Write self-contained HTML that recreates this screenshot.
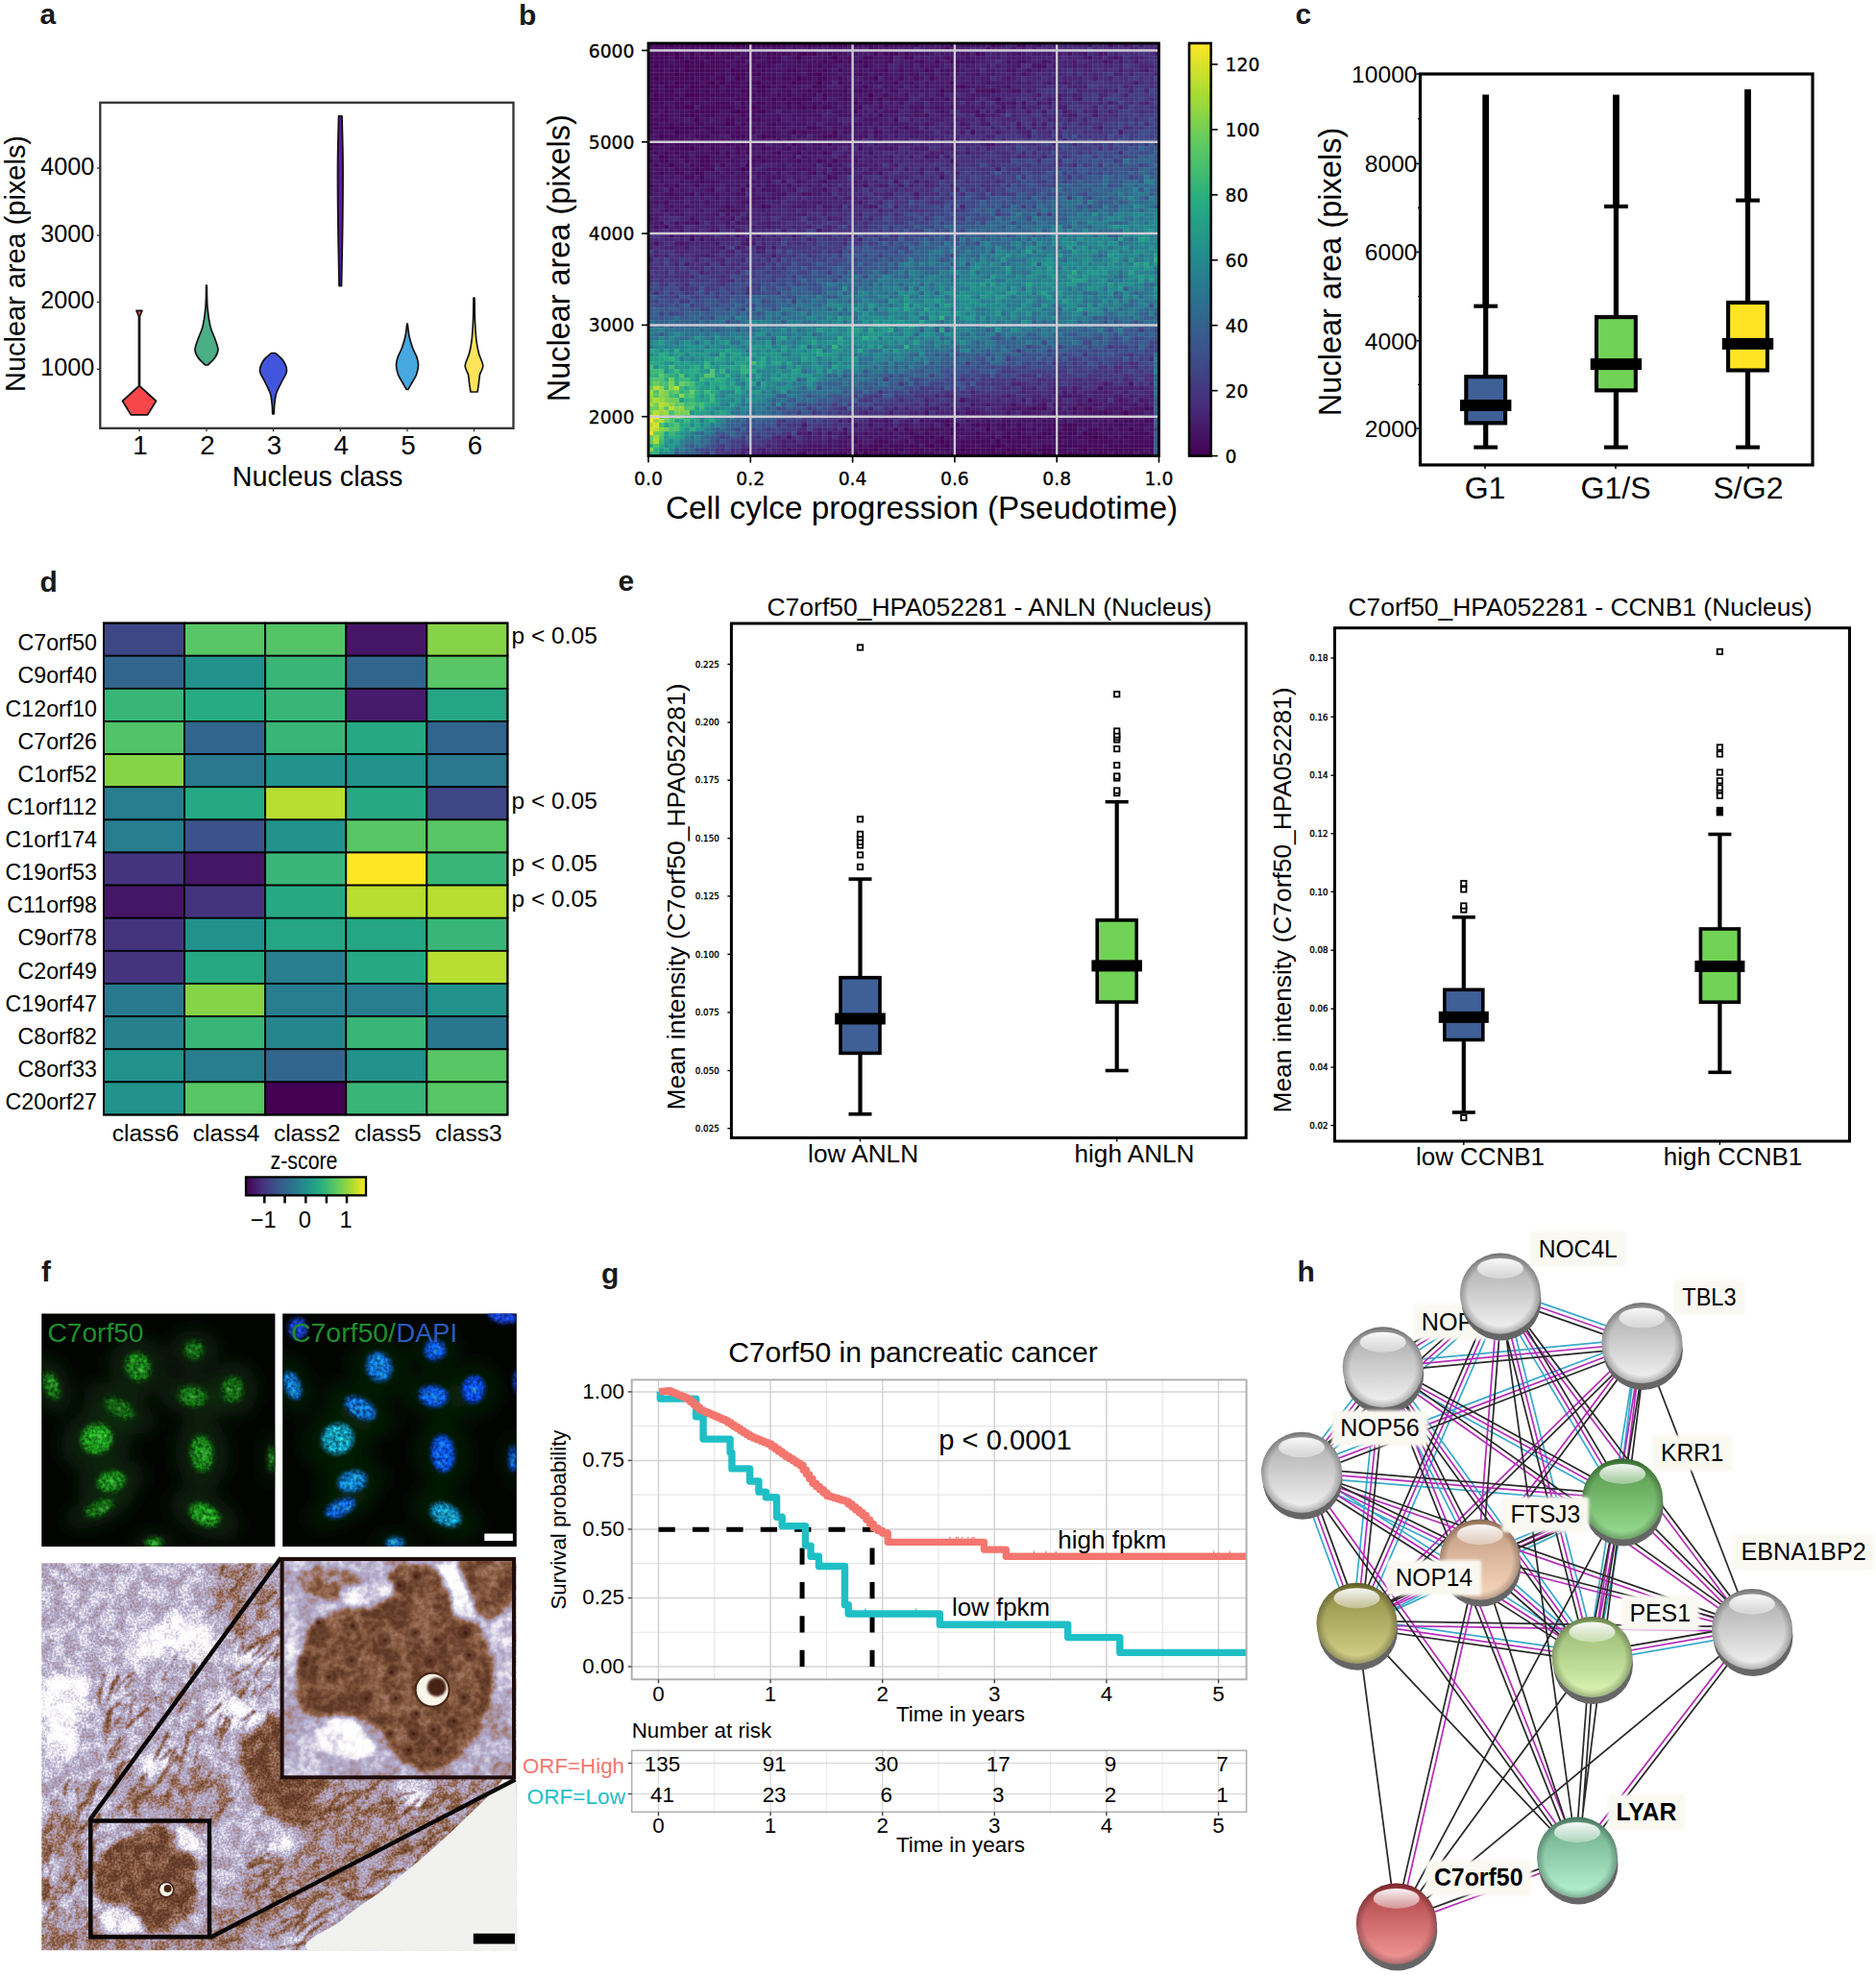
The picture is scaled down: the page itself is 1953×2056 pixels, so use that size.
<!DOCTYPE html>
<html><head><meta charset="utf-8"><title>Figure</title>
<style>html,body{margin:0;padding:0;background:#fff}svg{display:block}text{font-family:"Liberation Sans",sans-serif}text.d{font-family:"DejaVu Sans","Liberation Sans",sans-serif}</style>
</head><body>
<svg width="1953" height="2056" viewBox="0 0 1953 2056">
<rect width="1953" height="2056" fill="#fff"/>
<text  x="41.5" y="25" font-size="30" font-weight="bold" fill="#1a1a1a" >a</text>
<rect x="104.3" y="106.8" width="430.2" height="339" fill="#fff" stroke="#333" stroke-width="2.3" />
<path d="M100.8 175L104.3 175" stroke="#333" stroke-width="1.3" />
<text  x="98.4" y="181.7" font-size="25.2" text-anchor="end" >4000</text>
<path d="M100.8 245L104.3 245" stroke="#333" stroke-width="1.3" />
<text  x="98.4" y="251.7" font-size="25.2" text-anchor="end" >3000</text>
<path d="M100.8 314.5L104.3 314.5" stroke="#333" stroke-width="1.3" />
<text  x="98.4" y="321.2" font-size="25.2" text-anchor="end" >2000</text>
<path d="M100.8 384.3L104.3 384.3" stroke="#333" stroke-width="1.3" />
<text  x="98.4" y="391" font-size="25.2" text-anchor="end" >1000</text>
<path d="M145 445.8L145 449.3" stroke="#333" stroke-width="1.3" />
<text  x="146" y="473.4" font-size="27.8" text-anchor="middle" >1</text>
<path d="M215 445.8L215 449.3" stroke="#333" stroke-width="1.3" />
<text  x="216" y="473.4" font-size="27.8" text-anchor="middle" >2</text>
<path d="M284.5 445.8L284.5 449.3" stroke="#333" stroke-width="1.3" />
<text  x="285.5" y="473.4" font-size="27.8" text-anchor="middle" >3</text>
<path d="M354.3 445.8L354.3 449.3" stroke="#333" stroke-width="1.3" />
<text  x="355.3" y="473.4" font-size="27.8" text-anchor="middle" >4</text>
<path d="M424 445.8L424 449.3" stroke="#333" stroke-width="1.3" />
<text  x="425" y="473.4" font-size="27.8" text-anchor="middle" >5</text>
<path d="M493.5 445.8L493.5 449.3" stroke="#333" stroke-width="1.3" />
<text  x="494.5" y="473.4" font-size="27.8" text-anchor="middle" >6</text>
<text  x="330.6" y="506.2" font-size="28.8" text-anchor="middle" textLength="177.5" lengthAdjust="spacingAndGlyphs" >Nucleus class</text>
<text  font-size="29" text-anchor="middle" textLength="267" lengthAdjust="spacingAndGlyphs" transform="translate(26.2 274.5) rotate(-90)" >Nuclear area (pixels)</text>
<path d="M148 323.3L145.5 329.5L145.5 402L162.5 417.5L153.7 431.8L136.3 431.8L127.5 417.5L144.5 402L144.5 329.5L142 323.3Z" fill="#f8474a" stroke="#111" stroke-width="1.7" stroke-linejoin="round"/>
<path d="M215.3 297C215.42 300.83 215.38 312.83 216 320C216.62 327.17 217.75 334.67 219 340C220.25 345.33 222.17 348.03 223.5 352C224.83 355.97 226.92 360.47 227 363.8C227.08 367.13 225.75 369.3 224 372C222.25 374.7 217.75 378.67 216.5 380L213.5 380C212.25 378.67 207.75 374.7 206 372C204.25 369.3 202.92 367.13 203 363.8C203.08 360.47 205.17 355.97 206.5 352C207.83 348.03 209.75 345.33 211 340C212.25 334.67 213.38 327.17 214 320C214.62 312.83 214.58 300.83 214.7 297Z" fill="#4aae86" stroke="#111" stroke-width="1.7" stroke-linejoin="round"/>
<path d="M286.5 367.5C287.83 368.75 292.5 371.92 294.5 375C296.5 378.08 298.67 382.33 298.5 386C298.33 389.67 295.33 393 293.5 397C291.67 401 288.8 405.83 287.5 410C286.2 414.17 286.07 418.5 285.7 422C285.33 425.5 285.37 429.5 285.3 431L283.7 431C283.63 429.5 283.67 425.5 283.3 422C282.93 418.5 282.8 414.17 281.5 410C280.2 405.83 277.33 401 275.5 397C273.67 393 270.67 389.67 270.5 386C270.33 382.33 272.5 378.08 274.5 375C276.5 371.92 281.17 368.75 282.5 367.5Z" fill="#4455dd" stroke="#111" stroke-width="1.7" stroke-linejoin="round"/>
<path d="M356 121C356.17 129.17 356.88 151.83 357 170C357.12 188.17 356.95 208.75 356.7 230C356.45 251.25 355.7 286.25 355.5 297.5L353.1 297.5C352.9 286.25 352.15 251.25 351.9 230C351.65 208.75 351.48 188.17 351.6 170C351.72 151.83 352.43 129.17 352.6 121Z" fill="#5c19ad" stroke="#111" stroke-width="1.8" stroke-linejoin="round"/>
<path d="M424.3 337C424.58 339.17 425.13 345.83 426 350C426.87 354.17 428.17 358.33 429.5 362C430.83 365.67 433 369 434 372C435 375 435.58 377 435.5 380C435.42 383 434.67 386.83 433.5 390C432.33 393.17 429.95 396.42 428.5 399C427.05 401.58 425.42 404.42 424.8 405.5L423.2 405.5C422.58 404.42 420.95 401.58 419.5 399C418.05 396.42 415.67 393.17 414.5 390C413.33 386.83 412.58 383 412.5 380C412.42 377 413 375 414 372C415 369 417.17 365.67 418.5 362C419.83 358.33 421.13 354.17 422 350C422.87 345.83 423.42 339.17 423.7 337Z" fill="#48a8e0" stroke="#111" stroke-width="1.7" stroke-linejoin="round"/>
<path d="M494 310C494.08 314.17 494.17 327.5 494.5 335C494.83 342.5 495.33 349.5 496 355C496.67 360.5 497.37 363.7 498.5 368C499.63 372.3 502.63 377.13 502.8 380.8C502.97 384.47 500.25 386.8 499.5 390C498.75 393.2 498.72 397 498.3 400C497.88 403 497.22 406.67 497 408L490 408C489.78 406.67 489.12 403 488.7 400C488.28 397 488.25 393.2 487.5 390C486.75 386.8 484.03 384.47 484.2 380.8C484.37 377.13 487.37 372.3 488.5 368C489.63 363.7 490.33 360.5 491 355C491.67 349.5 492.17 342.5 492.5 335C492.83 327.5 492.92 314.17 493 310Z" fill="#ffe45a" stroke="#111" stroke-width="1.7" stroke-linejoin="round"/>
<text  x="540" y="25.5" font-size="30" font-weight="bold" fill="#1a1a1a" >b</text>
<g transform="translate(675 45) scale(5.3150 4.2960)" shape-rendering="crispEdges">
<rect width="100" height="100" fill="#451364"/>
<path fill="#440154" d="M4 0h1v1h-1zM12 0h1v1h-1zM16 0h2v1h-2zM8 1h1v1h-1zM12 1h1v1h-1zM19 1h1v1h-1zM43 1h1v1h-1zM58 1h1v1h-1zM3 2h1v1h-1zM5 2h1v1h-1zM8 2h1v1h-1zM12 2h1v1h-1zM30 2h1v1h-1zM32 2h1v1h-1zM5 3h1v1h-1zM8 3h1v1h-1zM29 3h1v1h-1zM36 3h1v1h-1zM7 4h1v1h-1zM1 5h1v1h-1zM7 5h1v1h-1zM10 5h1v1h-1zM21 5h1v1h-1zM7 6h1v1h-1zM16 6h1v1h-1zM5 7h1v1h-1zM21 7h1v1h-1zM33 7h1v1h-1zM1 8h1v1h-1zM14 8h1v1h-1zM17 8h1v1h-1zM29 8h1v1h-1zM44 8h1v1h-1zM5 9h1v1h-1zM12 9h1v1h-1zM14 9h1v1h-1zM21 9h1v1h-1zM28 9h1v1h-1zM33 9h1v1h-1zM3 10h1v1h-1zM5 10h1v1h-1zM8 10h1v1h-1zM13 10h1v1h-1zM22 10h1v1h-1zM1 12h1v1h-1zM7 12h3v1h-3zM43 12h1v1h-1zM1 13h1v1h-1zM7 15h2v1h-2zM20 15h1v1h-1zM32 15h1v1h-1zM17 16h1v1h-1zM22 16h1v1h-1zM8 17h1v1h-1zM9 18h1v1h-1zM15 19h1v1h-1zM4 20h1v1h-1zM5 21h1v1h-1zM28 21h1v1h-1zM2 22h1v1h-1zM22 22h1v1h-1zM1 24h1v1h-1zM8 25h1v1h-1zM2 27h1v1h-1zM4 29h1v1h-1zM19 29h1v1h-1zM18 30h1v1h-1zM93 89h1v1h-1zM76 90h1v1h-1zM93 90h1v1h-1zM66 93h1v1h-1zM94 93h1v1h-1zM85 94h1v1h-1zM70 95h1v1h-1zM87 95h1v1h-1zM57 96h1v1h-1zM68 96h1v1h-1zM55 97h1v1h-1zM58 97h1v1h-1zM68 97h1v1h-1zM44 98h1v1h-1zM61 98h1v1h-1zM67 98h1v1h-1zM70 98h2v1h-2zM77 98h2v1h-2zM85 98h1v1h-1zM40 99h1v1h-1zM42 99h1v1h-1zM52 99h1v1h-1zM60 99h1v1h-1zM67 99h1v1h-1zM69 99h1v1h-1zM71 99h1v1h-1zM73 99h2v1h-2zM77 99h2v1h-2zM88 99h2v1h-2z"/>
<path fill="#450a5c" d="M0 0h4v1h-4zM5 0h7v1h-7zM13 0h3v1h-3zM18 0h9v1h-9zM30 0h4v1h-4zM36 0h3v1h-3zM40 0h1v1h-1zM43 0h1v1h-1zM46 0h1v1h-1zM52 0h1v1h-1zM59 0h1v1h-1zM67 0h1v1h-1zM72 0h2v1h-2zM0 1h8v1h-8zM9 1h1v1h-1zM11 1h1v1h-1zM13 1h3v1h-3zM17 1h1v1h-1zM20 1h1v1h-1zM24 1h3v1h-3zM28 1h1v1h-1zM31 1h1v1h-1zM36 1h2v1h-2zM44 1h1v1h-1zM66 1h1v1h-1zM71 1h1v1h-1zM0 2h3v1h-3zM4 2h1v1h-1zM6 2h1v1h-1zM10 2h2v1h-2zM14 2h4v1h-4zM19 2h1v1h-1zM23 2h2v1h-2zM26 2h2v1h-2zM29 2h1v1h-1zM31 2h1v1h-1zM35 2h1v1h-1zM44 2h1v1h-1zM46 2h3v1h-3zM50 2h1v1h-1zM64 2h1v1h-1zM0 3h4v1h-4zM6 3h1v1h-1zM9 3h1v1h-1zM11 3h6v1h-6zM18 3h4v1h-4zM23 3h3v1h-3zM39 3h1v1h-1zM42 3h2v1h-2zM47 3h1v1h-1zM50 3h2v1h-2zM58 3h1v1h-1zM0 4h4v1h-4zM5 4h2v1h-2zM8 4h3v1h-3zM12 4h3v1h-3zM17 4h2v1h-2zM20 4h1v1h-1zM23 4h3v1h-3zM29 4h1v1h-1zM34 4h1v1h-1zM36 4h2v1h-2zM39 4h1v1h-1zM41 4h2v1h-2zM47 4h1v1h-1zM53 4h1v1h-1zM56 4h1v1h-1zM59 4h2v1h-2zM0 5h1v1h-1zM2 5h5v1h-5zM8 5h2v1h-2zM11 5h5v1h-5zM17 5h1v1h-1zM19 5h1v1h-1zM22 5h2v1h-2zM31 5h1v1h-1zM33 5h1v1h-1zM35 5h1v1h-1zM42 5h1v1h-1zM0 6h3v1h-3zM4 6h2v1h-2zM8 6h7v1h-7zM17 6h4v1h-4zM22 6h1v1h-1zM27 6h2v1h-2zM31 6h1v1h-1zM34 6h1v1h-1zM37 6h1v1h-1zM46 6h1v1h-1zM49 6h1v1h-1zM54 6h1v1h-1zM0 7h5v1h-5zM6 7h7v1h-7zM14 7h1v1h-1zM16 7h3v1h-3zM20 7h1v1h-1zM31 7h2v1h-2zM41 7h1v1h-1zM0 8h1v1h-1zM2 8h7v1h-7zM10 8h2v1h-2zM13 8h1v1h-1zM18 8h1v1h-1zM22 8h3v1h-3zM26 8h2v1h-2zM30 8h2v1h-2zM33 8h2v1h-2zM37 8h1v1h-1zM49 8h1v1h-1zM52 8h1v1h-1zM55 8h1v1h-1zM0 9h4v1h-4zM6 9h4v1h-4zM11 9h1v1h-1zM16 9h2v1h-2zM19 9h2v1h-2zM24 9h1v1h-1zM29 9h1v1h-1zM37 9h1v1h-1zM48 9h1v1h-1zM59 9h1v1h-1zM0 10h2v1h-2zM4 10h1v1h-1zM6 10h1v1h-1zM9 10h4v1h-4zM15 10h3v1h-3zM19 10h1v1h-1zM21 10h1v1h-1zM23 10h1v1h-1zM26 10h1v1h-1zM32 10h2v1h-2zM42 10h1v1h-1zM61 10h1v1h-1zM0 11h2v1h-2zM3 11h2v1h-2zM7 11h3v1h-3zM11 11h1v1h-1zM13 11h1v1h-1zM15 11h1v1h-1zM18 11h2v1h-2zM21 11h2v1h-2zM27 11h1v1h-1zM31 11h1v1h-1zM33 11h1v1h-1zM38 11h1v1h-1zM41 11h1v1h-1zM57 11h1v1h-1zM67 11h1v1h-1zM2 12h4v1h-4zM10 12h7v1h-7zM19 12h2v1h-2zM22 12h1v1h-1zM25 12h1v1h-1zM27 12h1v1h-1zM30 12h1v1h-1zM32 12h1v1h-1zM34 12h1v1h-1zM46 12h1v1h-1zM0 13h1v1h-1zM2 13h3v1h-3zM6 13h4v1h-4zM11 13h1v1h-1zM17 13h3v1h-3zM24 13h1v1h-1zM26 13h1v1h-1zM28 13h4v1h-4zM34 13h1v1h-1zM38 13h1v1h-1zM43 13h1v1h-1zM45 13h1v1h-1zM68 13h1v1h-1zM0 14h3v1h-3zM5 14h2v1h-2zM8 14h2v1h-2zM13 14h3v1h-3zM18 14h1v1h-1zM21 14h2v1h-2zM24 14h1v1h-1zM27 14h1v1h-1zM29 14h1v1h-1zM40 14h1v1h-1zM0 15h4v1h-4zM5 15h2v1h-2zM10 15h7v1h-7zM18 15h1v1h-1zM21 15h1v1h-1zM24 15h1v1h-1zM27 15h1v1h-1zM29 15h2v1h-2zM34 15h2v1h-2zM41 15h1v1h-1zM0 16h2v1h-2zM3 16h1v1h-1zM8 16h6v1h-6zM16 16h1v1h-1zM18 16h4v1h-4zM40 16h1v1h-1zM0 17h1v1h-1zM2 17h2v1h-2zM6 17h2v1h-2zM9 17h1v1h-1zM11 17h2v1h-2zM18 17h1v1h-1zM20 17h1v1h-1zM45 17h1v1h-1zM54 17h1v1h-1zM0 18h4v1h-4zM15 18h2v1h-2zM19 18h3v1h-3zM25 18h1v1h-1zM48 18h1v1h-1zM0 19h2v1h-2zM4 19h1v1h-1zM6 19h1v1h-1zM9 19h2v1h-2zM16 19h1v1h-1zM18 19h1v1h-1zM24 19h1v1h-1zM0 20h4v1h-4zM5 20h5v1h-5zM11 20h2v1h-2zM17 20h1v1h-1zM20 20h1v1h-1zM31 20h2v1h-2zM0 21h1v1h-1zM2 21h1v1h-1zM6 21h2v1h-2zM12 21h2v1h-2zM15 21h1v1h-1zM17 21h1v1h-1zM20 21h1v1h-1zM24 21h1v1h-1zM30 21h1v1h-1zM36 21h1v1h-1zM44 21h1v1h-1zM63 21h1v1h-1zM3 22h3v1h-3zM9 22h3v1h-3zM16 22h3v1h-3zM23 22h2v1h-2zM34 22h3v1h-3zM0 23h1v1h-1zM2 23h1v1h-1zM4 23h3v1h-3zM10 23h1v1h-1zM14 23h1v1h-1zM25 23h1v1h-1zM27 23h1v1h-1zM0 24h1v1h-1zM2 24h1v1h-1zM5 24h3v1h-3zM10 24h1v1h-1zM15 24h1v1h-1zM18 24h1v1h-1zM28 24h1v1h-1zM35 24h1v1h-1zM0 25h1v1h-1zM4 25h4v1h-4zM12 25h1v1h-1zM17 25h1v1h-1zM19 25h1v1h-1zM22 25h1v1h-1zM27 25h1v1h-1zM41 25h1v1h-1zM1 26h1v1h-1zM3 26h1v1h-1zM5 26h1v1h-1zM13 26h1v1h-1zM15 26h1v1h-1zM17 26h1v1h-1zM19 26h1v1h-1zM25 26h1v1h-1zM29 26h1v1h-1zM34 26h1v1h-1zM3 27h1v1h-1zM6 27h2v1h-2zM9 27h3v1h-3zM15 27h1v1h-1zM21 27h1v1h-1zM0 28h1v1h-1zM2 28h2v1h-2zM7 28h1v1h-1zM10 28h2v1h-2zM20 28h1v1h-1zM22 28h1v1h-1zM29 28h1v1h-1zM33 28h1v1h-1zM36 28h1v1h-1zM1 29h1v1h-1zM8 29h1v1h-1zM10 29h2v1h-2zM14 29h1v1h-1zM35 29h1v1h-1zM5 30h1v1h-1zM9 30h1v1h-1zM11 30h2v1h-2zM19 30h1v1h-1zM2 31h1v1h-1zM5 31h2v1h-2zM9 31h2v1h-2zM32 31h1v1h-1zM7 32h2v1h-2zM10 32h1v1h-1zM35 32h1v1h-1zM10 33h1v1h-1zM0 34h1v1h-1zM3 34h1v1h-1zM5 34h1v1h-1zM9 34h1v1h-1zM19 34h1v1h-1zM4 35h1v1h-1zM12 35h1v1h-1zM18 35h1v1h-1zM4 36h1v1h-1zM8 36h1v1h-1zM3 38h1v1h-1zM15 39h1v1h-1zM22 39h1v1h-1zM9 43h1v1h-1zM3 44h1v1h-1zM8 47h1v1h-1zM86 86h1v1h-1zM75 88h1v1h-1zM77 88h1v1h-1zM83 88h1v1h-1zM86 88h1v1h-1zM97 88h1v1h-1zM79 89h1v1h-1zM89 89h1v1h-1zM65 90h1v1h-1zM69 90h1v1h-1zM78 90h2v1h-2zM84 90h1v1h-1zM91 90h2v1h-2zM98 90h1v1h-1zM58 91h1v1h-1zM91 91h1v1h-1zM93 91h2v1h-2zM97 91h2v1h-2zM58 92h1v1h-1zM60 92h1v1h-1zM64 92h1v1h-1zM66 92h1v1h-1zM69 92h1v1h-1zM72 92h1v1h-1zM79 92h1v1h-1zM81 92h3v1h-3zM92 92h1v1h-1zM96 92h1v1h-1zM48 93h1v1h-1zM50 93h1v1h-1zM55 93h1v1h-1zM59 93h1v1h-1zM69 93h1v1h-1zM72 93h2v1h-2zM75 93h1v1h-1zM78 93h2v1h-2zM81 93h3v1h-3zM86 93h2v1h-2zM90 93h1v1h-1zM92 93h1v1h-1zM96 93h1v1h-1zM51 94h1v1h-1zM54 94h1v1h-1zM59 94h1v1h-1zM64 94h1v1h-1zM70 94h1v1h-1zM72 94h1v1h-1zM77 94h2v1h-2zM80 94h1v1h-1zM82 94h2v1h-2zM86 94h2v1h-2zM95 94h3v1h-3zM52 95h2v1h-2zM55 95h1v1h-1zM57 95h1v1h-1zM64 95h1v1h-1zM67 95h1v1h-1zM69 95h1v1h-1zM72 95h3v1h-3zM76 95h2v1h-2zM79 95h4v1h-4zM84 95h3v1h-3zM88 95h2v1h-2zM91 95h1v1h-1zM93 95h4v1h-4zM98 95h1v1h-1zM40 96h1v1h-1zM44 96h3v1h-3zM50 96h1v1h-1zM52 96h1v1h-1zM54 96h1v1h-1zM56 96h1v1h-1zM58 96h1v1h-1zM61 96h6v1h-6zM70 96h5v1h-5zM80 96h1v1h-1zM82 96h2v1h-2zM86 96h5v1h-5zM92 96h1v1h-1zM94 96h5v1h-5zM41 97h1v1h-1zM43 97h3v1h-3zM47 97h3v1h-3zM51 97h2v1h-2zM54 97h1v1h-1zM57 97h1v1h-1zM61 97h3v1h-3zM65 97h3v1h-3zM69 97h1v1h-1zM71 97h2v1h-2zM74 97h1v1h-1zM77 97h12v1h-12zM90 97h9v1h-9zM39 98h1v1h-1zM41 98h3v1h-3zM46 98h1v1h-1zM48 98h2v1h-2zM51 98h3v1h-3zM56 98h1v1h-1zM58 98h1v1h-1zM60 98h1v1h-1zM62 98h5v1h-5zM69 98h1v1h-1zM72 98h2v1h-2zM75 98h2v1h-2zM79 98h3v1h-3zM84 98h1v1h-1zM87 98h10v1h-10zM98 98h1v1h-1zM30 99h1v1h-1zM36 99h3v1h-3zM43 99h6v1h-6zM51 99h1v1h-1zM53 99h3v1h-3zM59 99h1v1h-1zM61 99h6v1h-6zM68 99h1v1h-1zM70 99h1v1h-1zM72 99h1v1h-1zM75 99h1v1h-1zM79 99h9v1h-9zM91 99h4v1h-4zM96 99h3v1h-3z"/>
<path fill="#461b6b" d="M39 0h1v1h-1zM45 0h1v1h-1zM53 0h3v1h-3zM57 0h2v1h-2zM60 0h1v1h-1zM69 0h1v1h-1zM75 0h1v1h-1zM96 0h1v1h-1zM34 1h1v1h-1zM42 1h1v1h-1zM49 1h1v1h-1zM53 1h1v1h-1zM60 1h1v1h-1zM62 1h1v1h-1zM67 1h2v1h-2zM78 1h1v1h-1zM87 1h1v1h-1zM94 1h2v1h-2zM99 1h1v1h-1zM39 2h1v1h-1zM41 2h3v1h-3zM45 2h1v1h-1zM49 2h1v1h-1zM55 2h1v1h-1zM57 2h4v1h-4zM68 2h1v1h-1zM70 2h1v1h-1zM73 2h1v1h-1zM75 2h3v1h-3zM80 2h1v1h-1zM84 2h1v1h-1zM89 2h1v1h-1zM99 2h1v1h-1zM26 3h1v1h-1zM32 3h1v1h-1zM40 3h2v1h-2zM49 3h1v1h-1zM53 3h1v1h-1zM55 3h1v1h-1zM57 3h1v1h-1zM60 3h2v1h-2zM63 3h3v1h-3zM67 3h2v1h-2zM70 3h5v1h-5zM79 3h1v1h-1zM85 3h1v1h-1zM88 3h1v1h-1zM90 3h1v1h-1zM92 3h1v1h-1zM95 3h1v1h-1zM19 4h1v1h-1zM49 4h2v1h-2zM54 4h2v1h-2zM57 4h2v1h-2zM64 4h2v1h-2zM71 4h1v1h-1zM74 4h1v1h-1zM78 4h1v1h-1zM83 4h1v1h-1zM90 4h1v1h-1zM92 4h1v1h-1zM95 4h1v1h-1zM25 5h1v1h-1zM37 5h1v1h-1zM40 5h1v1h-1zM44 5h2v1h-2zM50 5h1v1h-1zM54 5h1v1h-1zM57 5h1v1h-1zM59 5h1v1h-1zM62 5h2v1h-2zM66 5h1v1h-1zM68 5h1v1h-1zM70 5h2v1h-2zM79 5h1v1h-1zM83 5h1v1h-1zM85 5h1v1h-1zM36 6h1v1h-1zM40 6h1v1h-1zM42 6h1v1h-1zM47 6h2v1h-2zM50 6h1v1h-1zM52 6h2v1h-2zM61 6h1v1h-1zM63 6h2v1h-2zM66 6h2v1h-2zM76 6h1v1h-1zM92 6h1v1h-1zM97 6h1v1h-1zM25 7h1v1h-1zM30 7h1v1h-1zM37 7h1v1h-1zM43 7h1v1h-1zM47 7h2v1h-2zM50 7h1v1h-1zM54 7h1v1h-1zM57 7h1v1h-1zM60 7h1v1h-1zM62 7h2v1h-2zM66 7h2v1h-2zM71 7h1v1h-1zM74 7h1v1h-1zM15 8h1v1h-1zM39 8h3v1h-3zM48 8h1v1h-1zM50 8h2v1h-2zM53 8h1v1h-1zM56 8h4v1h-4zM61 8h1v1h-1zM63 8h1v1h-1zM65 8h2v1h-2zM69 8h1v1h-1zM71 8h1v1h-1zM87 8h1v1h-1zM40 9h1v1h-1zM42 9h1v1h-1zM49 9h2v1h-2zM52 9h1v1h-1zM55 9h4v1h-4zM61 9h3v1h-3zM65 9h1v1h-1zM67 9h4v1h-4zM72 9h1v1h-1zM74 9h1v1h-1zM78 9h1v1h-1zM81 9h1v1h-1zM95 9h1v1h-1zM30 10h2v1h-2zM35 10h3v1h-3zM40 10h1v1h-1zM48 10h1v1h-1zM51 10h1v1h-1zM55 10h4v1h-4zM63 10h3v1h-3zM68 10h2v1h-2zM24 11h1v1h-1zM28 11h1v1h-1zM39 11h1v1h-1zM46 11h1v1h-1zM50 11h5v1h-5zM56 11h1v1h-1zM58 11h1v1h-1zM61 11h2v1h-2zM70 11h1v1h-1zM74 11h1v1h-1zM33 12h1v1h-1zM40 12h1v1h-1zM42 12h1v1h-1zM44 12h2v1h-2zM47 12h2v1h-2zM52 12h1v1h-1zM54 12h1v1h-1zM56 12h1v1h-1zM62 12h1v1h-1zM64 12h3v1h-3zM76 12h1v1h-1zM80 12h1v1h-1zM83 12h1v1h-1zM32 13h2v1h-2zM35 13h2v1h-2zM41 13h1v1h-1zM44 13h1v1h-1zM46 13h1v1h-1zM53 13h2v1h-2zM56 13h2v1h-2zM60 13h3v1h-3zM67 13h1v1h-1zM78 13h1v1h-1zM80 13h1v1h-1zM84 13h1v1h-1zM17 14h1v1h-1zM34 14h1v1h-1zM37 14h1v1h-1zM39 14h1v1h-1zM41 14h1v1h-1zM47 14h1v1h-1zM52 14h2v1h-2zM55 14h3v1h-3zM62 14h1v1h-1zM65 14h1v1h-1zM68 14h3v1h-3zM76 14h1v1h-1zM78 14h1v1h-1zM90 14h1v1h-1zM9 15h1v1h-1zM37 15h1v1h-1zM39 15h1v1h-1zM43 15h2v1h-2zM46 15h4v1h-4zM55 15h1v1h-1zM58 15h1v1h-1zM60 15h4v1h-4zM65 15h1v1h-1zM71 15h1v1h-1zM73 15h1v1h-1zM80 15h2v1h-2zM28 16h1v1h-1zM33 16h2v1h-2zM39 16h1v1h-1zM41 16h2v1h-2zM51 16h1v1h-1zM53 16h1v1h-1zM56 16h1v1h-1zM58 16h1v1h-1zM61 16h3v1h-3zM66 16h1v1h-1zM69 16h1v1h-1zM74 16h1v1h-1zM77 16h1v1h-1zM81 16h1v1h-1zM87 16h1v1h-1zM26 17h2v1h-2zM35 17h2v1h-2zM40 17h1v1h-1zM46 17h3v1h-3zM50 17h2v1h-2zM53 17h1v1h-1zM57 17h3v1h-3zM67 17h1v1h-1zM82 17h2v1h-2zM87 17h1v1h-1zM7 18h1v1h-1zM12 18h1v1h-1zM26 18h2v1h-2zM29 18h1v1h-1zM31 18h2v1h-2zM34 18h2v1h-2zM41 18h1v1h-1zM45 18h2v1h-2zM51 18h1v1h-1zM55 18h3v1h-3zM61 18h1v1h-1zM65 18h1v1h-1zM17 19h1v1h-1zM20 19h1v1h-1zM22 19h1v1h-1zM28 19h1v1h-1zM31 19h1v1h-1zM34 19h1v1h-1zM39 19h1v1h-1zM42 19h1v1h-1zM46 19h2v1h-2zM49 19h2v1h-2zM52 19h1v1h-1zM55 19h1v1h-1zM59 19h1v1h-1zM62 19h1v1h-1zM65 19h1v1h-1zM75 19h1v1h-1zM77 19h1v1h-1zM25 20h1v1h-1zM27 20h4v1h-4zM34 20h1v1h-1zM37 20h1v1h-1zM40 20h3v1h-3zM47 20h1v1h-1zM49 20h1v1h-1zM51 20h2v1h-2zM54 20h1v1h-1zM59 20h1v1h-1zM62 20h1v1h-1zM72 20h1v1h-1zM88 20h1v1h-1zM21 21h1v1h-1zM26 21h1v1h-1zM35 21h1v1h-1zM40 21h2v1h-2zM47 21h1v1h-1zM51 21h1v1h-1zM53 21h1v1h-1zM58 21h1v1h-1zM61 21h1v1h-1zM68 21h1v1h-1zM74 21h1v1h-1zM92 21h1v1h-1zM14 22h2v1h-2zM20 22h1v1h-1zM32 22h1v1h-1zM37 22h2v1h-2zM40 22h1v1h-1zM45 22h2v1h-2zM48 22h1v1h-1zM51 22h2v1h-2zM54 22h1v1h-1zM74 22h1v1h-1zM9 23h1v1h-1zM20 23h2v1h-2zM23 23h2v1h-2zM26 23h1v1h-1zM28 23h2v1h-2zM31 23h1v1h-1zM35 23h2v1h-2zM38 23h1v1h-1zM40 23h2v1h-2zM44 23h1v1h-1zM47 23h1v1h-1zM50 23h1v1h-1zM54 23h2v1h-2zM57 23h1v1h-1zM59 23h2v1h-2zM65 23h1v1h-1zM20 24h1v1h-1zM24 24h2v1h-2zM30 24h1v1h-1zM34 24h1v1h-1zM36 24h4v1h-4zM41 24h1v1h-1zM44 24h1v1h-1zM46 24h1v1h-1zM48 24h1v1h-1zM66 24h2v1h-2zM16 25h1v1h-1zM21 25h1v1h-1zM25 25h1v1h-1zM28 25h1v1h-1zM31 25h1v1h-1zM34 25h2v1h-2zM39 25h1v1h-1zM43 25h1v1h-1zM45 25h2v1h-2zM48 25h1v1h-1zM52 25h3v1h-3zM59 25h1v1h-1zM8 26h1v1h-1zM14 26h1v1h-1zM16 26h1v1h-1zM18 26h1v1h-1zM20 26h2v1h-2zM23 26h1v1h-1zM26 26h2v1h-2zM30 26h1v1h-1zM33 26h1v1h-1zM38 26h2v1h-2zM55 26h1v1h-1zM57 26h1v1h-1zM62 26h1v1h-1zM1 27h1v1h-1zM8 27h1v1h-1zM16 27h1v1h-1zM19 27h1v1h-1zM26 27h2v1h-2zM31 27h2v1h-2zM34 27h2v1h-2zM37 27h1v1h-1zM40 27h2v1h-2zM44 27h1v1h-1zM47 27h1v1h-1zM51 27h1v1h-1zM55 27h2v1h-2zM58 27h1v1h-1zM6 28h1v1h-1zM18 28h1v1h-1zM26 28h1v1h-1zM30 28h1v1h-1zM32 28h1v1h-1zM35 28h1v1h-1zM37 28h3v1h-3zM43 28h1v1h-1zM47 28h1v1h-1zM7 29h1v1h-1zM15 29h2v1h-2zM21 29h1v1h-1zM25 29h2v1h-2zM28 29h4v1h-4zM34 29h1v1h-1zM36 29h2v1h-2zM40 29h3v1h-3zM44 29h1v1h-1zM48 29h1v1h-1zM4 30h1v1h-1zM14 30h1v1h-1zM16 30h1v1h-1zM20 30h1v1h-1zM22 30h1v1h-1zM27 30h2v1h-2zM32 30h1v1h-1zM34 30h1v1h-1zM39 30h1v1h-1zM43 30h2v1h-2zM47 30h1v1h-1zM50 30h1v1h-1zM53 30h1v1h-1zM56 30h1v1h-1zM68 30h1v1h-1zM7 31h1v1h-1zM11 31h2v1h-2zM14 31h1v1h-1zM17 31h1v1h-1zM19 31h2v1h-2zM23 31h1v1h-1zM27 31h1v1h-1zM29 31h1v1h-1zM37 31h2v1h-2zM42 31h2v1h-2zM53 31h1v1h-1zM3 32h1v1h-1zM5 32h1v1h-1zM9 32h1v1h-1zM11 32h3v1h-3zM16 32h1v1h-1zM22 32h1v1h-1zM26 32h1v1h-1zM28 32h2v1h-2zM31 32h1v1h-1zM41 32h1v1h-1zM1 33h1v1h-1zM3 33h3v1h-3zM7 33h1v1h-1zM14 33h6v1h-6zM21 33h2v1h-2zM30 33h1v1h-1zM33 33h1v1h-1zM40 33h1v1h-1zM52 33h1v1h-1zM2 34h1v1h-1zM6 34h3v1h-3zM10 34h2v1h-2zM13 34h1v1h-1zM16 34h1v1h-1zM25 34h1v1h-1zM29 34h1v1h-1zM31 34h1v1h-1zM33 34h1v1h-1zM35 34h1v1h-1zM40 34h1v1h-1zM45 34h2v1h-2zM49 34h1v1h-1zM2 35h1v1h-1zM5 35h1v1h-1zM7 35h4v1h-4zM17 35h1v1h-1zM25 35h1v1h-1zM27 35h1v1h-1zM32 35h2v1h-2zM37 35h1v1h-1zM1 36h2v1h-2zM6 36h1v1h-1zM11 36h1v1h-1zM14 36h3v1h-3zM20 36h1v1h-1zM24 36h1v1h-1zM32 36h2v1h-2zM35 36h1v1h-1zM47 36h1v1h-1zM52 36h1v1h-1zM1 37h3v1h-3zM8 37h1v1h-1zM10 37h1v1h-1zM12 37h1v1h-1zM15 37h1v1h-1zM17 37h3v1h-3zM23 37h1v1h-1zM25 37h1v1h-1zM36 37h1v1h-1zM39 37h1v1h-1zM0 38h1v1h-1zM2 38h1v1h-1zM4 38h3v1h-3zM8 38h2v1h-2zM12 38h2v1h-2zM17 38h1v1h-1zM21 38h2v1h-2zM25 38h1v1h-1zM30 38h1v1h-1zM32 38h2v1h-2zM41 38h1v1h-1zM0 39h2v1h-2zM5 39h2v1h-2zM8 39h2v1h-2zM11 39h4v1h-4zM16 39h3v1h-3zM20 39h2v1h-2zM28 39h3v1h-3zM32 39h1v1h-1zM34 39h2v1h-2zM37 39h1v1h-1zM43 39h2v1h-2zM0 40h1v1h-1zM2 40h1v1h-1zM4 40h1v1h-1zM6 40h1v1h-1zM9 40h2v1h-2zM13 40h1v1h-1zM18 40h1v1h-1zM22 40h1v1h-1zM0 41h3v1h-3zM4 41h2v1h-2zM9 41h1v1h-1zM11 41h2v1h-2zM17 41h1v1h-1zM19 41h1v1h-1zM23 41h1v1h-1zM30 41h1v1h-1zM1 42h1v1h-1zM9 42h1v1h-1zM11 42h2v1h-2zM14 42h2v1h-2zM18 42h1v1h-1zM35 42h1v1h-1zM0 43h2v1h-2zM6 43h1v1h-1zM8 43h1v1h-1zM12 43h1v1h-1zM18 43h2v1h-2zM23 43h1v1h-1zM2 44h1v1h-1zM5 44h2v1h-2zM12 44h1v1h-1zM15 44h2v1h-2zM20 44h1v1h-1zM23 44h1v1h-1zM1 45h1v1h-1zM4 45h1v1h-1zM9 45h1v1h-1zM26 45h1v1h-1zM6 46h1v1h-1zM11 46h1v1h-1zM15 46h1v1h-1zM18 46h1v1h-1zM28 46h1v1h-1zM12 47h1v1h-1zM5 48h1v1h-1zM7 48h1v1h-1zM13 48h1v1h-1zM18 48h1v1h-1zM20 48h1v1h-1zM7 49h1v1h-1zM14 49h1v1h-1zM17 49h1v1h-1zM21 49h2v1h-2zM24 49h1v1h-1zM16 50h1v1h-1zM11 51h1v1h-1zM24 51h1v1h-1zM7 53h1v1h-1zM89 82h1v1h-1zM83 83h1v1h-1zM92 83h1v1h-1zM94 83h1v1h-1zM96 83h1v1h-1zM81 84h1v1h-1zM83 84h1v1h-1zM87 84h1v1h-1zM89 84h1v1h-1zM93 84h1v1h-1zM70 85h1v1h-1zM80 85h1v1h-1zM83 85h2v1h-2zM91 85h2v1h-2zM94 85h1v1h-1zM98 85h1v1h-1zM73 86h1v1h-1zM75 86h1v1h-1zM77 86h1v1h-1zM80 86h1v1h-1zM84 86h1v1h-1zM87 86h1v1h-1zM89 86h1v1h-1zM91 86h1v1h-1zM93 86h1v1h-1zM97 86h1v1h-1zM66 87h1v1h-1zM76 87h1v1h-1zM79 87h2v1h-2zM85 87h2v1h-2zM88 87h1v1h-1zM90 87h5v1h-5zM55 88h2v1h-2zM62 88h1v1h-1zM69 88h2v1h-2zM73 88h1v1h-1zM82 88h1v1h-1zM84 88h1v1h-1zM87 88h1v1h-1zM89 88h1v1h-1zM94 88h1v1h-1zM47 89h1v1h-1zM60 89h1v1h-1zM64 89h2v1h-2zM75 89h2v1h-2zM80 89h2v1h-2zM84 89h1v1h-1zM91 89h1v1h-1zM98 89h1v1h-1zM43 90h1v1h-1zM46 90h1v1h-1zM48 90h1v1h-1zM51 90h2v1h-2zM59 90h1v1h-1zM63 90h2v1h-2zM67 90h1v1h-1zM75 90h1v1h-1zM77 90h1v1h-1zM80 90h1v1h-1zM96 90h1v1h-1zM39 91h1v1h-1zM43 91h3v1h-3zM47 91h1v1h-1zM50 91h2v1h-2zM54 91h2v1h-2zM63 91h3v1h-3zM67 91h2v1h-2zM71 91h1v1h-1zM76 91h1v1h-1zM80 91h1v1h-1zM83 91h1v1h-1zM88 91h1v1h-1zM90 91h1v1h-1zM30 92h1v1h-1zM46 92h2v1h-2zM49 92h1v1h-1zM51 92h1v1h-1zM53 92h2v1h-2zM57 92h1v1h-1zM59 92h1v1h-1zM61 92h2v1h-2zM67 92h1v1h-1zM71 92h1v1h-1zM74 92h1v1h-1zM87 92h1v1h-1zM43 93h2v1h-2zM46 93h1v1h-1zM52 93h1v1h-1zM62 93h1v1h-1zM64 93h2v1h-2zM67 93h1v1h-1zM76 93h1v1h-1zM84 93h2v1h-2zM91 93h1v1h-1zM97 93h1v1h-1zM29 94h2v1h-2zM33 94h1v1h-1zM37 94h1v1h-1zM40 94h2v1h-2zM43 94h1v1h-1zM45 94h1v1h-1zM48 94h1v1h-1zM53 94h1v1h-1zM57 94h1v1h-1zM68 94h1v1h-1zM74 94h1v1h-1zM84 94h1v1h-1zM31 95h1v1h-1zM33 95h1v1h-1zM35 95h1v1h-1zM37 95h2v1h-2zM41 95h2v1h-2zM44 95h1v1h-1zM49 95h2v1h-2zM61 95h1v1h-1zM68 95h1v1h-1zM26 96h1v1h-1zM28 96h1v1h-1zM31 96h1v1h-1zM33 96h1v1h-1zM36 96h1v1h-1zM39 96h1v1h-1zM42 96h2v1h-2zM48 96h1v1h-1zM51 96h1v1h-1zM26 97h1v1h-1zM29 97h2v1h-2zM34 97h1v1h-1zM36 97h1v1h-1zM39 97h2v1h-2zM53 97h1v1h-1zM19 98h1v1h-1zM22 98h1v1h-1zM26 98h1v1h-1zM28 98h2v1h-2zM36 98h1v1h-1zM18 99h1v1h-1zM23 99h3v1h-3zM27 99h2v1h-2zM31 99h1v1h-1zM33 99h1v1h-1z"/>
<path fill="#462473" d="M56 0h1v1h-1zM66 0h1v1h-1zM70 0h2v1h-2zM74 0h1v1h-1zM77 0h1v1h-1zM79 0h3v1h-3zM83 0h3v1h-3zM91 0h1v1h-1zM94 0h1v1h-1zM52 1h1v1h-1zM63 1h3v1h-3zM69 1h2v1h-2zM72 1h1v1h-1zM74 1h1v1h-1zM76 1h1v1h-1zM79 1h4v1h-4zM85 1h1v1h-1zM89 1h2v1h-2zM97 1h2v1h-2zM56 2h1v1h-1zM63 2h1v1h-1zM66 2h2v1h-2zM69 2h1v1h-1zM74 2h1v1h-1zM79 2h1v1h-1zM81 2h1v1h-1zM83 2h1v1h-1zM87 2h1v1h-1zM91 2h1v1h-1zM48 3h1v1h-1zM52 3h1v1h-1zM54 3h1v1h-1zM66 3h1v1h-1zM69 3h1v1h-1zM75 3h4v1h-4zM80 3h1v1h-1zM82 3h3v1h-3zM87 3h1v1h-1zM94 3h1v1h-1zM96 3h1v1h-1zM48 4h1v1h-1zM66 4h2v1h-2zM69 4h1v1h-1zM75 4h2v1h-2zM79 4h4v1h-4zM86 4h3v1h-3zM47 5h2v1h-2zM52 5h1v1h-1zM58 5h1v1h-1zM61 5h1v1h-1zM64 5h2v1h-2zM69 5h1v1h-1zM80 5h3v1h-3zM84 5h1v1h-1zM86 5h1v1h-1zM89 5h2v1h-2zM92 5h1v1h-1zM96 5h3v1h-3zM56 6h1v1h-1zM62 6h1v1h-1zM68 6h2v1h-2zM72 6h2v1h-2zM75 6h1v1h-1zM77 6h4v1h-4zM83 6h1v1h-1zM85 6h2v1h-2zM89 6h1v1h-1zM94 6h1v1h-1zM96 6h1v1h-1zM53 7h1v1h-1zM56 7h1v1h-1zM59 7h1v1h-1zM61 7h1v1h-1zM65 7h1v1h-1zM68 7h3v1h-3zM72 7h1v1h-1zM75 7h1v1h-1zM77 7h2v1h-2zM80 7h1v1h-1zM83 7h1v1h-1zM85 7h1v1h-1zM87 7h1v1h-1zM91 7h2v1h-2zM94 7h1v1h-1zM99 7h1v1h-1zM45 8h1v1h-1zM54 8h1v1h-1zM60 8h1v1h-1zM62 8h1v1h-1zM64 8h1v1h-1zM68 8h1v1h-1zM72 8h1v1h-1zM74 8h3v1h-3zM78 8h2v1h-2zM81 8h4v1h-4zM90 8h1v1h-1zM36 9h1v1h-1zM53 9h1v1h-1zM60 9h1v1h-1zM64 9h1v1h-1zM71 9h1v1h-1zM73 9h1v1h-1zM75 9h1v1h-1zM77 9h1v1h-1zM79 9h2v1h-2zM82 9h1v1h-1zM84 9h1v1h-1zM44 10h2v1h-2zM50 10h1v1h-1zM53 10h1v1h-1zM66 10h2v1h-2zM71 10h5v1h-5zM77 10h1v1h-1zM82 10h4v1h-4zM93 10h1v1h-1zM49 11h1v1h-1zM55 11h1v1h-1zM60 11h1v1h-1zM69 11h1v1h-1zM75 11h1v1h-1zM84 11h1v1h-1zM89 11h1v1h-1zM91 11h1v1h-1zM94 11h1v1h-1zM97 11h1v1h-1zM49 12h1v1h-1zM51 12h1v1h-1zM55 12h1v1h-1zM58 12h2v1h-2zM61 12h1v1h-1zM67 12h6v1h-6zM75 12h1v1h-1zM81 12h1v1h-1zM84 12h1v1h-1zM88 12h2v1h-2zM93 12h1v1h-1zM51 13h2v1h-2zM59 13h1v1h-1zM64 13h1v1h-1zM66 13h1v1h-1zM69 13h1v1h-1zM71 13h1v1h-1zM75 13h1v1h-1zM79 13h1v1h-1zM83 13h1v1h-1zM88 13h1v1h-1zM44 14h1v1h-1zM46 14h1v1h-1zM48 14h1v1h-1zM50 14h2v1h-2zM58 14h3v1h-3zM63 14h1v1h-1zM77 14h1v1h-1zM80 14h1v1h-1zM88 14h1v1h-1zM97 14h1v1h-1zM42 15h1v1h-1zM50 15h1v1h-1zM54 15h1v1h-1zM64 15h1v1h-1zM66 15h3v1h-3zM70 15h1v1h-1zM74 15h3v1h-3zM78 15h1v1h-1zM87 15h1v1h-1zM92 15h1v1h-1zM25 16h1v1h-1zM35 16h1v1h-1zM43 16h1v1h-1zM45 16h1v1h-1zM49 16h2v1h-2zM55 16h1v1h-1zM71 16h1v1h-1zM82 16h1v1h-1zM85 16h1v1h-1zM90 16h1v1h-1zM34 17h1v1h-1zM42 17h1v1h-1zM44 17h1v1h-1zM49 17h1v1h-1zM55 17h2v1h-2zM62 17h1v1h-1zM66 17h1v1h-1zM68 17h1v1h-1zM71 17h1v1h-1zM77 17h1v1h-1zM81 17h1v1h-1zM37 18h4v1h-4zM47 18h1v1h-1zM52 18h3v1h-3zM58 18h3v1h-3zM62 18h2v1h-2zM69 18h3v1h-3zM75 18h1v1h-1zM78 18h2v1h-2zM82 18h1v1h-1zM85 18h1v1h-1zM33 19h1v1h-1zM38 19h1v1h-1zM44 19h1v1h-1zM51 19h1v1h-1zM53 19h1v1h-1zM56 19h1v1h-1zM58 19h1v1h-1zM69 19h1v1h-1zM35 20h1v1h-1zM43 20h1v1h-1zM45 20h2v1h-2zM48 20h1v1h-1zM56 20h2v1h-2zM61 20h1v1h-1zM67 20h1v1h-1zM70 20h1v1h-1zM73 20h1v1h-1zM75 20h1v1h-1zM77 20h1v1h-1zM79 20h1v1h-1zM81 20h1v1h-1zM37 21h1v1h-1zM43 21h1v1h-1zM46 21h1v1h-1zM49 21h2v1h-2zM54 21h2v1h-2zM57 21h1v1h-1zM59 21h1v1h-1zM65 21h1v1h-1zM72 21h2v1h-2zM78 21h1v1h-1zM28 22h1v1h-1zM31 22h1v1h-1zM39 22h1v1h-1zM47 22h1v1h-1zM49 22h2v1h-2zM53 22h1v1h-1zM55 22h3v1h-3zM60 22h1v1h-1zM66 22h2v1h-2zM80 22h1v1h-1zM30 23h1v1h-1zM43 23h1v1h-1zM46 23h1v1h-1zM48 23h2v1h-2zM53 23h1v1h-1zM58 23h1v1h-1zM62 23h1v1h-1zM69 23h1v1h-1zM81 23h1v1h-1zM23 24h1v1h-1zM27 24h1v1h-1zM31 24h1v1h-1zM40 24h1v1h-1zM42 24h1v1h-1zM45 24h1v1h-1zM47 24h1v1h-1zM49 24h3v1h-3zM53 24h1v1h-1zM57 24h1v1h-1zM60 24h1v1h-1zM65 24h1v1h-1zM79 24h1v1h-1zM37 25h1v1h-1zM42 25h1v1h-1zM44 25h1v1h-1zM51 25h1v1h-1zM57 25h2v1h-2zM62 25h1v1h-1zM64 25h1v1h-1zM66 25h1v1h-1zM36 26h2v1h-2zM40 26h3v1h-3zM44 26h2v1h-2zM48 26h1v1h-1zM50 26h1v1h-1zM52 26h1v1h-1zM56 26h1v1h-1zM60 26h1v1h-1zM33 27h1v1h-1zM39 27h1v1h-1zM42 27h2v1h-2zM45 27h2v1h-2zM49 27h1v1h-1zM72 27h1v1h-1zM77 27h1v1h-1zM41 28h2v1h-2zM44 28h3v1h-3zM49 28h1v1h-1zM52 28h2v1h-2zM55 28h1v1h-1zM13 29h1v1h-1zM18 29h1v1h-1zM22 29h3v1h-3zM27 29h1v1h-1zM38 29h1v1h-1zM43 29h1v1h-1zM45 29h1v1h-1zM47 29h1v1h-1zM60 29h1v1h-1zM13 30h1v1h-1zM21 30h1v1h-1zM33 30h1v1h-1zM37 30h1v1h-1zM40 30h2v1h-2zM45 30h2v1h-2zM24 31h1v1h-1zM26 31h1v1h-1zM30 31h1v1h-1zM33 31h1v1h-1zM35 31h1v1h-1zM40 31h2v1h-2zM44 31h1v1h-1zM57 31h1v1h-1zM60 31h1v1h-1zM20 32h1v1h-1zM27 32h1v1h-1zM30 32h1v1h-1zM32 32h3v1h-3zM37 32h2v1h-2zM40 32h1v1h-1zM46 32h1v1h-1zM48 32h3v1h-3zM24 33h1v1h-1zM28 33h1v1h-1zM31 33h2v1h-2zM35 33h4v1h-4zM41 33h2v1h-2zM44 33h1v1h-1zM54 33h1v1h-1zM14 34h1v1h-1zM18 34h1v1h-1zM20 34h1v1h-1zM22 34h1v1h-1zM26 34h1v1h-1zM28 34h1v1h-1zM30 34h1v1h-1zM32 34h1v1h-1zM36 34h1v1h-1zM38 34h1v1h-1zM41 34h1v1h-1zM44 34h1v1h-1zM51 34h1v1h-1zM54 34h2v1h-2zM59 34h1v1h-1zM3 35h1v1h-1zM13 35h2v1h-2zM16 35h1v1h-1zM19 35h1v1h-1zM21 35h1v1h-1zM26 35h1v1h-1zM31 35h1v1h-1zM35 35h1v1h-1zM38 35h3v1h-3zM43 35h1v1h-1zM48 35h1v1h-1zM60 35h1v1h-1zM9 36h1v1h-1zM21 36h3v1h-3zM27 36h3v1h-3zM34 36h1v1h-1zM37 36h2v1h-2zM41 36h1v1h-1zM44 36h1v1h-1zM46 36h1v1h-1zM0 37h1v1h-1zM7 37h1v1h-1zM9 37h1v1h-1zM11 37h1v1h-1zM14 37h1v1h-1zM16 37h1v1h-1zM26 37h1v1h-1zM29 37h1v1h-1zM31 37h5v1h-5zM38 37h1v1h-1zM40 37h1v1h-1zM42 37h1v1h-1zM46 37h1v1h-1zM52 37h1v1h-1zM7 38h1v1h-1zM10 38h1v1h-1zM14 38h1v1h-1zM16 38h1v1h-1zM23 38h2v1h-2zM27 38h3v1h-3zM31 38h1v1h-1zM34 38h5v1h-5zM40 38h1v1h-1zM45 38h1v1h-1zM2 39h1v1h-1zM10 39h1v1h-1zM19 39h1v1h-1zM24 39h4v1h-4zM31 39h1v1h-1zM36 39h1v1h-1zM39 39h1v1h-1zM42 39h1v1h-1zM48 39h1v1h-1zM61 39h1v1h-1zM1 40h1v1h-1zM7 40h2v1h-2zM11 40h2v1h-2zM19 40h3v1h-3zM23 40h1v1h-1zM25 40h1v1h-1zM27 40h2v1h-2zM30 40h1v1h-1zM32 40h1v1h-1zM34 40h2v1h-2zM37 40h1v1h-1zM45 40h1v1h-1zM3 41h1v1h-1zM7 41h2v1h-2zM10 41h1v1h-1zM16 41h1v1h-1zM20 41h3v1h-3zM24 41h2v1h-2zM27 41h3v1h-3zM34 41h1v1h-1zM41 41h1v1h-1zM2 42h2v1h-2zM6 42h2v1h-2zM10 42h1v1h-1zM13 42h1v1h-1zM20 42h2v1h-2zM23 42h1v1h-1zM26 42h3v1h-3zM31 42h2v1h-2zM36 42h2v1h-2zM43 42h1v1h-1zM4 43h1v1h-1zM10 43h1v1h-1zM13 43h2v1h-2zM21 43h2v1h-2zM24 43h2v1h-2zM0 44h1v1h-1zM4 44h1v1h-1zM9 44h3v1h-3zM13 44h1v1h-1zM17 44h1v1h-1zM21 44h2v1h-2zM24 44h2v1h-2zM28 44h1v1h-1zM31 44h1v1h-1zM35 44h1v1h-1zM0 45h1v1h-1zM2 45h1v1h-1zM5 45h1v1h-1zM8 45h1v1h-1zM11 45h1v1h-1zM15 45h1v1h-1zM18 45h1v1h-1zM20 45h1v1h-1zM22 45h1v1h-1zM29 45h1v1h-1zM35 45h1v1h-1zM3 46h1v1h-1zM5 46h1v1h-1zM7 46h1v1h-1zM9 46h2v1h-2zM12 46h1v1h-1zM14 46h1v1h-1zM20 46h1v1h-1zM24 46h1v1h-1zM39 46h1v1h-1zM3 47h2v1h-2zM6 47h1v1h-1zM11 47h1v1h-1zM13 47h4v1h-4zM18 47h1v1h-1zM20 47h1v1h-1zM22 47h1v1h-1zM25 47h1v1h-1zM31 47h1v1h-1zM41 47h1v1h-1zM0 48h1v1h-1zM2 48h1v1h-1zM8 48h5v1h-5zM22 48h1v1h-1zM0 49h1v1h-1zM3 49h4v1h-4zM10 49h4v1h-4zM18 49h1v1h-1zM1 50h1v1h-1zM5 50h3v1h-3zM12 50h2v1h-2zM15 50h1v1h-1zM18 50h2v1h-2zM21 50h2v1h-2zM1 51h1v1h-1zM3 51h1v1h-1zM6 51h1v1h-1zM9 51h2v1h-2zM12 51h1v1h-1zM15 51h1v1h-1zM0 52h1v1h-1zM9 52h1v1h-1zM14 52h1v1h-1zM18 52h1v1h-1zM5 53h1v1h-1zM11 53h1v1h-1zM14 53h1v1h-1zM10 55h1v1h-1zM93 81h1v1h-1zM71 82h2v1h-2zM90 82h1v1h-1zM98 82h1v1h-1zM73 83h1v1h-1zM75 83h1v1h-1zM79 83h3v1h-3zM84 83h1v1h-1zM89 83h3v1h-3zM93 83h1v1h-1zM95 83h1v1h-1zM97 83h1v1h-1zM63 84h1v1h-1zM73 84h1v1h-1zM79 84h1v1h-1zM85 84h2v1h-2zM88 84h1v1h-1zM90 84h1v1h-1zM97 84h2v1h-2zM56 85h1v1h-1zM58 85h2v1h-2zM66 85h1v1h-1zM69 85h1v1h-1zM71 85h1v1h-1zM75 85h2v1h-2zM78 85h1v1h-1zM85 85h1v1h-1zM87 85h4v1h-4zM95 85h1v1h-1zM97 85h1v1h-1zM54 86h1v1h-1zM62 86h3v1h-3zM68 86h1v1h-1zM71 86h1v1h-1zM76 86h1v1h-1zM78 86h1v1h-1zM83 86h1v1h-1zM85 86h1v1h-1zM88 86h1v1h-1zM94 86h1v1h-1zM98 86h1v1h-1zM54 87h1v1h-1zM58 87h1v1h-1zM64 87h2v1h-2zM67 87h4v1h-4zM72 87h2v1h-2zM75 87h1v1h-1zM81 87h3v1h-3zM89 87h1v1h-1zM96 87h1v1h-1zM98 87h1v1h-1zM43 88h1v1h-1zM48 88h1v1h-1zM50 88h1v1h-1zM54 88h1v1h-1zM59 88h1v1h-1zM61 88h1v1h-1zM63 88h3v1h-3zM67 88h2v1h-2zM78 88h2v1h-2zM88 88h1v1h-1zM93 88h1v1h-1zM42 89h1v1h-1zM51 89h2v1h-2zM56 89h4v1h-4zM61 89h1v1h-1zM66 89h4v1h-4zM71 89h1v1h-1zM77 89h2v1h-2zM82 89h1v1h-1zM97 89h1v1h-1zM39 90h2v1h-2zM44 90h1v1h-1zM53 90h1v1h-1zM55 90h4v1h-4zM60 90h1v1h-1zM62 90h1v1h-1zM68 90h1v1h-1zM37 91h1v1h-1zM49 91h1v1h-1zM60 91h2v1h-2zM82 91h1v1h-1zM41 92h2v1h-2zM44 92h2v1h-2zM52 92h1v1h-1zM56 92h1v1h-1zM30 93h1v1h-1zM33 93h1v1h-1zM36 93h1v1h-1zM40 93h3v1h-3zM47 93h1v1h-1zM49 93h1v1h-1zM36 94h1v1h-1zM39 94h1v1h-1zM25 95h1v1h-1zM30 95h1v1h-1zM32 95h1v1h-1zM25 96h1v1h-1zM27 96h1v1h-1zM30 96h1v1h-1zM32 96h1v1h-1zM34 96h1v1h-1zM23 97h1v1h-1zM25 97h1v1h-1zM27 97h2v1h-2zM18 98h1v1h-1zM21 98h1v1h-1zM24 98h2v1h-2zM20 99h2v1h-2z"/>
<path fill="#472d7a" d="M78 0h1v1h-1zM82 0h1v1h-1zM87 0h3v1h-3zM92 0h1v1h-1zM98 0h2v1h-2zM77 1h1v1h-1zM83 1h2v1h-2zM88 1h1v1h-1zM91 1h3v1h-3zM96 1h1v1h-1zM86 2h1v1h-1zM90 2h1v1h-1zM92 2h4v1h-4zM97 2h2v1h-2zM81 3h1v1h-1zM89 3h1v1h-1zM97 3h1v1h-1zM99 3h1v1h-1zM68 4h1v1h-1zM84 4h2v1h-2zM91 4h1v1h-1zM93 4h2v1h-2zM96 4h2v1h-2zM67 5h1v1h-1zM73 5h2v1h-2zM78 5h1v1h-1zM87 5h2v1h-2zM91 5h1v1h-1zM95 5h1v1h-1zM99 5h1v1h-1zM65 6h1v1h-1zM81 6h1v1h-1zM84 6h1v1h-1zM87 6h1v1h-1zM90 6h2v1h-2zM93 6h1v1h-1zM95 6h1v1h-1zM98 6h1v1h-1zM76 7h1v1h-1zM81 7h1v1h-1zM86 7h1v1h-1zM88 7h1v1h-1zM97 7h1v1h-1zM67 8h1v1h-1zM73 8h1v1h-1zM77 8h1v1h-1zM80 8h1v1h-1zM85 8h2v1h-2zM88 8h2v1h-2zM92 8h2v1h-2zM96 8h1v1h-1zM98 8h1v1h-1zM76 9h1v1h-1zM83 9h1v1h-1zM85 9h1v1h-1zM90 9h5v1h-5zM96 9h1v1h-1zM98 9h1v1h-1zM76 10h1v1h-1zM78 10h3v1h-3zM88 10h1v1h-1zM94 10h1v1h-1zM98 10h1v1h-1zM63 11h1v1h-1zM73 11h1v1h-1zM76 11h1v1h-1zM80 11h2v1h-2zM85 11h4v1h-4zM90 11h1v1h-1zM53 12h1v1h-1zM60 12h1v1h-1zM73 12h2v1h-2zM78 12h1v1h-1zM82 12h1v1h-1zM65 13h1v1h-1zM70 13h1v1h-1zM72 13h1v1h-1zM74 13h1v1h-1zM77 13h1v1h-1zM81 13h1v1h-1zM98 13h1v1h-1zM54 14h1v1h-1zM61 14h1v1h-1zM64 14h1v1h-1zM66 14h1v1h-1zM72 14h1v1h-1zM74 14h1v1h-1zM81 14h2v1h-2zM84 14h3v1h-3zM91 14h1v1h-1zM94 14h1v1h-1zM96 14h1v1h-1zM72 15h1v1h-1zM89 15h1v1h-1zM93 15h1v1h-1zM54 16h1v1h-1zM59 16h2v1h-2zM65 16h1v1h-1zM67 16h1v1h-1zM70 16h1v1h-1zM72 16h2v1h-2zM75 16h1v1h-1zM83 16h1v1h-1zM86 16h1v1h-1zM91 16h1v1h-1zM96 16h1v1h-1zM60 17h2v1h-2zM63 17h1v1h-1zM69 17h1v1h-1zM72 17h3v1h-3zM78 17h2v1h-2zM89 17h3v1h-3zM49 18h2v1h-2zM64 18h1v1h-1zM66 18h3v1h-3zM72 18h1v1h-1zM74 18h1v1h-1zM76 18h2v1h-2zM80 18h1v1h-1zM83 18h1v1h-1zM89 18h1v1h-1zM95 18h1v1h-1zM57 19h1v1h-1zM60 19h1v1h-1zM63 19h2v1h-2zM68 19h1v1h-1zM70 19h1v1h-1zM81 19h1v1h-1zM84 19h2v1h-2zM88 19h1v1h-1zM97 19h1v1h-1zM55 20h1v1h-1zM58 20h1v1h-1zM60 20h1v1h-1zM63 20h3v1h-3zM68 20h1v1h-1zM76 20h1v1h-1zM87 20h1v1h-1zM93 20h1v1h-1zM60 21h1v1h-1zM64 21h1v1h-1zM66 21h2v1h-2zM69 21h2v1h-2zM76 21h2v1h-2zM80 21h1v1h-1zM85 21h1v1h-1zM88 21h1v1h-1zM43 22h1v1h-1zM58 22h2v1h-2zM61 22h5v1h-5zM73 22h1v1h-1zM77 22h2v1h-2zM42 23h1v1h-1zM51 23h2v1h-2zM56 23h1v1h-1zM61 23h1v1h-1zM63 23h1v1h-1zM66 23h2v1h-2zM79 23h1v1h-1zM89 23h1v1h-1zM43 24h1v1h-1zM52 24h1v1h-1zM54 24h3v1h-3zM58 24h2v1h-2zM61 24h3v1h-3zM68 24h3v1h-3zM75 24h1v1h-1zM83 24h1v1h-1zM38 25h1v1h-1zM40 25h1v1h-1zM49 25h2v1h-2zM56 25h1v1h-1zM67 25h1v1h-1zM71 25h1v1h-1zM76 25h1v1h-1zM78 25h1v1h-1zM88 25h1v1h-1zM46 26h2v1h-2zM49 26h1v1h-1zM51 26h1v1h-1zM53 26h2v1h-2zM58 26h2v1h-2zM61 26h1v1h-1zM63 26h3v1h-3zM68 26h3v1h-3zM73 26h1v1h-1zM75 26h1v1h-1zM92 26h1v1h-1zM29 27h1v1h-1zM36 27h1v1h-1zM48 27h1v1h-1zM50 27h1v1h-1zM52 27h2v1h-2zM63 27h2v1h-2zM69 27h2v1h-2zM73 27h1v1h-1zM81 27h1v1h-1zM48 28h1v1h-1zM50 28h2v1h-2zM54 28h1v1h-1zM56 28h3v1h-3zM60 28h4v1h-4zM66 28h2v1h-2zM69 28h2v1h-2zM76 28h1v1h-1zM80 28h1v1h-1zM33 29h1v1h-1zM39 29h1v1h-1zM50 29h5v1h-5zM58 29h2v1h-2zM63 29h1v1h-1zM67 29h1v1h-1zM83 29h1v1h-1zM35 30h1v1h-1zM42 30h1v1h-1zM48 30h1v1h-1zM51 30h1v1h-1zM54 30h2v1h-2zM59 30h1v1h-1zM65 30h1v1h-1zM72 30h1v1h-1zM46 31h2v1h-2zM49 31h4v1h-4zM56 31h1v1h-1zM42 32h2v1h-2zM45 32h1v1h-1zM47 32h1v1h-1zM51 32h1v1h-1zM53 32h1v1h-1zM55 32h1v1h-1zM58 32h1v1h-1zM60 32h1v1h-1zM25 33h1v1h-1zM27 33h1v1h-1zM39 33h1v1h-1zM43 33h1v1h-1zM45 33h2v1h-2zM49 33h1v1h-1zM51 33h1v1h-1zM53 33h1v1h-1zM55 33h1v1h-1zM62 33h1v1h-1zM68 33h1v1h-1zM34 34h1v1h-1zM39 34h1v1h-1zM43 34h1v1h-1zM48 34h1v1h-1zM52 34h1v1h-1zM56 34h1v1h-1zM29 35h2v1h-2zM36 35h1v1h-1zM41 35h1v1h-1zM46 35h2v1h-2zM50 35h2v1h-2zM53 35h2v1h-2zM59 35h1v1h-1zM63 35h1v1h-1zM66 35h1v1h-1zM19 36h1v1h-1zM39 36h2v1h-2zM45 36h1v1h-1zM54 36h3v1h-3zM61 36h1v1h-1zM27 37h2v1h-2zM30 37h1v1h-1zM37 37h1v1h-1zM41 37h1v1h-1zM43 37h1v1h-1zM47 37h1v1h-1zM59 37h1v1h-1zM26 38h1v1h-1zM39 38h1v1h-1zM42 38h1v1h-1zM44 38h1v1h-1zM48 38h1v1h-1zM55 38h1v1h-1zM33 39h1v1h-1zM40 39h2v1h-2zM24 40h1v1h-1zM26 40h1v1h-1zM31 40h1v1h-1zM33 40h1v1h-1zM36 40h1v1h-1zM39 40h3v1h-3zM43 40h1v1h-1zM47 40h1v1h-1zM14 41h1v1h-1zM18 41h1v1h-1zM26 41h1v1h-1zM31 41h2v1h-2zM35 41h1v1h-1zM37 41h2v1h-2zM40 41h1v1h-1zM45 41h1v1h-1zM48 41h1v1h-1zM4 42h2v1h-2zM17 42h1v1h-1zM22 42h1v1h-1zM25 42h1v1h-1zM29 42h1v1h-1zM33 42h1v1h-1zM40 42h2v1h-2zM3 43h1v1h-1zM11 43h1v1h-1zM16 43h1v1h-1zM20 43h1v1h-1zM26 43h1v1h-1zM28 43h3v1h-3zM32 43h2v1h-2zM37 43h2v1h-2zM40 43h1v1h-1zM42 43h1v1h-1zM7 44h2v1h-2zM14 44h1v1h-1zM18 44h2v1h-2zM26 44h2v1h-2zM29 44h2v1h-2zM32 44h1v1h-1zM34 44h1v1h-1zM36 44h1v1h-1zM39 44h1v1h-1zM42 44h1v1h-1zM3 45h1v1h-1zM7 45h1v1h-1zM10 45h1v1h-1zM14 45h1v1h-1zM16 45h1v1h-1zM19 45h1v1h-1zM21 45h1v1h-1zM23 45h2v1h-2zM30 45h1v1h-1zM34 45h1v1h-1zM37 45h1v1h-1zM39 45h1v1h-1zM2 46h1v1h-1zM19 46h1v1h-1zM22 46h1v1h-1zM26 46h1v1h-1zM29 46h1v1h-1zM35 46h1v1h-1zM40 46h1v1h-1zM44 46h1v1h-1zM48 46h1v1h-1zM0 47h3v1h-3zM5 47h1v1h-1zM7 47h1v1h-1zM9 47h1v1h-1zM17 47h1v1h-1zM21 47h1v1h-1zM23 47h2v1h-2zM28 47h1v1h-1zM32 47h1v1h-1zM38 47h1v1h-1zM3 48h2v1h-2zM14 48h3v1h-3zM24 48h1v1h-1zM27 48h1v1h-1zM29 48h1v1h-1zM32 48h1v1h-1zM38 48h1v1h-1zM1 49h2v1h-2zM8 49h2v1h-2zM26 49h1v1h-1zM8 50h4v1h-4zM24 50h1v1h-1zM37 50h1v1h-1zM0 51h1v1h-1zM2 51h1v1h-1zM5 51h1v1h-1zM7 51h2v1h-2zM13 51h1v1h-1zM16 51h1v1h-1zM22 51h1v1h-1zM2 52h1v1h-1zM4 52h2v1h-2zM12 52h2v1h-2zM23 52h1v1h-1zM25 52h1v1h-1zM2 53h1v1h-1zM8 53h1v1h-1zM10 53h1v1h-1zM16 53h2v1h-2zM22 53h1v1h-1zM0 54h2v1h-2zM5 54h1v1h-1zM8 54h3v1h-3zM12 54h1v1h-1zM16 54h1v1h-1zM18 54h3v1h-3zM24 54h1v1h-1zM3 55h1v1h-1zM5 55h1v1h-1zM7 55h1v1h-1zM11 55h1v1h-1zM15 55h1v1h-1zM17 55h1v1h-1zM0 56h1v1h-1zM3 56h1v1h-1zM5 56h4v1h-4zM14 56h1v1h-1zM2 57h1v1h-1zM6 57h1v1h-1zM14 57h3v1h-3zM7 58h1v1h-1zM14 58h1v1h-1zM6 59h1v1h-1zM19 59h1v1h-1zM1 60h1v1h-1zM19 60h1v1h-1zM98 76h1v1h-1zM94 77h1v1h-1zM91 78h2v1h-2zM95 78h1v1h-1zM91 79h1v1h-1zM93 80h1v1h-1zM98 80h1v1h-1zM71 81h1v1h-1zM76 81h2v1h-2zM79 81h2v1h-2zM83 81h2v1h-2zM86 81h2v1h-2zM91 81h1v1h-1zM94 81h1v1h-1zM97 81h2v1h-2zM73 82h1v1h-1zM76 82h1v1h-1zM78 82h2v1h-2zM83 82h3v1h-3zM87 82h2v1h-2zM93 82h1v1h-1zM96 82h1v1h-1zM69 83h2v1h-2zM74 83h1v1h-1zM78 83h1v1h-1zM82 83h1v1h-1zM86 83h2v1h-2zM98 83h1v1h-1zM72 84h1v1h-1zM74 84h5v1h-5zM80 84h1v1h-1zM82 84h1v1h-1zM84 84h1v1h-1zM91 84h2v1h-2zM94 84h3v1h-3zM53 85h1v1h-1zM63 85h3v1h-3zM68 85h1v1h-1zM74 85h1v1h-1zM77 85h1v1h-1zM79 85h1v1h-1zM86 85h1v1h-1zM93 85h1v1h-1zM96 85h1v1h-1zM49 86h1v1h-1zM55 86h1v1h-1zM59 86h1v1h-1zM65 86h3v1h-3zM69 86h2v1h-2zM72 86h1v1h-1zM79 86h1v1h-1zM81 86h2v1h-2zM95 86h1v1h-1zM52 87h1v1h-1zM57 87h1v1h-1zM61 87h1v1h-1zM74 87h1v1h-1zM38 88h1v1h-1zM46 88h1v1h-1zM51 88h1v1h-1zM53 88h1v1h-1zM57 88h2v1h-2zM60 88h1v1h-1zM81 88h1v1h-1zM41 89h1v1h-1zM44 89h1v1h-1zM46 89h1v1h-1zM49 89h2v1h-2zM53 89h1v1h-1zM72 89h1v1h-1zM35 90h2v1h-2zM42 90h1v1h-1zM47 90h1v1h-1zM38 91h1v1h-1zM40 91h3v1h-3zM52 91h1v1h-1zM36 92h1v1h-1zM39 92h1v1h-1zM48 92h1v1h-1zM29 93h1v1h-1zM32 93h1v1h-1zM34 93h2v1h-2zM39 93h1v1h-1zM27 94h1v1h-1zM32 94h1v1h-1zM34 94h1v1h-1zM24 95h1v1h-1zM26 95h1v1h-1zM28 95h1v1h-1zM34 95h1v1h-1zM36 95h1v1h-1zM23 96h2v1h-2zM29 96h1v1h-1zM18 97h1v1h-1zM20 97h1v1h-1zM24 97h1v1h-1zM16 98h1v1h-1zM20 98h1v1h-1zM23 98h1v1h-1zM15 99h3v1h-3zM19 99h1v1h-1z"/>
<path fill="#44357e" d="M95 0h1v1h-1zM97 0h1v1h-1zM96 2h1v1h-1zM93 3h1v1h-1zM98 3h1v1h-1zM98 4h2v1h-2zM94 5h1v1h-1zM82 6h1v1h-1zM88 6h1v1h-1zM99 6h1v1h-1zM79 7h1v1h-1zM82 7h1v1h-1zM84 7h1v1h-1zM89 7h1v1h-1zM93 7h1v1h-1zM95 7h2v1h-2zM98 7h1v1h-1zM91 8h1v1h-1zM94 8h1v1h-1zM97 8h1v1h-1zM86 9h4v1h-4zM97 9h1v1h-1zM99 9h1v1h-1zM81 10h1v1h-1zM89 10h3v1h-3zM95 10h1v1h-1zM97 10h1v1h-1zM99 10h1v1h-1zM77 11h3v1h-3zM83 11h1v1h-1zM93 11h1v1h-1zM77 12h1v1h-1zM79 12h1v1h-1zM85 12h2v1h-2zM90 12h1v1h-1zM92 12h1v1h-1zM97 12h1v1h-1zM73 13h1v1h-1zM76 13h1v1h-1zM82 13h1v1h-1zM86 13h1v1h-1zM92 13h3v1h-3zM97 13h1v1h-1zM67 14h1v1h-1zM75 14h1v1h-1zM79 14h1v1h-1zM83 14h1v1h-1zM87 14h1v1h-1zM89 14h1v1h-1zM93 14h1v1h-1zM98 14h1v1h-1zM77 15h1v1h-1zM79 15h1v1h-1zM83 15h4v1h-4zM91 15h1v1h-1zM95 15h2v1h-2zM98 15h2v1h-2zM76 16h1v1h-1zM79 16h2v1h-2zM88 16h2v1h-2zM95 16h1v1h-1zM97 16h2v1h-2zM75 17h1v1h-1zM80 17h1v1h-1zM84 17h3v1h-3zM88 17h1v1h-1zM96 17h1v1h-1zM73 18h1v1h-1zM81 18h1v1h-1zM84 18h1v1h-1zM86 18h1v1h-1zM88 18h1v1h-1zM90 18h2v1h-2zM93 18h1v1h-1zM67 19h1v1h-1zM71 19h1v1h-1zM73 19h2v1h-2zM76 19h1v1h-1zM79 19h1v1h-1zM82 19h1v1h-1zM86 19h2v1h-2zM53 20h1v1h-1zM66 20h1v1h-1zM69 20h1v1h-1zM71 20h1v1h-1zM74 20h1v1h-1zM78 20h1v1h-1zM80 20h1v1h-1zM83 20h3v1h-3zM90 20h1v1h-1zM94 20h1v1h-1zM96 20h1v1h-1zM56 21h1v1h-1zM62 21h1v1h-1zM71 21h1v1h-1zM83 21h1v1h-1zM86 21h2v1h-2zM68 22h5v1h-5zM75 22h2v1h-2zM84 22h1v1h-1zM86 22h1v1h-1zM89 22h1v1h-1zM64 23h1v1h-1zM68 23h1v1h-1zM70 23h2v1h-2zM74 23h1v1h-1zM76 23h3v1h-3zM80 23h1v1h-1zM87 23h1v1h-1zM64 24h1v1h-1zM71 24h1v1h-1zM73 24h2v1h-2zM90 24h1v1h-1zM55 25h1v1h-1zM60 25h2v1h-2zM63 25h1v1h-1zM65 25h1v1h-1zM68 25h2v1h-2zM74 25h1v1h-1zM77 25h1v1h-1zM90 25h1v1h-1zM66 26h1v1h-1zM71 26h1v1h-1zM84 26h1v1h-1zM57 27h1v1h-1zM59 27h4v1h-4zM65 27h2v1h-2zM68 27h1v1h-1zM74 27h2v1h-2zM65 28h1v1h-1zM68 28h1v1h-1zM49 29h1v1h-1zM55 29h3v1h-3zM61 29h2v1h-2zM64 29h1v1h-1zM68 29h1v1h-1zM74 29h1v1h-1zM79 29h2v1h-2zM88 29h1v1h-1zM49 30h1v1h-1zM52 30h1v1h-1zM58 30h1v1h-1zM60 30h2v1h-2zM64 30h1v1h-1zM66 30h1v1h-1zM70 30h2v1h-2zM48 31h1v1h-1zM55 31h1v1h-1zM59 31h1v1h-1zM63 31h1v1h-1zM65 31h2v1h-2zM39 32h1v1h-1zM44 32h1v1h-1zM52 32h1v1h-1zM54 32h1v1h-1zM56 32h1v1h-1zM59 32h1v1h-1zM62 32h1v1h-1zM67 32h1v1h-1zM73 32h1v1h-1zM82 32h1v1h-1zM56 33h1v1h-1zM58 33h1v1h-1zM66 33h1v1h-1zM69 33h1v1h-1zM37 34h1v1h-1zM47 34h1v1h-1zM53 34h1v1h-1zM65 34h2v1h-2zM70 34h1v1h-1zM44 35h2v1h-2zM49 35h1v1h-1zM52 35h1v1h-1zM55 35h1v1h-1zM57 35h1v1h-1zM36 36h1v1h-1zM42 36h1v1h-1zM48 36h2v1h-2zM51 36h1v1h-1zM53 36h1v1h-1zM58 36h1v1h-1zM65 36h1v1h-1zM67 36h1v1h-1zM69 36h1v1h-1zM44 37h1v1h-1zM48 37h1v1h-1zM50 37h1v1h-1zM53 37h1v1h-1zM55 37h1v1h-1zM57 37h1v1h-1zM65 37h1v1h-1zM49 38h2v1h-2zM56 38h2v1h-2zM50 39h1v1h-1zM52 39h1v1h-1zM29 40h1v1h-1zM38 40h1v1h-1zM42 40h1v1h-1zM46 40h1v1h-1zM51 40h3v1h-3zM33 41h1v1h-1zM36 41h1v1h-1zM39 41h1v1h-1zM43 41h2v1h-2zM49 41h1v1h-1zM24 42h1v1h-1zM34 42h1v1h-1zM38 42h2v1h-2zM45 42h1v1h-1zM48 42h1v1h-1zM54 42h1v1h-1zM27 43h1v1h-1zM36 43h1v1h-1zM48 43h2v1h-2zM40 44h2v1h-2zM27 45h2v1h-2zM36 45h1v1h-1zM38 45h1v1h-1zM41 45h2v1h-2zM45 45h1v1h-1zM47 45h1v1h-1zM0 46h2v1h-2zM13 46h1v1h-1zM16 46h1v1h-1zM23 46h1v1h-1zM25 46h1v1h-1zM27 46h1v1h-1zM33 46h2v1h-2zM37 46h1v1h-1zM47 46h1v1h-1zM29 47h1v1h-1zM35 47h2v1h-2zM45 47h1v1h-1zM17 48h1v1h-1zM23 48h1v1h-1zM25 48h1v1h-1zM28 48h1v1h-1zM30 48h1v1h-1zM40 48h1v1h-1zM15 49h1v1h-1zM19 49h2v1h-2zM23 49h1v1h-1zM27 49h5v1h-5zM2 50h3v1h-3zM14 50h1v1h-1zM20 50h1v1h-1zM26 50h1v1h-1zM30 50h1v1h-1zM32 50h1v1h-1zM35 50h1v1h-1zM4 51h1v1h-1zM14 51h1v1h-1zM17 51h3v1h-3zM23 51h1v1h-1zM25 51h2v1h-2zM28 51h1v1h-1zM31 51h1v1h-1zM7 52h2v1h-2zM10 52h1v1h-1zM16 52h2v1h-2zM21 52h1v1h-1zM0 53h2v1h-2zM4 53h1v1h-1zM9 53h1v1h-1zM15 53h1v1h-1zM19 53h3v1h-3zM24 53h1v1h-1zM2 54h2v1h-2zM15 54h1v1h-1zM26 54h1v1h-1zM1 55h2v1h-2zM6 55h1v1h-1zM12 55h3v1h-3zM1 56h2v1h-2zM4 56h1v1h-1zM12 56h2v1h-2zM15 56h1v1h-1zM0 57h1v1h-1zM4 57h1v1h-1zM7 57h1v1h-1zM9 57h2v1h-2zM24 57h1v1h-1zM2 58h2v1h-2zM7 59h3v1h-3zM11 59h1v1h-1zM7 60h1v1h-1zM5 61h1v1h-1zM6 62h1v1h-1zM90 73h1v1h-1zM85 75h1v1h-1zM94 75h1v1h-1zM79 77h1v1h-1zM83 77h1v1h-1zM95 77h1v1h-1zM88 78h2v1h-2zM94 78h1v1h-1zM80 79h2v1h-2zM87 79h1v1h-1zM89 79h1v1h-1zM92 79h1v1h-1zM96 79h1v1h-1zM73 80h3v1h-3zM78 80h1v1h-1zM81 80h1v1h-1zM86 80h3v1h-3zM90 80h1v1h-1zM94 80h1v1h-1zM97 80h1v1h-1zM61 81h1v1h-1zM65 81h1v1h-1zM69 81h1v1h-1zM75 81h1v1h-1zM78 81h1v1h-1zM81 81h2v1h-2zM85 81h1v1h-1zM88 81h3v1h-3zM65 82h1v1h-1zM67 82h3v1h-3zM74 82h2v1h-2zM80 82h1v1h-1zM82 82h1v1h-1zM86 82h1v1h-1zM91 82h2v1h-2zM53 83h1v1h-1zM63 83h1v1h-1zM68 83h1v1h-1zM71 83h1v1h-1zM77 83h1v1h-1zM85 83h1v1h-1zM45 84h1v1h-1zM58 84h2v1h-2zM61 84h1v1h-1zM64 84h2v1h-2zM67 84h4v1h-4zM44 85h1v1h-1zM48 85h1v1h-1zM52 85h1v1h-1zM54 85h2v1h-2zM57 85h1v1h-1zM67 85h1v1h-1zM72 85h2v1h-2zM42 86h2v1h-2zM51 86h1v1h-1zM56 86h1v1h-1zM58 86h1v1h-1zM60 86h1v1h-1zM74 86h1v1h-1zM90 86h1v1h-1zM44 87h1v1h-1zM47 87h1v1h-1zM50 87h2v1h-2zM56 87h1v1h-1zM60 87h1v1h-1zM62 87h1v1h-1zM78 87h1v1h-1zM37 88h1v1h-1zM41 88h1v1h-1zM47 88h1v1h-1zM49 88h1v1h-1zM52 88h1v1h-1zM66 88h1v1h-1zM32 89h1v1h-1zM37 89h1v1h-1zM39 89h1v1h-1zM43 89h1v1h-1zM45 89h1v1h-1zM48 89h1v1h-1zM55 89h1v1h-1zM31 90h1v1h-1zM37 90h2v1h-2zM41 90h1v1h-1zM45 90h1v1h-1zM49 90h2v1h-2zM30 91h1v1h-1zM34 91h1v1h-1zM36 91h1v1h-1zM48 91h1v1h-1zM25 92h1v1h-1zM27 92h2v1h-2zM33 92h2v1h-2zM37 92h2v1h-2zM37 93h1v1h-1zM26 94h1v1h-1zM21 95h1v1h-1zM29 95h1v1h-1zM18 96h1v1h-1zM20 96h1v1h-1zM22 96h1v1h-1zM14 97h1v1h-1zM21 97h2v1h-2zM13 98h2v1h-2zM17 98h1v1h-1zM11 99h1v1h-1zM13 99h2v1h-2z"/>
<path fill="#423c81" d="M86 1h1v1h-1zM93 5h1v1h-1zM90 7h1v1h-1zM95 8h1v1h-1zM86 10h2v1h-2zM92 10h1v1h-1zM96 10h1v1h-1zM82 11h1v1h-1zM92 11h1v1h-1zM95 11h2v1h-2zM99 11h1v1h-1zM87 12h1v1h-1zM91 12h1v1h-1zM94 12h3v1h-3zM98 12h2v1h-2zM85 13h1v1h-1zM87 13h1v1h-1zM89 13h1v1h-1zM95 13h1v1h-1zM99 13h1v1h-1zM95 14h1v1h-1zM82 15h1v1h-1zM88 15h1v1h-1zM90 15h1v1h-1zM97 15h1v1h-1zM78 16h1v1h-1zM84 16h1v1h-1zM92 16h1v1h-1zM94 16h1v1h-1zM99 16h1v1h-1zM76 17h1v1h-1zM92 17h3v1h-3zM97 17h2v1h-2zM87 18h1v1h-1zM92 18h1v1h-1zM96 18h2v1h-2zM99 18h1v1h-1zM78 19h1v1h-1zM83 19h1v1h-1zM89 19h3v1h-3zM93 19h1v1h-1zM95 19h1v1h-1zM82 20h1v1h-1zM86 20h1v1h-1zM89 20h1v1h-1zM91 20h1v1h-1zM95 20h1v1h-1zM99 20h1v1h-1zM79 21h1v1h-1zM82 21h1v1h-1zM84 21h1v1h-1zM89 21h2v1h-2zM93 21h3v1h-3zM82 22h1v1h-1zM85 22h1v1h-1zM87 22h2v1h-2zM91 22h2v1h-2zM94 22h1v1h-1zM98 22h1v1h-1zM72 23h2v1h-2zM82 23h2v1h-2zM85 23h1v1h-1zM88 23h1v1h-1zM90 23h2v1h-2zM94 23h1v1h-1zM76 24h1v1h-1zM84 24h1v1h-1zM87 24h2v1h-2zM94 24h1v1h-1zM97 24h1v1h-1zM99 24h1v1h-1zM70 25h1v1h-1zM75 25h1v1h-1zM79 25h2v1h-2zM84 25h3v1h-3zM67 26h1v1h-1zM72 26h1v1h-1zM77 26h2v1h-2zM80 26h2v1h-2zM86 26h1v1h-1zM67 27h1v1h-1zM71 27h1v1h-1zM76 27h1v1h-1zM78 27h2v1h-2zM82 27h1v1h-1zM87 27h1v1h-1zM64 28h1v1h-1zM91 28h1v1h-1zM46 29h1v1h-1zM66 29h1v1h-1zM69 29h3v1h-3zM73 29h1v1h-1zM76 29h1v1h-1zM78 29h1v1h-1zM82 29h1v1h-1zM85 29h1v1h-1zM57 30h1v1h-1zM62 30h2v1h-2zM67 30h1v1h-1zM74 30h5v1h-5zM54 31h1v1h-1zM58 31h1v1h-1zM61 31h1v1h-1zM64 31h1v1h-1zM69 31h2v1h-2zM72 31h1v1h-1zM75 31h2v1h-2zM81 31h1v1h-1zM61 32h1v1h-1zM65 32h2v1h-2zM68 32h2v1h-2zM71 32h1v1h-1zM79 32h1v1h-1zM47 33h1v1h-1zM59 33h3v1h-3zM63 33h3v1h-3zM67 33h1v1h-1zM71 33h1v1h-1zM76 33h2v1h-2zM50 34h1v1h-1zM57 34h2v1h-2zM61 34h3v1h-3zM67 34h2v1h-2zM79 34h1v1h-1zM42 35h1v1h-1zM58 35h1v1h-1zM62 35h1v1h-1zM64 35h1v1h-1zM67 35h1v1h-1zM69 35h1v1h-1zM43 36h1v1h-1zM50 36h1v1h-1zM70 36h2v1h-2zM45 37h1v1h-1zM49 37h1v1h-1zM51 37h1v1h-1zM58 37h1v1h-1zM82 37h1v1h-1zM43 38h1v1h-1zM46 38h1v1h-1zM52 38h1v1h-1zM54 38h1v1h-1zM38 39h1v1h-1zM45 39h2v1h-2zM49 39h1v1h-1zM57 39h1v1h-1zM59 39h1v1h-1zM73 39h1v1h-1zM44 40h1v1h-1zM48 40h3v1h-3zM54 40h2v1h-2zM60 40h2v1h-2zM42 41h1v1h-1zM46 41h1v1h-1zM53 41h1v1h-1zM55 41h1v1h-1zM68 41h1v1h-1zM78 41h1v1h-1zM30 42h1v1h-1zM42 42h1v1h-1zM44 42h1v1h-1zM49 42h3v1h-3zM61 42h1v1h-1zM31 43h1v1h-1zM34 43h2v1h-2zM39 43h1v1h-1zM41 43h1v1h-1zM43 43h4v1h-4zM53 43h1v1h-1zM33 44h1v1h-1zM37 44h1v1h-1zM43 44h2v1h-2zM47 44h1v1h-1zM50 44h1v1h-1zM25 45h1v1h-1zM32 45h1v1h-1zM40 45h1v1h-1zM43 45h1v1h-1zM53 45h1v1h-1zM30 46h1v1h-1zM32 46h1v1h-1zM38 46h1v1h-1zM42 46h1v1h-1zM26 47h2v1h-2zM30 47h1v1h-1zM34 47h1v1h-1zM37 47h1v1h-1zM39 47h2v1h-2zM46 47h1v1h-1zM48 47h1v1h-1zM21 48h1v1h-1zM31 48h1v1h-1zM35 48h3v1h-3zM41 48h1v1h-1zM43 48h1v1h-1zM25 49h1v1h-1zM33 49h5v1h-5zM17 50h1v1h-1zM23 50h1v1h-1zM28 50h2v1h-2zM31 50h1v1h-1zM33 50h1v1h-1zM36 50h1v1h-1zM20 51h2v1h-2zM27 51h1v1h-1zM32 51h1v1h-1zM37 51h1v1h-1zM1 52h1v1h-1zM6 52h1v1h-1zM11 52h1v1h-1zM15 52h1v1h-1zM20 52h1v1h-1zM27 52h1v1h-1zM29 52h1v1h-1zM32 52h1v1h-1zM34 52h1v1h-1zM6 53h1v1h-1zM12 53h2v1h-2zM18 53h1v1h-1zM26 53h2v1h-2zM30 53h2v1h-2zM4 54h1v1h-1zM6 54h2v1h-2zM13 54h2v1h-2zM17 54h1v1h-1zM21 54h2v1h-2zM0 55h1v1h-1zM9 55h1v1h-1zM16 55h1v1h-1zM20 55h1v1h-1zM23 55h3v1h-3zM30 55h1v1h-1zM35 55h1v1h-1zM9 56h1v1h-1zM11 56h1v1h-1zM18 56h3v1h-3zM24 56h1v1h-1zM28 56h1v1h-1zM1 57h1v1h-1zM3 57h1v1h-1zM5 57h1v1h-1zM11 57h1v1h-1zM13 57h1v1h-1zM18 57h1v1h-1zM0 58h1v1h-1zM5 58h2v1h-2zM12 58h2v1h-2zM20 58h2v1h-2zM2 59h1v1h-1zM12 59h2v1h-2zM15 59h1v1h-1zM21 59h1v1h-1zM4 60h1v1h-1zM8 60h1v1h-1zM11 60h1v1h-1zM13 60h1v1h-1zM16 60h1v1h-1zM25 60h1v1h-1zM9 61h1v1h-1zM13 61h1v1h-1zM7 62h1v1h-1zM8 63h1v1h-1zM96 69h1v1h-1zM98 73h1v1h-1zM72 74h1v1h-1zM93 75h1v1h-1zM70 76h1v1h-1zM83 76h1v1h-1zM87 76h1v1h-1zM92 76h1v1h-1zM94 76h1v1h-1zM96 76h1v1h-1zM62 77h1v1h-1zM85 77h1v1h-1zM88 77h1v1h-1zM91 77h3v1h-3zM70 78h1v1h-1zM73 78h1v1h-1zM80 78h2v1h-2zM83 78h2v1h-2zM93 78h1v1h-1zM97 78h1v1h-1zM69 79h3v1h-3zM75 79h3v1h-3zM79 79h1v1h-1zM83 79h3v1h-3zM88 79h1v1h-1zM90 79h1v1h-1zM93 79h1v1h-1zM95 79h1v1h-1zM98 79h1v1h-1zM65 80h2v1h-2zM68 80h1v1h-1zM72 80h1v1h-1zM77 80h1v1h-1zM80 80h1v1h-1zM82 80h2v1h-2zM89 80h1v1h-1zM91 80h2v1h-2zM95 80h2v1h-2zM46 81h1v1h-1zM63 81h1v1h-1zM66 81h3v1h-3zM70 81h1v1h-1zM72 81h3v1h-3zM92 81h1v1h-1zM95 81h1v1h-1zM49 82h1v1h-1zM62 82h1v1h-1zM64 82h1v1h-1zM66 82h1v1h-1zM70 82h1v1h-1zM77 82h1v1h-1zM81 82h1v1h-1zM95 82h1v1h-1zM97 82h1v1h-1zM54 83h2v1h-2zM57 83h1v1h-1zM62 83h1v1h-1zM65 83h2v1h-2zM72 83h1v1h-1zM76 83h1v1h-1zM51 84h4v1h-4zM57 84h1v1h-1zM62 84h1v1h-1zM66 84h1v1h-1zM71 84h1v1h-1zM40 85h1v1h-1zM43 85h1v1h-1zM45 85h1v1h-1zM49 85h1v1h-1zM60 85h3v1h-3zM41 86h1v1h-1zM45 86h1v1h-1zM47 86h2v1h-2zM50 86h1v1h-1zM52 86h2v1h-2zM57 86h1v1h-1zM36 87h1v1h-1zM39 87h2v1h-2zM45 87h2v1h-2zM48 87h2v1h-2zM53 87h1v1h-1zM55 87h1v1h-1zM59 87h1v1h-1zM31 88h1v1h-1zM36 88h1v1h-1zM40 88h1v1h-1zM42 88h1v1h-1zM29 89h1v1h-1zM35 89h1v1h-1zM38 89h1v1h-1zM40 89h1v1h-1zM28 90h1v1h-1zM30 90h1v1h-1zM32 90h2v1h-2zM25 91h2v1h-2zM32 91h1v1h-1zM35 91h1v1h-1zM29 92h1v1h-1zM31 92h2v1h-2zM35 92h1v1h-1zM23 93h1v1h-1zM26 93h3v1h-3zM24 94h1v1h-1zM18 95h1v1h-1zM20 95h1v1h-1zM16 96h2v1h-2zM21 96h1v1h-1zM16 97h1v1h-1zM19 97h1v1h-1z"/>
<path fill="#3f4485" d="M99 8h1v1h-1zM98 11h1v1h-1zM90 13h2v1h-2zM96 13h1v1h-1zM92 14h1v1h-1zM99 14h1v1h-1zM94 15h1v1h-1zM93 16h1v1h-1zM70 17h1v1h-1zM95 17h1v1h-1zM99 17h1v1h-1zM94 18h1v1h-1zM80 19h1v1h-1zM98 19h2v1h-2zM92 20h1v1h-1zM97 20h2v1h-2zM75 21h1v1h-1zM81 21h1v1h-1zM98 21h2v1h-2zM79 22h1v1h-1zM95 22h1v1h-1zM97 22h1v1h-1zM75 23h1v1h-1zM84 23h1v1h-1zM72 24h1v1h-1zM77 24h2v1h-2zM80 24h1v1h-1zM82 24h1v1h-1zM85 24h2v1h-2zM92 24h1v1h-1zM95 24h1v1h-1zM72 25h2v1h-2zM82 25h2v1h-2zM87 25h1v1h-1zM91 25h1v1h-1zM93 25h1v1h-1zM74 26h1v1h-1zM76 26h1v1h-1zM82 26h1v1h-1zM85 26h1v1h-1zM80 27h1v1h-1zM89 27h2v1h-2zM93 27h1v1h-1zM72 28h2v1h-2zM75 28h1v1h-1zM79 28h1v1h-1zM83 28h1v1h-1zM92 28h1v1h-1zM72 29h1v1h-1zM75 29h1v1h-1zM77 29h1v1h-1zM81 29h1v1h-1zM86 29h1v1h-1zM96 29h1v1h-1zM73 30h1v1h-1zM79 30h2v1h-2zM62 31h1v1h-1zM67 31h1v1h-1zM71 31h1v1h-1zM77 31h1v1h-1zM83 31h1v1h-1zM86 31h1v1h-1zM88 31h1v1h-1zM63 32h2v1h-2zM70 32h1v1h-1zM75 32h2v1h-2zM84 32h1v1h-1zM94 32h1v1h-1zM50 33h1v1h-1zM57 33h1v1h-1zM70 33h1v1h-1zM72 33h1v1h-1zM79 33h1v1h-1zM81 33h1v1h-1zM60 34h1v1h-1zM64 34h1v1h-1zM72 34h2v1h-2zM77 34h2v1h-2zM56 35h1v1h-1zM65 35h1v1h-1zM68 35h1v1h-1zM73 35h1v1h-1zM75 35h1v1h-1zM57 36h1v1h-1zM60 36h1v1h-1zM64 36h1v1h-1zM68 36h1v1h-1zM75 36h1v1h-1zM78 36h1v1h-1zM85 36h1v1h-1zM54 37h1v1h-1zM60 37h2v1h-2zM63 37h2v1h-2zM66 37h1v1h-1zM74 37h1v1h-1zM47 38h1v1h-1zM53 38h1v1h-1zM58 38h2v1h-2zM61 38h1v1h-1zM63 38h1v1h-1zM51 39h1v1h-1zM53 39h3v1h-3zM63 39h1v1h-1zM69 39h1v1h-1zM56 40h2v1h-2zM59 40h1v1h-1zM68 40h1v1h-1zM47 41h1v1h-1zM57 41h1v1h-1zM76 41h1v1h-1zM47 42h1v1h-1zM52 42h1v1h-1zM55 42h1v1h-1zM58 42h3v1h-3zM65 42h1v1h-1zM47 43h1v1h-1zM50 43h1v1h-1zM52 43h1v1h-1zM54 43h1v1h-1zM57 43h1v1h-1zM65 43h1v1h-1zM45 44h1v1h-1zM51 44h1v1h-1zM55 44h1v1h-1zM31 45h1v1h-1zM44 45h1v1h-1zM49 45h1v1h-1zM51 45h2v1h-2zM56 45h1v1h-1zM61 45h1v1h-1zM31 46h1v1h-1zM36 46h1v1h-1zM43 46h1v1h-1zM45 46h1v1h-1zM50 46h1v1h-1zM52 46h3v1h-3zM33 47h1v1h-1zM47 47h1v1h-1zM50 47h1v1h-1zM33 48h2v1h-2zM44 48h1v1h-1zM47 48h1v1h-1zM16 49h1v1h-1zM32 49h1v1h-1zM38 49h1v1h-1zM46 49h1v1h-1zM49 49h2v1h-2zM0 50h1v1h-1zM39 50h1v1h-1zM48 50h1v1h-1zM50 50h1v1h-1zM29 51h1v1h-1zM33 51h1v1h-1zM35 51h1v1h-1zM45 51h1v1h-1zM59 51h1v1h-1zM3 52h1v1h-1zM19 52h1v1h-1zM22 52h1v1h-1zM24 52h1v1h-1zM30 52h1v1h-1zM33 52h1v1h-1zM36 52h2v1h-2zM40 52h1v1h-1zM3 53h1v1h-1zM23 53h1v1h-1zM29 53h1v1h-1zM35 53h2v1h-2zM11 54h1v1h-1zM25 54h1v1h-1zM29 54h1v1h-1zM31 54h4v1h-4zM4 55h1v1h-1zM8 55h1v1h-1zM18 55h1v1h-1zM22 55h1v1h-1zM26 55h1v1h-1zM29 55h1v1h-1zM10 56h1v1h-1zM17 56h1v1h-1zM21 56h2v1h-2zM25 56h2v1h-2zM37 56h1v1h-1zM8 57h1v1h-1zM12 57h1v1h-1zM19 57h1v1h-1zM21 57h1v1h-1zM23 57h1v1h-1zM28 57h1v1h-1zM36 57h1v1h-1zM9 58h3v1h-3zM15 58h1v1h-1zM26 58h1v1h-1zM29 58h1v1h-1zM0 59h1v1h-1zM4 59h1v1h-1zM18 59h1v1h-1zM20 59h1v1h-1zM24 59h1v1h-1zM2 60h1v1h-1zM6 60h1v1h-1zM20 60h2v1h-2zM3 61h2v1h-2zM8 61h1v1h-1zM15 61h1v1h-1zM1 62h1v1h-1zM4 62h1v1h-1zM9 62h1v1h-1zM14 62h1v1h-1zM28 62h1v1h-1zM2 63h1v1h-1zM5 63h1v1h-1zM10 64h2v1h-2zM18 64h1v1h-1zM2 65h1v1h-1zM4 65h1v1h-1zM91 71h1v1h-1zM95 71h1v1h-1zM85 72h2v1h-2zM98 72h2v1h-2zM74 73h1v1h-1zM80 73h1v1h-1zM91 73h3v1h-3zM95 73h1v1h-1zM78 74h1v1h-1zM87 74h1v1h-1zM91 74h1v1h-1zM97 74h3v1h-3zM81 75h1v1h-1zM92 75h1v1h-1zM98 75h1v1h-1zM79 76h2v1h-2zM82 76h1v1h-1zM84 76h1v1h-1zM86 76h1v1h-1zM90 76h2v1h-2zM97 76h1v1h-1zM74 77h1v1h-1zM76 77h2v1h-2zM80 77h2v1h-2zM84 77h1v1h-1zM90 77h1v1h-1zM96 77h1v1h-1zM67 78h1v1h-1zM69 78h1v1h-1zM72 78h1v1h-1zM74 78h1v1h-1zM78 78h1v1h-1zM82 78h1v1h-1zM85 78h2v1h-2zM90 78h1v1h-1zM96 78h1v1h-1zM98 78h1v1h-1zM63 79h1v1h-1zM72 79h3v1h-3zM78 79h1v1h-1zM86 79h1v1h-1zM94 79h1v1h-1zM97 79h1v1h-1zM55 80h1v1h-1zM59 80h1v1h-1zM61 80h2v1h-2zM64 80h1v1h-1zM70 80h1v1h-1zM79 80h1v1h-1zM84 80h2v1h-2zM52 81h1v1h-1zM58 81h2v1h-2zM62 81h1v1h-1zM96 81h1v1h-1zM52 82h1v1h-1zM55 82h3v1h-3zM59 82h1v1h-1zM51 83h1v1h-1zM56 83h1v1h-1zM59 83h2v1h-2zM64 83h1v1h-1zM67 83h1v1h-1zM48 84h2v1h-2zM55 84h2v1h-2zM60 84h1v1h-1zM42 85h1v1h-1zM50 85h2v1h-2zM46 86h1v1h-1zM44 88h2v1h-2zM33 89h1v1h-1zM36 89h1v1h-1zM34 90h1v1h-1zM99 90h1v1h-1zM28 91h2v1h-2zM31 91h1v1h-1zM33 91h1v1h-1zM26 92h1v1h-1zM17 93h1v1h-1zM19 93h2v1h-2zM24 93h2v1h-2zM31 93h1v1h-1zM99 93h1v1h-1zM19 94h1v1h-1zM21 94h1v1h-1zM23 94h1v1h-1zM25 94h1v1h-1zM14 95h1v1h-1zM22 95h2v1h-2zM13 96h1v1h-1zM19 96h1v1h-1zM13 97h1v1h-1zM17 97h1v1h-1zM11 98h1v1h-1zM15 98h1v1h-1z"/>
<path fill="#3d4b88" d="M98 18h1v1h-1zM92 19h1v1h-1zM94 19h1v1h-1zM96 19h1v1h-1zM91 21h1v1h-1zM96 21h2v1h-2zM81 22h1v1h-1zM90 22h1v1h-1zM93 22h1v1h-1zM96 22h1v1h-1zM99 22h1v1h-1zM86 23h1v1h-1zM93 23h1v1h-1zM95 23h5v1h-5zM81 24h1v1h-1zM89 24h1v1h-1zM93 24h1v1h-1zM81 25h1v1h-1zM89 25h1v1h-1zM92 25h1v1h-1zM95 25h1v1h-1zM98 25h1v1h-1zM83 26h1v1h-1zM87 26h1v1h-1zM89 26h3v1h-3zM96 26h2v1h-2zM83 27h2v1h-2zM92 27h1v1h-1zM94 27h2v1h-2zM71 28h1v1h-1zM74 28h1v1h-1zM77 28h2v1h-2zM84 28h1v1h-1zM86 28h1v1h-1zM88 28h1v1h-1zM65 29h1v1h-1zM90 29h1v1h-1zM92 29h1v1h-1zM97 29h1v1h-1zM69 30h1v1h-1zM82 30h2v1h-2zM89 30h1v1h-1zM94 30h2v1h-2zM73 31h2v1h-2zM79 31h1v1h-1zM90 31h1v1h-1zM78 32h1v1h-1zM81 32h1v1h-1zM85 32h1v1h-1zM95 32h1v1h-1zM74 33h2v1h-2zM69 34h1v1h-1zM76 34h1v1h-1zM90 34h1v1h-1zM61 35h1v1h-1zM72 35h1v1h-1zM74 35h1v1h-1zM76 35h1v1h-1zM59 36h1v1h-1zM62 36h2v1h-2zM74 36h1v1h-1zM79 36h1v1h-1zM56 37h1v1h-1zM71 37h1v1h-1zM77 37h1v1h-1zM86 37h1v1h-1zM62 38h1v1h-1zM64 38h1v1h-1zM66 38h1v1h-1zM69 38h1v1h-1zM71 38h1v1h-1zM47 39h1v1h-1zM56 39h1v1h-1zM62 39h1v1h-1zM64 39h1v1h-1zM70 39h1v1h-1zM75 39h1v1h-1zM86 39h1v1h-1zM62 40h1v1h-1zM50 41h3v1h-3zM54 41h1v1h-1zM56 41h1v1h-1zM58 41h1v1h-1zM60 41h3v1h-3zM64 41h1v1h-1zM69 41h2v1h-2zM46 42h1v1h-1zM53 42h1v1h-1zM64 42h1v1h-1zM74 42h1v1h-1zM55 43h1v1h-1zM60 43h2v1h-2zM63 43h1v1h-1zM71 43h1v1h-1zM38 44h1v1h-1zM48 44h2v1h-2zM54 44h1v1h-1zM46 45h1v1h-1zM48 45h1v1h-1zM58 45h1v1h-1zM49 46h1v1h-1zM51 46h1v1h-1zM58 46h1v1h-1zM42 47h2v1h-2zM51 47h1v1h-1zM55 47h1v1h-1zM58 47h1v1h-1zM60 47h1v1h-1zM26 48h1v1h-1zM39 48h1v1h-1zM49 48h1v1h-1zM52 48h1v1h-1zM64 48h1v1h-1zM41 49h1v1h-1zM44 49h2v1h-2zM25 50h1v1h-1zM34 50h1v1h-1zM40 50h2v1h-2zM30 51h1v1h-1zM34 51h1v1h-1zM42 51h1v1h-1zM26 52h1v1h-1zM28 52h1v1h-1zM31 52h1v1h-1zM38 52h1v1h-1zM44 52h1v1h-1zM47 52h1v1h-1zM25 53h1v1h-1zM32 53h1v1h-1zM37 53h1v1h-1zM40 53h1v1h-1zM42 53h1v1h-1zM23 54h1v1h-1zM27 54h2v1h-2zM39 54h1v1h-1zM21 55h1v1h-1zM27 55h1v1h-1zM31 55h1v1h-1zM38 55h1v1h-1zM16 56h1v1h-1zM23 56h1v1h-1zM30 56h2v1h-2zM42 56h1v1h-1zM17 57h1v1h-1zM20 57h1v1h-1zM22 57h1v1h-1zM26 57h1v1h-1zM31 57h1v1h-1zM1 58h1v1h-1zM4 58h1v1h-1zM8 58h1v1h-1zM16 58h4v1h-4zM23 58h1v1h-1zM25 58h1v1h-1zM28 58h1v1h-1zM32 58h1v1h-1zM1 59h1v1h-1zM3 59h1v1h-1zM5 59h1v1h-1zM14 59h1v1h-1zM16 59h2v1h-2zM23 59h1v1h-1zM27 59h1v1h-1zM33 59h1v1h-1zM0 60h1v1h-1zM5 60h1v1h-1zM9 60h1v1h-1zM14 60h2v1h-2zM17 60h2v1h-2zM22 60h3v1h-3zM2 61h1v1h-1zM10 61h3v1h-3zM14 61h1v1h-1zM19 61h1v1h-1zM27 61h1v1h-1zM0 62h1v1h-1zM3 62h1v1h-1zM10 62h1v1h-1zM15 62h1v1h-1zM18 62h1v1h-1zM22 62h1v1h-1zM1 63h1v1h-1zM3 63h1v1h-1zM9 63h2v1h-2zM13 63h1v1h-1zM19 63h2v1h-2zM6 64h1v1h-1zM15 64h1v1h-1zM24 64h1v1h-1zM5 65h2v1h-2zM12 66h1v1h-1zM15 67h1v1h-1zM90 69h1v1h-1zM99 69h1v1h-1zM91 70h1v1h-1zM88 71h1v1h-1zM96 71h1v1h-1zM77 72h1v1h-1zM91 72h1v1h-1zM95 72h1v1h-1zM86 73h1v1h-1zM99 73h1v1h-1zM84 74h2v1h-2zM89 74h1v1h-1zM93 74h1v1h-1zM95 74h1v1h-1zM60 75h1v1h-1zM66 75h1v1h-1zM73 75h1v1h-1zM78 75h1v1h-1zM82 75h1v1h-1zM87 75h1v1h-1zM91 75h1v1h-1zM95 75h3v1h-3zM65 76h1v1h-1zM71 76h1v1h-1zM75 76h1v1h-1zM77 76h1v1h-1zM88 76h2v1h-2zM65 77h1v1h-1zM71 77h1v1h-1zM73 77h1v1h-1zM82 77h1v1h-1zM87 77h1v1h-1zM89 77h1v1h-1zM97 77h2v1h-2zM62 78h1v1h-1zM64 78h1v1h-1zM66 78h1v1h-1zM68 78h1v1h-1zM71 78h1v1h-1zM75 78h3v1h-3zM79 78h1v1h-1zM87 78h1v1h-1zM58 79h1v1h-1zM64 79h1v1h-1zM68 79h1v1h-1zM82 79h1v1h-1zM47 80h1v1h-1zM69 80h1v1h-1zM71 80h1v1h-1zM51 81h1v1h-1zM53 81h1v1h-1zM60 81h1v1h-1zM64 81h1v1h-1zM58 82h1v1h-1zM61 82h1v1h-1zM50 83h1v1h-1zM52 83h1v1h-1zM41 84h1v1h-1zM46 84h1v1h-1zM37 86h1v1h-1zM39 86h1v1h-1zM44 86h1v1h-1zM29 87h2v1h-2zM33 87h1v1h-1zM37 87h1v1h-1zM41 87h3v1h-3zM25 88h1v1h-1zM32 88h1v1h-1zM34 88h2v1h-2zM27 89h1v1h-1zM34 89h1v1h-1zM27 90h1v1h-1zM19 91h1v1h-1zM27 91h1v1h-1zM19 92h1v1h-1zM22 92h1v1h-1zM22 93h1v1h-1zM18 94h1v1h-1zM20 94h1v1h-1zM22 94h1v1h-1zM28 94h1v1h-1zM15 95h1v1h-1zM15 96h1v1h-1zM12 97h1v1h-1zM15 97h1v1h-1zM9 98h2v1h-2zM12 98h1v1h-1zM10 99h1v1h-1z"/>
<path fill="#3a538b" d="M83 22h1v1h-1zM92 23h1v1h-1zM91 24h1v1h-1zM96 24h1v1h-1zM79 26h1v1h-1zM88 26h1v1h-1zM93 26h3v1h-3zM98 26h1v1h-1zM85 27h2v1h-2zM88 27h1v1h-1zM81 28h2v1h-2zM85 28h1v1h-1zM89 28h2v1h-2zM99 28h1v1h-1zM84 29h1v1h-1zM87 29h1v1h-1zM81 30h1v1h-1zM84 30h1v1h-1zM86 30h3v1h-3zM90 30h1v1h-1zM93 30h1v1h-1zM99 30h1v1h-1zM78 31h1v1h-1zM82 31h1v1h-1zM84 31h2v1h-2zM87 31h1v1h-1zM91 31h1v1h-1zM93 31h1v1h-1zM95 31h1v1h-1zM98 31h1v1h-1zM74 32h1v1h-1zM77 32h1v1h-1zM80 32h1v1h-1zM83 32h1v1h-1zM88 32h1v1h-1zM91 32h1v1h-1zM96 32h1v1h-1zM73 33h1v1h-1zM78 33h1v1h-1zM80 33h1v1h-1zM82 33h2v1h-2zM85 33h2v1h-2zM96 33h1v1h-1zM71 34h1v1h-1zM74 34h2v1h-2zM91 34h1v1h-1zM70 35h2v1h-2zM77 35h2v1h-2zM81 35h1v1h-1zM96 35h1v1h-1zM76 36h1v1h-1zM84 36h1v1h-1zM67 37h2v1h-2zM73 37h1v1h-1zM97 37h1v1h-1zM51 38h1v1h-1zM60 38h1v1h-1zM72 38h1v1h-1zM75 38h1v1h-1zM85 38h1v1h-1zM88 38h1v1h-1zM58 39h1v1h-1zM66 39h2v1h-2zM84 39h1v1h-1zM88 39h1v1h-1zM91 39h1v1h-1zM99 39h1v1h-1zM58 40h1v1h-1zM63 40h1v1h-1zM65 40h1v1h-1zM63 41h1v1h-1zM65 41h1v1h-1zM57 42h1v1h-1zM63 42h1v1h-1zM66 42h2v1h-2zM51 43h1v1h-1zM58 43h2v1h-2zM62 43h1v1h-1zM46 44h1v1h-1zM53 44h1v1h-1zM57 44h1v1h-1zM63 44h1v1h-1zM82 44h1v1h-1zM57 45h1v1h-1zM77 45h1v1h-1zM41 46h1v1h-1zM56 46h1v1h-1zM65 46h1v1h-1zM70 46h1v1h-1zM44 47h1v1h-1zM52 47h1v1h-1zM42 48h1v1h-1zM45 48h1v1h-1zM57 48h1v1h-1zM60 48h1v1h-1zM62 48h1v1h-1zM40 49h1v1h-1zM43 49h1v1h-1zM47 49h2v1h-2zM27 50h1v1h-1zM38 50h1v1h-1zM43 50h1v1h-1zM45 50h3v1h-3zM51 50h1v1h-1zM67 50h1v1h-1zM36 51h1v1h-1zM38 51h1v1h-1zM41 51h1v1h-1zM44 51h1v1h-1zM46 51h1v1h-1zM48 51h2v1h-2zM35 52h1v1h-1zM41 52h3v1h-3zM49 52h1v1h-1zM57 52h1v1h-1zM28 53h1v1h-1zM34 53h1v1h-1zM38 53h2v1h-2zM43 53h1v1h-1zM48 53h1v1h-1zM62 53h1v1h-1zM35 54h1v1h-1zM38 54h1v1h-1zM40 54h2v1h-2zM44 54h1v1h-1zM48 54h1v1h-1zM19 55h1v1h-1zM28 55h1v1h-1zM33 55h2v1h-2zM36 55h1v1h-1zM40 55h2v1h-2zM46 55h1v1h-1zM27 56h1v1h-1zM32 56h3v1h-3zM36 56h1v1h-1zM25 57h1v1h-1zM27 57h1v1h-1zM29 57h1v1h-1zM22 58h1v1h-1zM30 58h2v1h-2zM10 59h1v1h-1zM26 59h1v1h-1zM31 59h2v1h-2zM3 60h1v1h-1zM10 60h1v1h-1zM12 60h1v1h-1zM33 60h1v1h-1zM0 61h1v1h-1zM6 61h2v1h-2zM16 61h3v1h-3zM26 61h1v1h-1zM28 61h1v1h-1zM2 62h1v1h-1zM5 62h1v1h-1zM11 62h1v1h-1zM13 62h1v1h-1zM17 62h1v1h-1zM23 62h1v1h-1zM0 63h1v1h-1zM4 63h1v1h-1zM6 63h1v1h-1zM11 63h2v1h-2zM14 63h3v1h-3zM24 63h1v1h-1zM98 63h1v1h-1zM3 64h1v1h-1zM7 64h3v1h-3zM20 64h1v1h-1zM21 65h1v1h-1zM2 66h1v1h-1zM10 66h1v1h-1zM89 66h1v1h-1zM89 67h1v1h-1zM91 67h1v1h-1zM95 67h1v1h-1zM0 68h1v1h-1zM4 68h1v1h-1zM92 68h1v1h-1zM94 69h1v1h-1zM83 70h1v1h-1zM93 70h1v1h-1zM68 71h1v1h-1zM71 71h1v1h-1zM85 71h1v1h-1zM87 71h1v1h-1zM90 71h1v1h-1zM92 71h1v1h-1zM94 71h1v1h-1zM99 71h1v1h-1zM90 72h1v1h-1zM92 72h1v1h-1zM94 72h1v1h-1zM75 73h1v1h-1zM78 73h1v1h-1zM89 73h1v1h-1zM94 73h1v1h-1zM97 73h1v1h-1zM75 74h1v1h-1zM79 74h1v1h-1zM82 74h2v1h-2zM86 74h1v1h-1zM88 74h1v1h-1zM90 74h1v1h-1zM92 74h1v1h-1zM94 74h1v1h-1zM96 74h1v1h-1zM70 75h1v1h-1zM74 75h3v1h-3zM79 75h2v1h-2zM83 75h1v1h-1zM86 75h1v1h-1zM89 75h1v1h-1zM64 76h1v1h-1zM67 76h1v1h-1zM72 76h3v1h-3zM85 76h1v1h-1zM95 76h1v1h-1zM66 77h1v1h-1zM70 77h1v1h-1zM75 77h1v1h-1zM86 77h1v1h-1zM59 78h1v1h-1zM61 78h1v1h-1zM65 78h1v1h-1zM53 79h1v1h-1zM57 79h1v1h-1zM59 79h3v1h-3zM65 79h2v1h-2zM49 80h1v1h-1zM58 80h1v1h-1zM60 80h1v1h-1zM63 80h1v1h-1zM76 80h1v1h-1zM49 81h1v1h-1zM54 81h1v1h-1zM56 81h2v1h-2zM50 82h1v1h-1zM53 82h1v1h-1zM60 82h1v1h-1zM33 83h1v1h-1zM43 83h1v1h-1zM47 83h1v1h-1zM61 83h1v1h-1zM38 84h1v1h-1zM40 84h1v1h-1zM43 84h2v1h-2zM47 84h1v1h-1zM50 84h1v1h-1zM31 85h1v1h-1zM36 85h2v1h-2zM36 86h1v1h-1zM38 86h1v1h-1zM34 87h2v1h-2zM26 88h1v1h-1zM28 88h1v1h-1zM26 89h1v1h-1zM28 89h1v1h-1zM31 89h1v1h-1zM25 90h2v1h-2zM20 91h1v1h-1zM18 92h1v1h-1zM23 92h1v1h-1zM21 93h1v1h-1zM13 94h2v1h-2zM17 94h1v1h-1zM13 95h1v1h-1zM17 95h1v1h-1zM19 95h1v1h-1zM99 95h1v1h-1zM5 99h1v1h-1zM9 99h1v1h-1zM99 99h1v1h-1z"/>
<path fill="#37598c" d="M94 25h1v1h-1zM97 25h1v1h-1zM99 25h1v1h-1zM91 27h1v1h-1zM97 27h1v1h-1zM99 27h1v1h-1zM87 28h1v1h-1zM94 28h1v1h-1zM91 29h1v1h-1zM93 29h3v1h-3zM98 29h1v1h-1zM85 30h1v1h-1zM91 30h2v1h-2zM68 31h1v1h-1zM80 31h1v1h-1zM89 31h1v1h-1zM92 31h1v1h-1zM86 32h2v1h-2zM93 32h1v1h-1zM87 33h2v1h-2zM90 33h3v1h-3zM83 34h2v1h-2zM87 34h1v1h-1zM92 34h1v1h-1zM82 35h1v1h-1zM85 35h2v1h-2zM90 35h1v1h-1zM99 35h1v1h-1zM66 36h1v1h-1zM72 36h2v1h-2zM77 36h1v1h-1zM80 36h1v1h-1zM82 36h1v1h-1zM87 36h1v1h-1zM98 36h1v1h-1zM62 37h1v1h-1zM69 37h2v1h-2zM72 37h1v1h-1zM76 37h1v1h-1zM78 37h1v1h-1zM85 37h1v1h-1zM90 37h1v1h-1zM67 38h2v1h-2zM70 38h1v1h-1zM73 38h2v1h-2zM77 38h1v1h-1zM90 38h1v1h-1zM92 38h1v1h-1zM60 39h1v1h-1zM65 39h1v1h-1zM72 39h1v1h-1zM74 39h1v1h-1zM78 39h1v1h-1zM80 39h1v1h-1zM72 40h1v1h-1zM74 40h2v1h-2zM59 41h1v1h-1zM66 41h1v1h-1zM56 42h1v1h-1zM69 42h1v1h-1zM81 42h1v1h-1zM56 43h1v1h-1zM75 43h1v1h-1zM52 44h1v1h-1zM56 44h1v1h-1zM61 44h2v1h-2zM69 44h1v1h-1zM72 44h1v1h-1zM50 45h1v1h-1zM55 45h1v1h-1zM60 45h1v1h-1zM46 46h1v1h-1zM55 46h1v1h-1zM60 46h1v1h-1zM71 46h1v1h-1zM75 46h1v1h-1zM91 46h1v1h-1zM53 47h1v1h-1zM57 47h1v1h-1zM62 47h1v1h-1zM48 48h1v1h-1zM50 48h2v1h-2zM55 48h1v1h-1zM39 49h1v1h-1zM42 49h1v1h-1zM52 49h1v1h-1zM55 49h1v1h-1zM42 50h1v1h-1zM44 50h1v1h-1zM39 51h2v1h-2zM43 51h1v1h-1zM47 51h1v1h-1zM50 51h2v1h-2zM58 51h1v1h-1zM39 52h1v1h-1zM45 52h1v1h-1zM52 52h1v1h-1zM58 52h1v1h-1zM33 53h1v1h-1zM46 53h1v1h-1zM59 53h1v1h-1zM76 53h1v1h-1zM30 54h1v1h-1zM36 54h1v1h-1zM42 54h2v1h-2zM46 54h1v1h-1zM42 55h1v1h-1zM29 56h1v1h-1zM35 56h1v1h-1zM50 56h1v1h-1zM32 57h1v1h-1zM34 57h1v1h-1zM38 57h1v1h-1zM24 58h1v1h-1zM27 58h1v1h-1zM33 58h1v1h-1zM43 58h1v1h-1zM25 59h1v1h-1zM36 59h1v1h-1zM40 59h1v1h-1zM27 60h1v1h-1zM29 60h1v1h-1zM32 60h1v1h-1zM38 60h1v1h-1zM1 61h1v1h-1zM35 61h2v1h-2zM8 62h1v1h-1zM12 62h1v1h-1zM24 62h1v1h-1zM26 62h1v1h-1zM18 63h1v1h-1zM22 63h2v1h-2zM0 64h1v1h-1zM2 64h1v1h-1zM4 64h2v1h-2zM12 64h1v1h-1zM14 64h1v1h-1zM17 64h1v1h-1zM29 64h1v1h-1zM0 65h1v1h-1zM3 65h1v1h-1zM7 65h1v1h-1zM9 65h1v1h-1zM11 65h2v1h-2zM14 65h1v1h-1zM17 65h1v1h-1zM19 65h1v1h-1zM26 65h1v1h-1zM99 65h1v1h-1zM0 66h2v1h-2zM3 66h1v1h-1zM6 66h2v1h-2zM11 66h1v1h-1zM16 66h1v1h-1zM87 66h1v1h-1zM97 66h1v1h-1zM9 67h1v1h-1zM17 67h1v1h-1zM26 67h1v1h-1zM11 68h1v1h-1zM87 68h2v1h-2zM95 68h1v1h-1zM97 68h1v1h-1zM85 69h1v1h-1zM93 69h1v1h-1zM95 69h1v1h-1zM97 69h2v1h-2zM68 70h1v1h-1zM82 70h1v1h-1zM88 70h1v1h-1zM95 70h1v1h-1zM97 70h1v1h-1zM99 70h1v1h-1zM67 71h1v1h-1zM84 71h1v1h-1zM97 71h2v1h-2zM88 72h1v1h-1zM93 72h1v1h-1zM96 72h2v1h-2zM70 73h1v1h-1zM76 73h1v1h-1zM81 73h1v1h-1zM83 73h2v1h-2zM87 73h1v1h-1zM66 74h1v1h-1zM71 74h1v1h-1zM73 74h1v1h-1zM80 74h1v1h-1zM56 75h1v1h-1zM61 75h1v1h-1zM64 75h1v1h-1zM84 75h1v1h-1zM88 75h1v1h-1zM90 75h1v1h-1zM78 76h1v1h-1zM81 76h1v1h-1zM93 76h1v1h-1zM55 77h1v1h-1zM58 77h1v1h-1zM60 77h1v1h-1zM63 77h2v1h-2zM69 77h1v1h-1zM78 77h1v1h-1zM54 78h1v1h-1zM57 78h2v1h-2zM63 78h1v1h-1zM42 79h1v1h-1zM52 79h1v1h-1zM62 79h1v1h-1zM38 80h1v1h-1zM46 80h1v1h-1zM50 80h1v1h-1zM56 80h1v1h-1zM67 80h1v1h-1zM44 81h1v1h-1zM55 81h1v1h-1zM42 82h1v1h-1zM44 82h1v1h-1zM47 82h2v1h-2zM54 82h1v1h-1zM63 82h1v1h-1zM42 83h1v1h-1zM45 83h2v1h-2zM49 83h1v1h-1zM58 83h1v1h-1zM99 83h1v1h-1zM25 85h2v1h-2zM35 85h1v1h-1zM39 85h1v1h-1zM41 85h1v1h-1zM46 85h2v1h-2zM27 86h2v1h-2zM33 86h2v1h-2zM99 86h1v1h-1zM24 87h1v1h-1zM26 87h1v1h-1zM31 87h2v1h-2zM99 87h1v1h-1zM29 88h2v1h-2zM33 88h1v1h-1zM39 88h1v1h-1zM30 89h1v1h-1zM99 89h1v1h-1zM23 90h1v1h-1zM29 90h1v1h-1zM22 91h3v1h-3zM20 92h2v1h-2zM24 92h1v1h-1zM99 92h1v1h-1zM16 93h1v1h-1zM99 94h1v1h-1zM16 95h1v1h-1zM12 96h1v1h-1zM14 96h1v1h-1zM99 96h1v1h-1zM8 97h1v1h-1zM11 97h1v1h-1zM99 97h1v1h-1zM7 99h1v1h-1zM12 99h1v1h-1z"/>
<path fill="#34608c" d="M98 24h1v1h-1zM96 25h1v1h-1zM99 26h1v1h-1zM96 27h1v1h-1zM95 28h2v1h-2zM98 28h1v1h-1zM89 29h1v1h-1zM96 30h1v1h-1zM98 30h1v1h-1zM97 31h1v1h-1zM99 31h1v1h-1zM72 32h1v1h-1zM90 32h1v1h-1zM92 32h1v1h-1zM98 32h2v1h-2zM84 33h1v1h-1zM80 34h2v1h-2zM85 34h1v1h-1zM88 34h1v1h-1zM95 34h1v1h-1zM79 35h1v1h-1zM83 35h2v1h-2zM98 35h1v1h-1zM81 36h1v1h-1zM83 36h1v1h-1zM86 36h1v1h-1zM88 36h2v1h-2zM91 36h1v1h-1zM79 37h1v1h-1zM91 37h1v1h-1zM65 38h1v1h-1zM78 38h1v1h-1zM89 38h1v1h-1zM93 38h1v1h-1zM68 39h1v1h-1zM87 39h1v1h-1zM90 39h1v1h-1zM64 40h1v1h-1zM66 40h1v1h-1zM69 40h2v1h-2zM76 40h1v1h-1zM78 40h1v1h-1zM81 40h1v1h-1zM84 40h1v1h-1zM86 40h2v1h-2zM91 40h1v1h-1zM96 40h1v1h-1zM73 41h2v1h-2zM77 41h1v1h-1zM80 41h2v1h-2zM62 42h1v1h-1zM70 42h1v1h-1zM73 42h1v1h-1zM77 42h1v1h-1zM79 42h2v1h-2zM64 43h1v1h-1zM74 43h1v1h-1zM84 43h1v1h-1zM59 44h2v1h-2zM64 44h2v1h-2zM81 44h1v1h-1zM86 44h1v1h-1zM54 45h1v1h-1zM62 45h1v1h-1zM64 45h1v1h-1zM66 45h1v1h-1zM69 45h1v1h-1zM73 45h2v1h-2zM57 46h1v1h-1zM59 46h1v1h-1zM61 46h1v1h-1zM63 46h2v1h-2zM68 46h1v1h-1zM77 46h1v1h-1zM90 46h1v1h-1zM49 47h1v1h-1zM56 47h1v1h-1zM59 47h1v1h-1zM65 47h2v1h-2zM68 47h1v1h-1zM74 47h1v1h-1zM46 48h1v1h-1zM53 48h1v1h-1zM56 48h1v1h-1zM59 48h1v1h-1zM63 48h1v1h-1zM75 48h1v1h-1zM53 49h2v1h-2zM58 49h1v1h-1zM61 49h1v1h-1zM63 49h1v1h-1zM53 50h1v1h-1zM60 50h1v1h-1zM52 51h2v1h-2zM64 51h1v1h-1zM46 52h1v1h-1zM48 52h1v1h-1zM50 52h1v1h-1zM44 53h2v1h-2zM37 54h1v1h-1zM45 54h1v1h-1zM47 54h1v1h-1zM53 54h3v1h-3zM58 54h1v1h-1zM60 54h1v1h-1zM32 55h1v1h-1zM37 55h1v1h-1zM43 55h1v1h-1zM45 55h1v1h-1zM50 55h1v1h-1zM39 56h1v1h-1zM44 56h1v1h-1zM48 56h1v1h-1zM35 57h1v1h-1zM40 57h2v1h-2zM37 58h1v1h-1zM41 58h1v1h-1zM53 58h1v1h-1zM22 59h1v1h-1zM29 59h2v1h-2zM39 59h1v1h-1zM50 59h1v1h-1zM93 59h1v1h-1zM26 60h1v1h-1zM28 60h1v1h-1zM30 60h2v1h-2zM53 60h1v1h-1zM56 60h1v1h-1zM91 60h1v1h-1zM95 60h1v1h-1zM21 61h1v1h-1zM23 61h3v1h-3zM16 62h1v1h-1zM19 62h1v1h-1zM30 62h1v1h-1zM34 62h1v1h-1zM94 62h1v1h-1zM7 63h1v1h-1zM25 63h1v1h-1zM27 63h1v1h-1zM33 63h1v1h-1zM94 63h1v1h-1zM1 64h1v1h-1zM13 64h1v1h-1zM23 64h1v1h-1zM25 64h1v1h-1zM35 64h1v1h-1zM80 64h1v1h-1zM89 64h1v1h-1zM1 65h1v1h-1zM8 65h1v1h-1zM13 65h1v1h-1zM15 65h1v1h-1zM20 65h1v1h-1zM22 65h1v1h-1zM31 65h1v1h-1zM85 65h1v1h-1zM97 65h1v1h-1zM4 66h1v1h-1zM8 66h1v1h-1zM22 66h1v1h-1zM98 66h1v1h-1zM1 67h2v1h-2zM5 67h1v1h-1zM7 67h2v1h-2zM11 67h1v1h-1zM16 67h1v1h-1zM75 67h1v1h-1zM96 67h1v1h-1zM2 68h1v1h-1zM7 68h1v1h-1zM9 68h1v1h-1zM12 68h1v1h-1zM64 68h1v1h-1zM89 68h2v1h-2zM96 68h1v1h-1zM13 69h1v1h-1zM17 69h1v1h-1zM53 69h1v1h-1zM56 69h1v1h-1zM58 69h1v1h-1zM66 69h1v1h-1zM89 69h1v1h-1zM2 70h1v1h-1zM74 70h2v1h-2zM81 70h1v1h-1zM87 70h1v1h-1zM90 70h1v1h-1zM94 70h1v1h-1zM24 71h1v1h-1zM69 71h1v1h-1zM75 71h2v1h-2zM80 71h1v1h-1zM83 71h1v1h-1zM86 71h1v1h-1zM64 72h1v1h-1zM68 72h4v1h-4zM60 73h1v1h-1zM68 73h1v1h-1zM71 73h1v1h-1zM82 73h1v1h-1zM85 73h1v1h-1zM88 73h1v1h-1zM59 74h1v1h-1zM63 74h1v1h-1zM68 74h1v1h-1zM77 74h1v1h-1zM81 74h1v1h-1zM52 75h1v1h-1zM58 75h1v1h-1zM62 75h2v1h-2zM65 75h1v1h-1zM67 75h1v1h-1zM69 75h1v1h-1zM72 75h1v1h-1zM77 75h1v1h-1zM58 76h3v1h-3zM62 76h2v1h-2zM69 76h1v1h-1zM76 76h1v1h-1zM53 77h1v1h-1zM57 77h1v1h-1zM59 77h1v1h-1zM61 77h1v1h-1zM72 77h1v1h-1zM44 78h1v1h-1zM48 78h1v1h-1zM50 78h1v1h-1zM55 78h2v1h-2zM60 78h1v1h-1zM46 79h1v1h-1zM51 79h1v1h-1zM55 79h1v1h-1zM67 79h1v1h-1zM40 80h1v1h-1zM42 80h1v1h-1zM45 80h1v1h-1zM48 80h1v1h-1zM51 80h1v1h-1zM53 80h1v1h-1zM57 80h1v1h-1zM29 81h1v1h-1zM47 81h2v1h-2zM35 82h3v1h-3zM41 82h1v1h-1zM43 82h1v1h-1zM38 83h3v1h-3zM44 83h1v1h-1zM48 83h1v1h-1zM39 84h1v1h-1zM32 85h1v1h-1zM38 85h1v1h-1zM24 86h1v1h-1zM35 86h1v1h-1zM40 86h1v1h-1zM38 87h1v1h-1zM23 88h1v1h-1zM27 88h1v1h-1zM24 89h1v1h-1zM17 90h2v1h-2zM21 90h2v1h-2zM24 90h1v1h-1zM17 91h1v1h-1zM21 91h1v1h-1zM99 91h1v1h-1zM16 92h2v1h-2zM13 93h1v1h-1zM15 93h1v1h-1zM15 94h1v1h-1zM12 95h1v1h-1zM99 98h1v1h-1zM8 99h1v1h-1z"/>
<path fill="#31668d" d="M98 27h1v1h-1zM97 28h1v1h-1zM97 30h1v1h-1zM94 31h1v1h-1zM96 31h1v1h-1zM93 33h2v1h-2zM99 33h1v1h-1zM82 34h1v1h-1zM86 34h1v1h-1zM97 34h1v1h-1zM99 34h1v1h-1zM87 35h3v1h-3zM93 35h1v1h-1zM93 36h1v1h-1zM99 36h1v1h-1zM75 37h1v1h-1zM80 37h1v1h-1zM83 37h1v1h-1zM87 37h2v1h-2zM96 37h1v1h-1zM76 38h1v1h-1zM80 38h1v1h-1zM87 38h1v1h-1zM96 38h1v1h-1zM71 39h1v1h-1zM77 39h1v1h-1zM83 39h1v1h-1zM85 39h1v1h-1zM67 40h1v1h-1zM71 40h1v1h-1zM73 40h1v1h-1zM80 40h1v1h-1zM82 40h1v1h-1zM90 40h1v1h-1zM67 41h1v1h-1zM71 41h1v1h-1zM79 41h1v1h-1zM83 41h1v1h-1zM90 41h1v1h-1zM72 42h1v1h-1zM78 42h1v1h-1zM88 42h1v1h-1zM66 43h3v1h-3zM70 43h1v1h-1zM72 43h2v1h-2zM78 43h4v1h-4zM91 43h3v1h-3zM58 44h1v1h-1zM66 44h1v1h-1zM68 44h1v1h-1zM59 45h1v1h-1zM63 45h1v1h-1zM65 45h1v1h-1zM67 45h2v1h-2zM71 45h2v1h-2zM88 45h1v1h-1zM92 45h1v1h-1zM62 46h1v1h-1zM66 46h1v1h-1zM69 46h1v1h-1zM87 46h1v1h-1zM54 47h1v1h-1zM71 47h2v1h-2zM94 47h1v1h-1zM67 48h4v1h-4zM73 48h1v1h-1zM92 48h1v1h-1zM56 49h1v1h-1zM65 49h1v1h-1zM67 49h1v1h-1zM70 49h2v1h-2zM77 49h1v1h-1zM80 49h1v1h-1zM49 50h1v1h-1zM52 50h1v1h-1zM54 50h1v1h-1zM58 50h1v1h-1zM61 50h1v1h-1zM54 51h1v1h-1zM56 51h1v1h-1zM60 51h1v1h-1zM63 51h1v1h-1zM88 51h1v1h-1zM53 52h2v1h-2zM56 52h1v1h-1zM64 52h1v1h-1zM81 52h1v1h-1zM41 53h1v1h-1zM52 53h1v1h-1zM69 53h1v1h-1zM49 54h1v1h-1zM52 54h1v1h-1zM56 54h1v1h-1zM39 55h1v1h-1zM47 55h1v1h-1zM54 55h3v1h-3zM38 56h1v1h-1zM41 56h1v1h-1zM53 56h1v1h-1zM92 56h1v1h-1zM30 57h1v1h-1zM33 57h1v1h-1zM37 57h1v1h-1zM43 57h2v1h-2zM34 58h1v1h-1zM39 58h1v1h-1zM45 58h1v1h-1zM49 58h1v1h-1zM97 58h2v1h-2zM28 59h1v1h-1zM34 59h2v1h-2zM37 59h1v1h-1zM42 59h1v1h-1zM52 59h1v1h-1zM73 59h1v1h-1zM34 60h1v1h-1zM40 60h1v1h-1zM85 60h1v1h-1zM20 61h1v1h-1zM22 61h1v1h-1zM29 61h1v1h-1zM31 61h2v1h-2zM34 61h1v1h-1zM91 61h2v1h-2zM20 62h1v1h-1zM25 62h1v1h-1zM31 62h1v1h-1zM39 62h2v1h-2zM46 62h1v1h-1zM17 63h1v1h-1zM21 63h1v1h-1zM26 63h1v1h-1zM28 63h1v1h-1zM16 64h1v1h-1zM22 64h1v1h-1zM38 64h1v1h-1zM44 64h1v1h-1zM92 64h1v1h-1zM97 64h1v1h-1zM99 64h1v1h-1zM10 65h1v1h-1zM27 65h1v1h-1zM37 65h1v1h-1zM79 65h1v1h-1zM90 65h1v1h-1zM96 65h1v1h-1zM9 66h1v1h-1zM13 66h1v1h-1zM19 66h3v1h-3zM24 66h2v1h-2zM40 66h1v1h-1zM88 66h1v1h-1zM90 66h2v1h-2zM94 66h1v1h-1zM99 66h1v1h-1zM3 67h1v1h-1zM6 67h1v1h-1zM77 67h1v1h-1zM79 67h1v1h-1zM84 67h1v1h-1zM86 67h1v1h-1zM88 67h1v1h-1zM92 67h1v1h-1zM94 67h1v1h-1zM5 68h1v1h-1zM8 68h1v1h-1zM13 68h2v1h-2zM17 68h1v1h-1zM23 68h2v1h-2zM75 68h1v1h-1zM82 68h1v1h-1zM84 68h1v1h-1zM98 68h2v1h-2zM10 69h1v1h-1zM12 69h1v1h-1zM14 69h1v1h-1zM19 69h1v1h-1zM76 69h1v1h-1zM80 69h2v1h-2zM83 69h2v1h-2zM86 69h2v1h-2zM91 69h1v1h-1zM32 70h1v1h-1zM52 70h1v1h-1zM62 70h1v1h-1zM79 70h1v1h-1zM84 70h1v1h-1zM86 70h1v1h-1zM96 70h1v1h-1zM98 70h1v1h-1zM57 71h1v1h-1zM73 71h2v1h-2zM78 71h2v1h-2zM81 71h1v1h-1zM89 71h1v1h-1zM24 72h1v1h-1zM72 72h2v1h-2zM75 72h1v1h-1zM79 72h4v1h-4zM84 72h1v1h-1zM87 72h1v1h-1zM89 72h1v1h-1zM31 73h1v1h-1zM64 73h1v1h-1zM72 73h2v1h-2zM77 73h1v1h-1zM96 73h1v1h-1zM60 74h1v1h-1zM65 74h1v1h-1zM70 74h1v1h-1zM74 74h1v1h-1zM76 74h1v1h-1zM51 75h1v1h-1zM54 75h1v1h-1zM57 75h1v1h-1zM71 75h1v1h-1zM55 76h1v1h-1zM57 76h1v1h-1zM61 76h1v1h-1zM46 77h1v1h-1zM48 77h1v1h-1zM52 77h1v1h-1zM68 77h1v1h-1zM46 78h1v1h-1zM52 78h2v1h-2zM48 79h1v1h-1zM50 79h1v1h-1zM54 79h1v1h-1zM56 79h1v1h-1zM35 80h2v1h-2zM39 80h1v1h-1zM44 80h1v1h-1zM52 80h1v1h-1zM54 80h1v1h-1zM99 80h1v1h-1zM37 81h1v1h-1zM99 81h1v1h-1zM21 82h1v1h-1zM33 82h1v1h-1zM39 82h1v1h-1zM51 82h1v1h-1zM30 83h1v1h-1zM35 83h1v1h-1zM37 83h1v1h-1zM41 83h1v1h-1zM27 84h1v1h-1zM42 84h1v1h-1zM30 85h1v1h-1zM33 85h1v1h-1zM99 85h1v1h-1zM30 86h1v1h-1zM32 86h1v1h-1zM28 87h1v1h-1zM24 88h1v1h-1zM99 88h1v1h-1zM20 89h1v1h-1zM25 89h1v1h-1zM15 90h1v1h-1zM19 90h1v1h-1zM15 91h2v1h-2zM18 91h1v1h-1zM15 92h1v1h-1zM18 93h1v1h-1zM10 94h1v1h-1zM11 95h1v1h-1zM10 96h1v1h-1zM7 97h1v1h-1zM5 98h1v1h-1zM8 98h1v1h-1z"/>
<path fill="#2e6d8e" d="M99 29h1v1h-1zM89 32h1v1h-1zM89 33h1v1h-1zM95 33h1v1h-1zM93 34h1v1h-1zM96 34h1v1h-1zM98 34h1v1h-1zM80 35h1v1h-1zM91 35h2v1h-2zM94 35h1v1h-1zM90 36h1v1h-1zM94 36h1v1h-1zM81 37h1v1h-1zM89 37h1v1h-1zM92 37h1v1h-1zM99 37h1v1h-1zM79 38h1v1h-1zM81 38h3v1h-3zM91 38h1v1h-1zM97 38h1v1h-1zM76 39h1v1h-1zM79 39h1v1h-1zM81 39h2v1h-2zM94 39h1v1h-1zM98 39h1v1h-1zM79 40h1v1h-1zM83 40h1v1h-1zM89 40h1v1h-1zM94 40h1v1h-1zM75 41h1v1h-1zM82 41h1v1h-1zM85 41h1v1h-1zM88 41h1v1h-1zM68 42h1v1h-1zM71 42h1v1h-1zM76 42h1v1h-1zM94 42h1v1h-1zM69 43h1v1h-1zM76 43h2v1h-2zM82 43h1v1h-1zM85 43h1v1h-1zM90 43h1v1h-1zM67 44h1v1h-1zM70 44h1v1h-1zM73 44h3v1h-3zM77 44h2v1h-2zM84 44h2v1h-2zM70 45h1v1h-1zM75 45h1v1h-1zM78 45h1v1h-1zM81 45h1v1h-1zM83 45h2v1h-2zM89 45h2v1h-2zM67 46h1v1h-1zM74 46h1v1h-1zM76 46h1v1h-1zM78 46h1v1h-1zM63 47h1v1h-1zM67 47h1v1h-1zM70 47h1v1h-1zM76 47h1v1h-1zM78 47h1v1h-1zM91 47h1v1h-1zM54 48h1v1h-1zM61 48h1v1h-1zM78 48h1v1h-1zM51 49h1v1h-1zM57 49h1v1h-1zM59 49h1v1h-1zM62 49h1v1h-1zM69 49h1v1h-1zM73 49h1v1h-1zM63 50h3v1h-3zM72 50h1v1h-1zM75 50h1v1h-1zM81 50h2v1h-2zM57 51h1v1h-1zM62 51h1v1h-1zM66 51h1v1h-1zM62 52h1v1h-1zM67 52h1v1h-1zM71 52h1v1h-1zM73 52h1v1h-1zM93 52h1v1h-1zM47 53h1v1h-1zM54 53h1v1h-1zM56 53h1v1h-1zM50 54h1v1h-1zM57 54h1v1h-1zM61 54h2v1h-2zM80 54h1v1h-1zM99 54h1v1h-1zM44 55h1v1h-1zM48 55h1v1h-1zM64 55h1v1h-1zM73 55h1v1h-1zM92 55h1v1h-1zM99 55h1v1h-1zM45 56h1v1h-1zM49 56h1v1h-1zM59 56h2v1h-2zM66 56h1v1h-1zM42 57h1v1h-1zM68 57h1v1h-1zM90 57h1v1h-1zM40 58h1v1h-1zM42 58h1v1h-1zM47 58h1v1h-1zM55 58h1v1h-1zM43 59h1v1h-1zM55 59h1v1h-1zM89 59h1v1h-1zM97 59h1v1h-1zM36 60h1v1h-1zM39 60h1v1h-1zM43 60h1v1h-1zM46 60h1v1h-1zM48 60h1v1h-1zM86 60h2v1h-2zM96 60h1v1h-1zM30 61h1v1h-1zM37 61h1v1h-1zM43 61h1v1h-1zM47 61h1v1h-1zM58 61h1v1h-1zM71 61h1v1h-1zM96 61h1v1h-1zM21 62h1v1h-1zM27 62h1v1h-1zM33 62h1v1h-1zM37 62h1v1h-1zM45 62h1v1h-1zM76 62h1v1h-1zM85 62h1v1h-1zM87 62h1v1h-1zM92 62h1v1h-1zM95 62h1v1h-1zM32 63h1v1h-1zM47 63h1v1h-1zM56 63h1v1h-1zM75 63h2v1h-2zM79 63h1v1h-1zM87 63h1v1h-1zM93 63h1v1h-1zM19 64h1v1h-1zM28 64h1v1h-1zM30 64h2v1h-2zM42 64h1v1h-1zM16 65h1v1h-1zM18 65h1v1h-1zM24 65h1v1h-1zM39 65h2v1h-2zM46 65h1v1h-1zM69 65h1v1h-1zM75 65h1v1h-1zM80 65h1v1h-1zM89 65h1v1h-1zM14 66h1v1h-1zM28 66h1v1h-1zM53 66h2v1h-2zM75 66h1v1h-1zM80 66h1v1h-1zM93 66h1v1h-1zM96 66h1v1h-1zM4 67h1v1h-1zM10 67h1v1h-1zM12 67h2v1h-2zM18 67h1v1h-1zM24 67h1v1h-1zM30 67h2v1h-2zM57 67h1v1h-1zM72 67h1v1h-1zM87 67h1v1h-1zM93 67h1v1h-1zM97 67h2v1h-2zM1 68h1v1h-1zM6 68h1v1h-1zM26 68h1v1h-1zM56 68h1v1h-1zM62 68h1v1h-1zM69 68h1v1h-1zM72 68h1v1h-1zM85 68h1v1h-1zM3 69h1v1h-1zM5 69h2v1h-2zM8 69h1v1h-1zM11 69h1v1h-1zM15 69h1v1h-1zM20 69h1v1h-1zM27 69h1v1h-1zM29 69h1v1h-1zM67 69h1v1h-1zM69 69h1v1h-1zM75 69h1v1h-1zM78 69h1v1h-1zM82 69h1v1h-1zM1 70h1v1h-1zM3 70h1v1h-1zM8 70h1v1h-1zM11 70h1v1h-1zM14 70h1v1h-1zM23 70h1v1h-1zM61 70h1v1h-1zM64 70h2v1h-2zM69 70h1v1h-1zM72 70h1v1h-1zM76 70h1v1h-1zM85 70h1v1h-1zM89 70h1v1h-1zM92 70h1v1h-1zM6 71h2v1h-2zM12 71h1v1h-1zM51 71h1v1h-1zM77 71h1v1h-1zM82 71h1v1h-1zM93 71h1v1h-1zM5 72h1v1h-1zM9 72h1v1h-1zM16 72h2v1h-2zM55 72h1v1h-1zM59 72h1v1h-1zM63 72h1v1h-1zM65 72h1v1h-1zM49 73h1v1h-1zM55 73h1v1h-1zM62 73h1v1h-1zM65 73h1v1h-1zM79 73h1v1h-1zM44 74h1v1h-1zM54 74h3v1h-3zM58 74h1v1h-1zM64 74h1v1h-1zM67 74h1v1h-1zM55 75h1v1h-1zM68 75h1v1h-1zM99 75h1v1h-1zM43 76h1v1h-1zM47 76h1v1h-1zM51 76h1v1h-1zM56 76h1v1h-1zM66 76h1v1h-1zM68 76h1v1h-1zM35 77h1v1h-1zM41 77h2v1h-2zM49 77h2v1h-2zM56 77h1v1h-1zM67 77h1v1h-1zM26 78h1v1h-1zM99 78h1v1h-1zM30 79h1v1h-1zM38 79h1v1h-1zM43 79h1v1h-1zM41 80h1v1h-1zM43 80h1v1h-1zM30 81h1v1h-1zM38 81h2v1h-2zM43 81h1v1h-1zM45 81h1v1h-1zM50 81h1v1h-1zM34 82h1v1h-1zM40 82h1v1h-1zM45 82h2v1h-2zM36 83h1v1h-1zM24 84h1v1h-1zM29 84h4v1h-4zM34 84h4v1h-4zM34 85h1v1h-1zM25 86h1v1h-1zM31 86h1v1h-1zM22 87h1v1h-1zM22 89h2v1h-2zM14 93h1v1h-1zM16 94h1v1h-1zM8 96h1v1h-1zM11 96h1v1h-1zM9 97h2v1h-2zM7 98h1v1h-1zM6 99h1v1h-1z"/>
<path fill="#2b738e" d="M93 28h1v1h-1zM89 34h1v1h-1zM94 34h1v1h-1zM97 35h1v1h-1zM95 36h1v1h-1zM97 36h1v1h-1zM84 37h1v1h-1zM93 37h1v1h-1zM95 37h1v1h-1zM84 38h1v1h-1zM94 38h2v1h-2zM98 38h2v1h-2zM92 39h2v1h-2zM97 39h1v1h-1zM77 40h1v1h-1zM85 40h1v1h-1zM88 40h1v1h-1zM92 40h2v1h-2zM86 41h1v1h-1zM75 42h1v1h-1zM82 42h3v1h-3zM87 42h1v1h-1zM93 42h1v1h-1zM96 42h1v1h-1zM97 43h1v1h-1zM71 44h1v1h-1zM76 44h1v1h-1zM89 44h1v1h-1zM86 45h1v1h-1zM72 46h1v1h-1zM81 46h1v1h-1zM83 46h1v1h-1zM92 46h1v1h-1zM61 47h1v1h-1zM64 47h1v1h-1zM69 47h1v1h-1zM77 47h1v1h-1zM93 47h1v1h-1zM58 48h1v1h-1zM84 48h1v1h-1zM60 49h1v1h-1zM64 49h1v1h-1zM79 49h1v1h-1zM86 49h1v1h-1zM90 49h1v1h-1zM94 49h1v1h-1zM55 50h1v1h-1zM57 50h1v1h-1zM70 50h1v1h-1zM88 50h1v1h-1zM55 51h1v1h-1zM61 51h1v1h-1zM74 51h1v1h-1zM77 51h1v1h-1zM87 51h1v1h-1zM89 51h1v1h-1zM96 51h1v1h-1zM55 52h1v1h-1zM59 52h2v1h-2zM66 52h1v1h-1zM70 52h1v1h-1zM72 52h1v1h-1zM80 52h1v1h-1zM87 52h1v1h-1zM95 52h1v1h-1zM49 53h1v1h-1zM57 53h1v1h-1zM60 53h1v1h-1zM70 53h1v1h-1zM51 54h1v1h-1zM71 54h1v1h-1zM53 55h1v1h-1zM71 55h1v1h-1zM74 55h1v1h-1zM40 56h1v1h-1zM43 56h1v1h-1zM57 56h2v1h-2zM77 56h1v1h-1zM91 56h1v1h-1zM39 57h1v1h-1zM47 57h1v1h-1zM51 57h1v1h-1zM56 57h1v1h-1zM59 57h1v1h-1zM69 57h1v1h-1zM92 57h1v1h-1zM36 58h1v1h-1zM38 58h1v1h-1zM50 58h1v1h-1zM84 58h1v1h-1zM99 58h1v1h-1zM41 59h1v1h-1zM45 59h1v1h-1zM58 59h1v1h-1zM70 59h1v1h-1zM82 59h1v1h-1zM84 59h1v1h-1zM98 59h1v1h-1zM35 60h1v1h-1zM45 60h1v1h-1zM75 60h1v1h-1zM92 60h1v1h-1zM94 60h1v1h-1zM97 60h1v1h-1zM40 61h1v1h-1zM42 61h1v1h-1zM44 61h1v1h-1zM48 61h1v1h-1zM51 61h2v1h-2zM64 61h1v1h-1zM76 61h1v1h-1zM79 61h1v1h-1zM85 61h1v1h-1zM87 61h1v1h-1zM29 62h1v1h-1zM32 62h1v1h-1zM38 62h1v1h-1zM41 62h1v1h-1zM44 62h1v1h-1zM90 62h1v1h-1zM97 62h3v1h-3zM29 63h3v1h-3zM70 63h1v1h-1zM80 63h1v1h-1zM84 63h2v1h-2zM95 63h1v1h-1zM33 64h1v1h-1zM36 64h1v1h-1zM59 64h1v1h-1zM64 64h2v1h-2zM77 64h1v1h-1zM93 64h1v1h-1zM96 64h1v1h-1zM98 64h1v1h-1zM28 65h1v1h-1zM38 65h1v1h-1zM45 65h1v1h-1zM78 65h1v1h-1zM91 65h1v1h-1zM93 65h1v1h-1zM95 65h1v1h-1zM5 66h1v1h-1zM15 66h1v1h-1zM18 66h1v1h-1zM27 66h1v1h-1zM29 66h2v1h-2zM33 66h1v1h-1zM58 66h1v1h-1zM64 66h1v1h-1zM66 66h1v1h-1zM70 66h1v1h-1zM81 66h2v1h-2zM84 66h1v1h-1zM86 66h1v1h-1zM92 66h1v1h-1zM0 67h1v1h-1zM14 67h1v1h-1zM32 67h1v1h-1zM38 67h1v1h-1zM40 67h1v1h-1zM66 67h1v1h-1zM68 67h1v1h-1zM71 67h1v1h-1zM90 67h1v1h-1zM99 67h1v1h-1zM3 68h1v1h-1zM10 68h1v1h-1zM16 68h1v1h-1zM19 68h1v1h-1zM21 68h1v1h-1zM25 68h1v1h-1zM33 68h1v1h-1zM35 68h1v1h-1zM42 68h1v1h-1zM53 68h1v1h-1zM58 68h1v1h-1zM61 68h1v1h-1zM63 68h1v1h-1zM71 68h1v1h-1zM77 68h1v1h-1zM79 68h1v1h-1zM81 68h1v1h-1zM83 68h1v1h-1zM91 68h1v1h-1zM94 68h1v1h-1zM4 69h1v1h-1zM7 69h1v1h-1zM9 69h1v1h-1zM16 69h1v1h-1zM18 69h1v1h-1zM24 69h1v1h-1zM48 69h1v1h-1zM64 69h2v1h-2zM70 69h1v1h-1zM73 69h1v1h-1zM7 70h1v1h-1zM9 70h1v1h-1zM15 70h1v1h-1zM19 70h1v1h-1zM27 70h1v1h-1zM33 70h1v1h-1zM57 70h1v1h-1zM71 70h1v1h-1zM73 70h1v1h-1zM78 70h1v1h-1zM80 70h1v1h-1zM0 71h2v1h-2zM3 71h1v1h-1zM21 71h2v1h-2zM29 71h1v1h-1zM58 71h1v1h-1zM61 71h1v1h-1zM65 71h2v1h-2zM70 71h1v1h-1zM72 71h1v1h-1zM28 72h1v1h-1zM67 72h1v1h-1zM76 72h1v1h-1zM78 72h1v1h-1zM83 72h1v1h-1zM0 73h1v1h-1zM18 73h1v1h-1zM46 73h1v1h-1zM53 73h2v1h-2zM57 73h3v1h-3zM61 73h1v1h-1zM63 73h1v1h-1zM66 73h2v1h-2zM69 73h1v1h-1zM19 74h1v1h-1zM34 74h1v1h-1zM43 74h1v1h-1zM45 74h1v1h-1zM57 74h1v1h-1zM69 74h1v1h-1zM13 75h1v1h-1zM40 75h1v1h-1zM43 75h1v1h-1zM59 75h1v1h-1zM41 76h2v1h-2zM50 76h1v1h-1zM53 76h1v1h-1zM45 77h1v1h-1zM51 77h1v1h-1zM99 77h1v1h-1zM35 78h1v1h-1zM47 78h1v1h-1zM49 78h1v1h-1zM39 79h1v1h-1zM44 79h2v1h-2zM49 79h1v1h-1zM36 81h1v1h-1zM40 81h3v1h-3zM25 82h1v1h-1zM28 82h1v1h-1zM38 82h1v1h-1zM99 82h1v1h-1zM29 83h1v1h-1zM34 83h1v1h-1zM28 84h1v1h-1zM33 84h1v1h-1zM99 84h1v1h-1zM29 85h1v1h-1zM23 86h1v1h-1zM26 86h1v1h-1zM29 86h1v1h-1zM18 87h1v1h-1zM27 87h1v1h-1zM17 88h1v1h-1zM20 88h1v1h-1zM16 89h2v1h-2zM19 89h1v1h-1zM20 90h1v1h-1zM14 92h1v1h-1zM12 93h1v1h-1zM9 94h1v1h-1zM12 94h1v1h-1zM8 95h1v1h-1zM10 95h1v1h-1zM7 96h1v1h-1z"/>
<path fill="#297a8e" d="M97 32h1v1h-1zM98 33h1v1h-1zM92 36h1v1h-1zM96 36h1v1h-1zM86 38h1v1h-1zM89 39h1v1h-1zM95 40h1v1h-1zM97 40h1v1h-1zM99 40h1v1h-1zM72 41h1v1h-1zM84 41h1v1h-1zM89 41h1v1h-1zM93 41h1v1h-1zM97 41h2v1h-2zM85 42h2v1h-2zM89 42h1v1h-1zM98 42h1v1h-1zM87 43h2v1h-2zM96 43h1v1h-1zM83 44h1v1h-1zM87 44h2v1h-2zM94 44h1v1h-1zM76 45h1v1h-1zM87 45h1v1h-1zM91 45h1v1h-1zM94 45h3v1h-3zM73 46h1v1h-1zM80 46h1v1h-1zM98 46h2v1h-2zM73 47h1v1h-1zM83 47h1v1h-1zM95 47h1v1h-1zM65 48h1v1h-1zM71 48h1v1h-1zM74 48h1v1h-1zM77 48h1v1h-1zM80 48h1v1h-1zM89 48h1v1h-1zM93 48h2v1h-2zM66 49h1v1h-1zM78 49h1v1h-1zM83 49h1v1h-1zM56 50h1v1h-1zM62 50h1v1h-1zM77 50h3v1h-3zM89 50h1v1h-1zM92 50h1v1h-1zM94 50h1v1h-1zM67 51h1v1h-1zM71 51h1v1h-1zM76 51h1v1h-1zM79 51h1v1h-1zM81 51h2v1h-2zM98 51h1v1h-1zM51 52h1v1h-1zM63 52h1v1h-1zM68 52h1v1h-1zM83 52h1v1h-1zM88 52h1v1h-1zM96 52h1v1h-1zM98 52h1v1h-1zM51 53h1v1h-1zM55 53h1v1h-1zM58 53h1v1h-1zM63 53h1v1h-1zM66 53h1v1h-1zM71 53h1v1h-1zM73 53h1v1h-1zM86 53h1v1h-1zM89 53h1v1h-1zM92 53h1v1h-1zM94 53h1v1h-1zM65 54h4v1h-4zM73 54h1v1h-1zM77 54h1v1h-1zM83 54h1v1h-1zM49 55h1v1h-1zM52 55h1v1h-1zM58 55h1v1h-1zM61 55h2v1h-2zM65 55h3v1h-3zM69 55h1v1h-1zM72 55h1v1h-1zM90 55h1v1h-1zM47 56h1v1h-1zM51 56h2v1h-2zM54 56h1v1h-1zM65 56h1v1h-1zM70 56h2v1h-2zM73 56h1v1h-1zM81 56h1v1h-1zM93 56h1v1h-1zM46 57h1v1h-1zM48 57h3v1h-3zM52 57h2v1h-2zM57 57h1v1h-1zM73 57h1v1h-1zM95 57h1v1h-1zM97 57h1v1h-1zM99 57h1v1h-1zM35 58h1v1h-1zM46 58h1v1h-1zM48 58h1v1h-1zM58 58h2v1h-2zM66 58h1v1h-1zM72 58h1v1h-1zM85 58h1v1h-1zM91 58h1v1h-1zM44 59h1v1h-1zM47 59h1v1h-1zM49 59h1v1h-1zM60 59h3v1h-3zM75 59h1v1h-1zM94 59h2v1h-2zM47 60h1v1h-1zM60 60h1v1h-1zM69 60h1v1h-1zM79 60h1v1h-1zM83 60h1v1h-1zM89 60h1v1h-1zM98 60h1v1h-1zM33 61h1v1h-1zM38 61h2v1h-2zM55 61h1v1h-1zM74 61h1v1h-1zM81 61h1v1h-1zM89 61h1v1h-1zM94 61h1v1h-1zM97 61h2v1h-2zM36 62h1v1h-1zM43 62h1v1h-1zM49 62h1v1h-1zM53 62h1v1h-1zM65 62h1v1h-1zM69 62h1v1h-1zM71 62h2v1h-2zM77 62h1v1h-1zM86 62h1v1h-1zM88 62h1v1h-1zM34 63h1v1h-1zM38 63h1v1h-1zM40 63h1v1h-1zM42 63h1v1h-1zM45 63h1v1h-1zM48 63h1v1h-1zM51 63h1v1h-1zM71 63h2v1h-2zM89 63h2v1h-2zM92 63h1v1h-1zM96 63h1v1h-1zM21 64h1v1h-1zM26 64h2v1h-2zM32 64h1v1h-1zM34 64h1v1h-1zM53 64h1v1h-1zM78 64h2v1h-2zM83 64h1v1h-1zM91 64h1v1h-1zM94 64h2v1h-2zM23 65h1v1h-1zM25 65h1v1h-1zM29 65h1v1h-1zM32 65h3v1h-3zM36 65h1v1h-1zM43 65h2v1h-2zM50 65h1v1h-1zM52 65h1v1h-1zM62 65h1v1h-1zM64 65h2v1h-2zM70 65h1v1h-1zM72 65h1v1h-1zM76 65h1v1h-1zM81 65h2v1h-2zM23 66h1v1h-1zM26 66h1v1h-1zM34 66h1v1h-1zM36 66h1v1h-1zM49 66h2v1h-2zM60 66h1v1h-1zM72 66h3v1h-3zM77 66h1v1h-1zM85 66h1v1h-1zM95 66h1v1h-1zM19 67h1v1h-1zM23 67h1v1h-1zM25 67h1v1h-1zM28 67h1v1h-1zM35 67h1v1h-1zM56 67h1v1h-1zM60 67h2v1h-2zM64 67h1v1h-1zM69 67h1v1h-1zM76 67h1v1h-1zM78 67h1v1h-1zM80 67h2v1h-2zM85 67h1v1h-1zM18 68h1v1h-1zM20 68h1v1h-1zM22 68h1v1h-1zM32 68h1v1h-1zM60 68h1v1h-1zM65 68h1v1h-1zM68 68h1v1h-1zM74 68h1v1h-1zM78 68h1v1h-1zM86 68h1v1h-1zM93 68h1v1h-1zM0 69h2v1h-2zM21 69h1v1h-1zM25 69h1v1h-1zM30 69h1v1h-1zM42 69h1v1h-1zM59 69h1v1h-1zM63 69h1v1h-1zM74 69h1v1h-1zM77 69h1v1h-1zM88 69h1v1h-1zM92 69h1v1h-1zM0 70h1v1h-1zM4 70h1v1h-1zM12 70h1v1h-1zM17 70h2v1h-2zM20 70h1v1h-1zM30 70h1v1h-1zM49 70h1v1h-1zM56 70h1v1h-1zM66 70h1v1h-1zM77 70h1v1h-1zM5 71h1v1h-1zM8 71h1v1h-1zM11 71h1v1h-1zM14 71h3v1h-3zM19 71h1v1h-1zM27 71h1v1h-1zM33 71h1v1h-1zM45 71h1v1h-1zM53 71h1v1h-1zM59 71h1v1h-1zM62 71h2v1h-2zM12 72h1v1h-1zM26 72h1v1h-1zM50 72h1v1h-1zM54 72h1v1h-1zM57 72h1v1h-1zM60 72h1v1h-1zM62 72h1v1h-1zM66 72h1v1h-1zM74 72h1v1h-1zM11 73h1v1h-1zM14 73h1v1h-1zM28 73h1v1h-1zM33 73h1v1h-1zM35 73h1v1h-1zM40 73h1v1h-1zM48 73h1v1h-1zM51 73h1v1h-1zM47 74h1v1h-1zM12 75h1v1h-1zM26 75h2v1h-2zM37 75h1v1h-1zM41 75h1v1h-1zM46 75h2v1h-2zM50 75h1v1h-1zM6 76h1v1h-1zM8 76h1v1h-1zM33 76h1v1h-1zM37 76h1v1h-1zM54 76h1v1h-1zM99 76h1v1h-1zM29 77h1v1h-1zM33 77h1v1h-1zM43 77h2v1h-2zM42 78h2v1h-2zM45 78h1v1h-1zM31 79h1v1h-1zM34 79h1v1h-1zM41 79h1v1h-1zM47 79h1v1h-1zM34 80h1v1h-1zM22 81h1v1h-1zM34 81h2v1h-2zM18 82h1v1h-1zM26 82h1v1h-1zM29 82h2v1h-2zM20 83h1v1h-1zM22 84h1v1h-1zM24 85h1v1h-1zM27 85h2v1h-2zM18 86h1v1h-1zM15 87h1v1h-1zM19 87h3v1h-3zM23 87h1v1h-1zM21 88h2v1h-2zM21 89h1v1h-1zM14 90h1v1h-1zM10 91h1v1h-1zM12 92h1v1h-1zM9 96h1v1h-1z"/>
<path fill="#27808e" d="M97 33h1v1h-1zM95 35h1v1h-1zM98 37h1v1h-1zM96 39h1v1h-1zM98 40h1v1h-1zM91 41h2v1h-2zM94 41h1v1h-1zM91 42h1v1h-1zM97 42h1v1h-1zM99 42h1v1h-1zM83 43h1v1h-1zM89 43h1v1h-1zM94 43h1v1h-1zM79 44h1v1h-1zM96 44h1v1h-1zM99 44h1v1h-1zM79 45h2v1h-2zM99 45h1v1h-1zM84 46h3v1h-3zM94 46h1v1h-1zM80 47h1v1h-1zM82 47h1v1h-1zM90 47h1v1h-1zM98 47h1v1h-1zM85 48h1v1h-1zM87 48h1v1h-1zM95 48h1v1h-1zM99 48h1v1h-1zM72 49h1v1h-1zM76 49h1v1h-1zM87 49h1v1h-1zM95 49h3v1h-3zM99 49h1v1h-1zM59 50h1v1h-1zM66 50h1v1h-1zM69 50h1v1h-1zM71 50h1v1h-1zM80 50h1v1h-1zM84 50h1v1h-1zM93 50h1v1h-1zM98 50h1v1h-1zM65 51h1v1h-1zM69 51h1v1h-1zM75 51h1v1h-1zM84 51h1v1h-1zM86 51h1v1h-1zM93 51h1v1h-1zM97 51h1v1h-1zM61 52h1v1h-1zM74 52h1v1h-1zM76 52h1v1h-1zM79 52h1v1h-1zM84 52h1v1h-1zM92 52h1v1h-1zM50 53h1v1h-1zM53 53h1v1h-1zM65 53h1v1h-1zM68 53h1v1h-1zM72 53h1v1h-1zM74 53h1v1h-1zM84 53h1v1h-1zM98 53h1v1h-1zM59 54h1v1h-1zM69 54h1v1h-1zM72 54h1v1h-1zM75 54h1v1h-1zM82 54h1v1h-1zM85 54h1v1h-1zM87 54h1v1h-1zM51 55h1v1h-1zM57 55h1v1h-1zM68 55h1v1h-1zM80 55h1v1h-1zM84 55h1v1h-1zM93 55h1v1h-1zM95 55h4v1h-4zM46 56h1v1h-1zM55 56h2v1h-2zM61 56h2v1h-2zM76 56h1v1h-1zM80 56h1v1h-1zM84 56h1v1h-1zM89 56h2v1h-2zM99 56h1v1h-1zM45 57h1v1h-1zM54 57h2v1h-2zM58 57h1v1h-1zM60 57h1v1h-1zM62 57h4v1h-4zM67 57h1v1h-1zM72 57h1v1h-1zM75 57h2v1h-2zM78 57h1v1h-1zM80 57h1v1h-1zM86 57h2v1h-2zM91 57h1v1h-1zM44 58h1v1h-1zM51 58h2v1h-2zM56 58h1v1h-1zM60 58h1v1h-1zM68 58h1v1h-1zM86 58h1v1h-1zM89 58h1v1h-1zM95 58h1v1h-1zM46 59h1v1h-1zM54 59h1v1h-1zM56 59h1v1h-1zM72 59h1v1h-1zM78 59h1v1h-1zM81 59h1v1h-1zM83 59h1v1h-1zM85 59h1v1h-1zM37 60h1v1h-1zM41 60h1v1h-1zM44 60h1v1h-1zM55 60h1v1h-1zM72 60h1v1h-1zM81 60h2v1h-2zM84 60h1v1h-1zM41 61h1v1h-1zM45 61h1v1h-1zM49 61h1v1h-1zM67 61h1v1h-1zM73 61h1v1h-1zM75 61h1v1h-1zM83 61h1v1h-1zM88 61h1v1h-1zM35 62h1v1h-1zM42 62h1v1h-1zM52 62h1v1h-1zM58 62h3v1h-3zM67 62h1v1h-1zM70 62h1v1h-1zM73 62h1v1h-1zM75 62h1v1h-1zM80 62h1v1h-1zM83 62h1v1h-1zM96 62h1v1h-1zM39 63h1v1h-1zM46 63h1v1h-1zM49 63h1v1h-1zM54 63h1v1h-1zM78 63h1v1h-1zM81 63h1v1h-1zM97 63h1v1h-1zM99 63h1v1h-1zM46 64h1v1h-1zM52 64h1v1h-1zM66 64h1v1h-1zM69 64h1v1h-1zM71 64h1v1h-1zM73 64h2v1h-2zM88 64h1v1h-1zM30 65h1v1h-1zM35 65h1v1h-1zM41 65h1v1h-1zM48 65h1v1h-1zM54 65h1v1h-1zM56 65h1v1h-1zM66 65h1v1h-1zM73 65h1v1h-1zM86 65h2v1h-2zM92 65h1v1h-1zM94 65h1v1h-1zM98 65h1v1h-1zM17 66h1v1h-1zM46 66h1v1h-1zM59 66h1v1h-1zM68 66h1v1h-1zM76 66h1v1h-1zM78 66h1v1h-1zM83 66h1v1h-1zM21 67h2v1h-2zM27 67h1v1h-1zM29 67h1v1h-1zM33 67h1v1h-1zM41 67h1v1h-1zM43 67h1v1h-1zM52 67h1v1h-1zM58 67h1v1h-1zM70 67h1v1h-1zM83 67h1v1h-1zM41 68h1v1h-1zM47 68h2v1h-2zM54 68h1v1h-1zM67 68h1v1h-1zM70 68h1v1h-1zM80 68h1v1h-1zM23 69h1v1h-1zM32 69h1v1h-1zM38 69h1v1h-1zM49 69h1v1h-1zM52 69h1v1h-1zM55 69h1v1h-1zM60 69h2v1h-2zM72 69h1v1h-1zM79 69h1v1h-1zM6 70h1v1h-1zM10 70h1v1h-1zM13 70h1v1h-1zM16 70h1v1h-1zM24 70h3v1h-3zM28 70h1v1h-1zM37 70h1v1h-1zM47 70h1v1h-1zM60 70h1v1h-1zM63 70h1v1h-1zM67 70h1v1h-1zM70 70h1v1h-1zM18 71h1v1h-1zM20 71h1v1h-1zM23 71h1v1h-1zM34 71h2v1h-2zM55 71h1v1h-1zM60 71h1v1h-1zM64 71h1v1h-1zM0 72h1v1h-1zM4 72h1v1h-1zM10 72h1v1h-1zM20 72h1v1h-1zM22 72h1v1h-1zM27 72h1v1h-1zM29 72h1v1h-1zM48 72h1v1h-1zM53 72h1v1h-1zM3 73h2v1h-2zM15 73h1v1h-1zM19 73h1v1h-1zM24 73h1v1h-1zM37 73h1v1h-1zM39 73h1v1h-1zM41 73h1v1h-1zM47 73h1v1h-1zM52 73h1v1h-1zM25 74h1v1h-1zM27 74h1v1h-1zM35 74h1v1h-1zM38 74h1v1h-1zM42 74h1v1h-1zM50 74h4v1h-4zM61 74h1v1h-1zM7 75h1v1h-1zM19 75h1v1h-1zM48 75h2v1h-2zM20 76h1v1h-1zM27 76h1v1h-1zM29 76h1v1h-1zM45 76h2v1h-2zM52 76h1v1h-1zM31 77h1v1h-1zM38 77h1v1h-1zM47 77h1v1h-1zM54 77h1v1h-1zM30 78h1v1h-1zM41 78h1v1h-1zM51 78h1v1h-1zM15 79h1v1h-1zM26 79h1v1h-1zM32 79h1v1h-1zM36 79h1v1h-1zM40 79h1v1h-1zM99 79h1v1h-1zM17 80h1v1h-1zM20 80h1v1h-1zM23 80h1v1h-1zM32 80h1v1h-1zM37 80h1v1h-1zM17 81h1v1h-1zM33 81h1v1h-1zM17 82h1v1h-1zM32 82h1v1h-1zM23 83h2v1h-2zM28 83h1v1h-1zM15 84h2v1h-2zM19 84h1v1h-1zM25 84h1v1h-1zM14 85h1v1h-1zM18 85h1v1h-1zM20 85h1v1h-1zM22 85h1v1h-1zM16 86h1v1h-1zM14 87h1v1h-1zM13 88h1v1h-1zM18 89h1v1h-1zM10 90h1v1h-1zM13 90h1v1h-1zM14 91h1v1h-1zM11 93h1v1h-1zM8 94h1v1h-1zM11 94h1v1h-1zM7 95h1v1h-1zM6 96h1v1h-1zM6 97h1v1h-1zM6 98h1v1h-1z"/>
<path fill="#24868d" d="M94 37h1v1h-1zM99 41h1v1h-1zM90 42h1v1h-1zM92 42h1v1h-1zM95 42h1v1h-1zM86 43h1v1h-1zM95 43h1v1h-1zM98 43h2v1h-2zM80 44h1v1h-1zM90 44h1v1h-1zM95 44h1v1h-1zM98 44h1v1h-1zM82 45h1v1h-1zM82 46h1v1h-1zM88 46h2v1h-2zM75 47h1v1h-1zM85 47h5v1h-5zM99 47h1v1h-1zM66 48h1v1h-1zM72 48h1v1h-1zM86 48h1v1h-1zM97 48h2v1h-2zM68 49h1v1h-1zM75 49h1v1h-1zM81 49h1v1h-1zM88 49h1v1h-1zM91 49h2v1h-2zM68 50h1v1h-1zM73 50h1v1h-1zM86 50h1v1h-1zM97 50h1v1h-1zM68 51h1v1h-1zM72 51h2v1h-2zM78 51h1v1h-1zM83 51h1v1h-1zM85 51h1v1h-1zM94 51h1v1h-1zM65 52h1v1h-1zM75 52h1v1h-1zM77 52h1v1h-1zM82 52h1v1h-1zM89 52h2v1h-2zM61 53h1v1h-1zM64 53h1v1h-1zM80 53h2v1h-2zM87 53h2v1h-2zM91 53h1v1h-1zM93 53h1v1h-1zM63 54h1v1h-1zM74 54h1v1h-1zM79 54h1v1h-1zM92 54h2v1h-2zM96 54h1v1h-1zM59 55h1v1h-1zM77 55h1v1h-1zM81 55h1v1h-1zM91 55h1v1h-1zM64 56h1v1h-1zM68 56h2v1h-2zM86 56h1v1h-1zM88 56h1v1h-1zM61 57h1v1h-1zM71 57h1v1h-1zM74 57h1v1h-1zM77 57h1v1h-1zM81 57h2v1h-2zM93 57h2v1h-2zM54 58h1v1h-1zM57 58h1v1h-1zM61 58h1v1h-1zM64 58h1v1h-1zM70 58h2v1h-2zM76 58h1v1h-1zM79 58h1v1h-1zM96 58h1v1h-1zM48 59h1v1h-1zM59 59h1v1h-1zM65 59h3v1h-3zM76 59h2v1h-2zM80 59h1v1h-1zM88 59h1v1h-1zM91 59h1v1h-1zM96 59h1v1h-1zM42 60h1v1h-1zM50 60h1v1h-1zM52 60h1v1h-1zM57 60h1v1h-1zM63 60h2v1h-2zM68 60h1v1h-1zM73 60h1v1h-1zM78 60h1v1h-1zM88 60h1v1h-1zM99 60h1v1h-1zM46 61h1v1h-1zM53 61h1v1h-1zM56 61h1v1h-1zM59 61h1v1h-1zM63 61h1v1h-1zM70 61h1v1h-1zM72 61h1v1h-1zM77 61h1v1h-1zM82 61h1v1h-1zM86 61h1v1h-1zM90 61h1v1h-1zM48 62h1v1h-1zM66 62h1v1h-1zM78 62h2v1h-2zM93 62h1v1h-1zM35 63h3v1h-3zM44 63h1v1h-1zM53 63h1v1h-1zM60 63h1v1h-1zM63 63h1v1h-1zM66 63h1v1h-1zM68 63h1v1h-1zM74 63h1v1h-1zM91 63h1v1h-1zM39 64h1v1h-1zM41 64h1v1h-1zM45 64h1v1h-1zM49 64h1v1h-1zM55 64h1v1h-1zM57 64h2v1h-2zM60 64h2v1h-2zM63 64h1v1h-1zM67 64h1v1h-1zM70 64h1v1h-1zM75 64h1v1h-1zM82 64h1v1h-1zM85 64h1v1h-1zM87 64h1v1h-1zM90 64h1v1h-1zM47 65h1v1h-1zM49 65h1v1h-1zM59 65h1v1h-1zM67 65h1v1h-1zM77 65h1v1h-1zM84 65h1v1h-1zM88 65h1v1h-1zM31 66h2v1h-2zM38 66h1v1h-1zM42 66h1v1h-1zM48 66h1v1h-1zM67 66h1v1h-1zM69 66h1v1h-1zM34 67h1v1h-1zM36 67h1v1h-1zM39 67h1v1h-1zM51 67h1v1h-1zM54 67h2v1h-2zM59 67h1v1h-1zM62 67h2v1h-2zM65 67h1v1h-1zM67 67h1v1h-1zM82 67h1v1h-1zM15 68h1v1h-1zM27 68h1v1h-1zM30 68h2v1h-2zM36 68h2v1h-2zM39 68h2v1h-2zM43 68h1v1h-1zM50 68h1v1h-1zM57 68h1v1h-1zM73 68h1v1h-1zM76 68h1v1h-1zM2 69h1v1h-1zM22 69h1v1h-1zM31 69h1v1h-1zM35 69h1v1h-1zM37 69h1v1h-1zM44 69h1v1h-1zM54 69h1v1h-1zM62 69h1v1h-1zM29 70h1v1h-1zM34 70h1v1h-1zM36 70h1v1h-1zM41 70h2v1h-2zM46 70h1v1h-1zM48 70h1v1h-1zM2 71h1v1h-1zM4 71h1v1h-1zM10 71h1v1h-1zM28 71h1v1h-1zM36 71h1v1h-1zM38 71h1v1h-1zM40 71h1v1h-1zM47 71h1v1h-1zM52 71h1v1h-1zM54 71h1v1h-1zM3 72h1v1h-1zM6 72h1v1h-1zM8 72h1v1h-1zM13 72h1v1h-1zM18 72h1v1h-1zM21 72h1v1h-1zM30 72h1v1h-1zM33 72h1v1h-1zM42 72h1v1h-1zM44 72h3v1h-3zM51 72h1v1h-1zM56 72h1v1h-1zM58 72h1v1h-1zM1 73h1v1h-1zM5 73h2v1h-2zM17 73h1v1h-1zM25 73h1v1h-1zM27 73h1v1h-1zM34 73h1v1h-1zM42 73h1v1h-1zM44 73h1v1h-1zM56 73h1v1h-1zM2 74h1v1h-1zM4 74h1v1h-1zM6 74h1v1h-1zM9 74h2v1h-2zM21 74h1v1h-1zM23 74h1v1h-1zM30 74h1v1h-1zM39 74h2v1h-2zM49 74h1v1h-1zM62 74h1v1h-1zM15 75h1v1h-1zM38 75h2v1h-2zM42 75h1v1h-1zM44 75h2v1h-2zM10 76h1v1h-1zM23 76h1v1h-1zM28 76h1v1h-1zM35 76h1v1h-1zM44 76h1v1h-1zM48 76h2v1h-2zM12 77h1v1h-1zM15 77h2v1h-2zM23 77h1v1h-1zM28 77h1v1h-1zM30 77h1v1h-1zM34 77h1v1h-1zM36 77h1v1h-1zM39 77h1v1h-1zM23 78h3v1h-3zM28 78h1v1h-1zM31 78h1v1h-1zM34 78h1v1h-1zM21 79h4v1h-4zM27 79h1v1h-1zM19 80h1v1h-1zM22 80h1v1h-1zM25 80h1v1h-1zM33 80h1v1h-1zM20 81h1v1h-1zM23 81h1v1h-1zM23 82h2v1h-2zM18 83h1v1h-1zM21 83h1v1h-1zM31 83h2v1h-2zM14 84h1v1h-1zM23 84h1v1h-1zM19 85h1v1h-1zM23 85h1v1h-1zM21 86h2v1h-2zM17 87h1v1h-1zM16 88h1v1h-1zM18 88h2v1h-2zM12 89h1v1h-1zM8 92h1v1h-1zM13 92h1v1h-1zM9 95h1v1h-1zM2 99h3v1h-3z"/>
<path fill="#228d8d" d="M95 39h1v1h-1zM87 41h1v1h-1zM95 41h2v1h-2zM92 44h2v1h-2zM97 44h1v1h-1zM85 45h1v1h-1zM93 45h1v1h-1zM97 45h1v1h-1zM79 46h1v1h-1zM95 46h3v1h-3zM79 47h1v1h-1zM81 47h1v1h-1zM76 48h1v1h-1zM79 48h1v1h-1zM81 48h2v1h-2zM90 48h1v1h-1zM96 48h1v1h-1zM74 49h1v1h-1zM84 49h1v1h-1zM89 49h1v1h-1zM76 50h1v1h-1zM85 50h1v1h-1zM87 50h1v1h-1zM90 50h1v1h-1zM96 50h1v1h-1zM99 50h1v1h-1zM91 51h2v1h-2zM95 51h1v1h-1zM85 52h2v1h-2zM97 52h1v1h-1zM67 53h1v1h-1zM79 53h1v1h-1zM82 53h2v1h-2zM76 54h1v1h-1zM84 54h1v1h-1zM89 54h3v1h-3zM94 54h1v1h-1zM60 55h1v1h-1zM75 55h2v1h-2zM79 55h1v1h-1zM82 55h1v1h-1zM85 55h1v1h-1zM88 55h1v1h-1zM63 56h1v1h-1zM72 56h1v1h-1zM74 56h2v1h-2zM78 56h1v1h-1zM83 56h1v1h-1zM87 56h1v1h-1zM94 56h2v1h-2zM97 56h1v1h-1zM70 57h1v1h-1zM79 57h1v1h-1zM88 57h2v1h-2zM62 58h1v1h-1zM73 58h1v1h-1zM75 58h1v1h-1zM77 58h1v1h-1zM80 58h2v1h-2zM87 58h2v1h-2zM93 58h1v1h-1zM38 59h1v1h-1zM51 59h1v1h-1zM53 59h1v1h-1zM57 59h1v1h-1zM64 59h1v1h-1zM68 59h2v1h-2zM87 59h1v1h-1zM90 59h1v1h-1zM49 60h1v1h-1zM51 60h1v1h-1zM54 60h1v1h-1zM62 60h1v1h-1zM65 60h1v1h-1zM90 60h1v1h-1zM93 60h1v1h-1zM54 61h1v1h-1zM57 61h1v1h-1zM60 61h1v1h-1zM80 61h1v1h-1zM84 61h1v1h-1zM93 61h1v1h-1zM95 61h1v1h-1zM99 61h1v1h-1zM51 62h1v1h-1zM55 62h1v1h-1zM57 62h1v1h-1zM61 62h2v1h-2zM64 62h1v1h-1zM82 62h1v1h-1zM84 62h1v1h-1zM89 62h1v1h-1zM91 62h1v1h-1zM41 63h1v1h-1zM55 63h1v1h-1zM59 63h1v1h-1zM61 63h1v1h-1zM64 63h1v1h-1zM67 63h1v1h-1zM69 63h1v1h-1zM82 63h2v1h-2zM88 63h1v1h-1zM37 64h1v1h-1zM56 64h1v1h-1zM68 64h1v1h-1zM76 64h1v1h-1zM81 64h1v1h-1zM86 64h1v1h-1zM51 65h1v1h-1zM61 65h1v1h-1zM63 65h1v1h-1zM71 65h1v1h-1zM83 65h1v1h-1zM35 66h1v1h-1zM39 66h1v1h-1zM41 66h1v1h-1zM43 66h3v1h-3zM51 66h2v1h-2zM56 66h1v1h-1zM61 66h1v1h-1zM71 66h1v1h-1zM79 66h1v1h-1zM20 67h1v1h-1zM37 67h1v1h-1zM45 67h1v1h-1zM47 67h1v1h-1zM50 67h1v1h-1zM74 67h1v1h-1zM29 68h1v1h-1zM34 68h1v1h-1zM52 68h1v1h-1zM26 69h1v1h-1zM28 69h1v1h-1zM34 69h1v1h-1zM51 69h1v1h-1zM71 69h1v1h-1zM5 70h1v1h-1zM22 70h1v1h-1zM31 70h1v1h-1zM35 70h1v1h-1zM38 70h1v1h-1zM51 70h1v1h-1zM53 70h1v1h-1zM55 70h1v1h-1zM58 70h2v1h-2zM17 71h1v1h-1zM30 71h2v1h-2zM39 71h1v1h-1zM50 71h1v1h-1zM56 71h1v1h-1zM1 72h1v1h-1zM19 72h1v1h-1zM25 72h1v1h-1zM31 72h1v1h-1zM34 72h1v1h-1zM36 72h1v1h-1zM38 72h4v1h-4zM47 72h1v1h-1zM49 72h1v1h-1zM61 72h1v1h-1zM2 73h1v1h-1zM7 73h1v1h-1zM9 73h1v1h-1zM12 73h2v1h-2zM16 73h1v1h-1zM22 73h1v1h-1zM32 73h1v1h-1zM38 73h1v1h-1zM13 74h1v1h-1zM18 74h1v1h-1zM20 74h1v1h-1zM28 74h1v1h-1zM31 74h1v1h-1zM0 75h1v1h-1zM4 75h1v1h-1zM18 75h1v1h-1zM21 75h1v1h-1zM29 75h1v1h-1zM31 75h2v1h-2zM53 75h1v1h-1zM7 76h1v1h-1zM9 76h1v1h-1zM15 76h1v1h-1zM21 76h1v1h-1zM26 76h1v1h-1zM31 76h1v1h-1zM34 76h1v1h-1zM38 76h1v1h-1zM4 77h1v1h-1zM26 77h1v1h-1zM40 77h1v1h-1zM1 78h1v1h-1zM13 78h1v1h-1zM20 78h1v1h-1zM37 78h2v1h-2zM40 78h1v1h-1zM37 79h1v1h-1zM16 80h1v1h-1zM27 80h1v1h-1zM26 81h2v1h-2zM11 82h1v1h-1zM27 82h1v1h-1zM13 83h1v1h-1zM25 83h1v1h-1zM27 83h1v1h-1zM21 85h1v1h-1zM14 86h2v1h-2zM20 86h1v1h-1zM25 87h1v1h-1zM14 88h2v1h-2zM13 91h1v1h-1zM10 92h1v1h-1zM7 94h1v1h-1zM4 96h1v1h-1zM3 97h1v1h-1zM5 97h1v1h-1zM4 98h1v1h-1z"/>
<path fill="#22938c" d="M98 45h1v1h-1zM93 46h1v1h-1zM84 47h1v1h-1zM97 47h1v1h-1zM83 48h1v1h-1zM88 48h1v1h-1zM91 48h1v1h-1zM85 49h1v1h-1zM93 49h1v1h-1zM98 49h1v1h-1zM91 50h1v1h-1zM95 50h1v1h-1zM70 51h1v1h-1zM69 52h1v1h-1zM78 52h1v1h-1zM77 53h2v1h-2zM85 53h1v1h-1zM90 53h1v1h-1zM96 53h1v1h-1zM99 53h1v1h-1zM64 54h1v1h-1zM81 54h1v1h-1zM86 54h1v1h-1zM88 54h1v1h-1zM95 54h1v1h-1zM98 54h1v1h-1zM63 55h1v1h-1zM70 55h1v1h-1zM78 55h1v1h-1zM86 55h1v1h-1zM98 56h1v1h-1zM66 57h1v1h-1zM63 58h1v1h-1zM69 58h1v1h-1zM78 58h1v1h-1zM92 58h1v1h-1zM94 58h1v1h-1zM63 59h1v1h-1zM71 59h1v1h-1zM74 59h1v1h-1zM79 59h1v1h-1zM86 59h1v1h-1zM99 59h1v1h-1zM58 60h1v1h-1zM61 60h1v1h-1zM66 60h2v1h-2zM74 60h1v1h-1zM76 60h1v1h-1zM61 61h1v1h-1zM66 61h1v1h-1zM47 62h1v1h-1zM50 62h1v1h-1zM54 62h1v1h-1zM63 62h1v1h-1zM68 62h1v1h-1zM74 62h1v1h-1zM52 63h1v1h-1zM57 63h1v1h-1zM62 63h1v1h-1zM65 63h1v1h-1zM73 63h1v1h-1zM86 63h1v1h-1zM43 64h1v1h-1zM47 64h2v1h-2zM51 64h1v1h-1zM72 64h1v1h-1zM42 65h1v1h-1zM53 65h1v1h-1zM55 65h1v1h-1zM57 65h2v1h-2zM74 65h1v1h-1zM47 66h1v1h-1zM62 66h1v1h-1zM65 66h1v1h-1zM42 67h1v1h-1zM46 67h1v1h-1zM48 67h1v1h-1zM73 67h1v1h-1zM28 68h1v1h-1zM38 68h1v1h-1zM44 68h1v1h-1zM49 68h1v1h-1zM36 69h1v1h-1zM45 69h1v1h-1zM50 69h1v1h-1zM68 69h1v1h-1zM21 70h1v1h-1zM44 70h1v1h-1zM50 70h1v1h-1zM54 70h1v1h-1zM9 71h1v1h-1zM13 71h1v1h-1zM25 71h1v1h-1zM32 71h1v1h-1zM41 71h1v1h-1zM46 71h1v1h-1zM48 71h2v1h-2zM7 72h1v1h-1zM11 72h1v1h-1zM14 72h1v1h-1zM23 72h1v1h-1zM35 72h1v1h-1zM43 72h1v1h-1zM8 73h1v1h-1zM10 73h1v1h-1zM21 73h1v1h-1zM29 73h1v1h-1zM7 74h2v1h-2zM12 74h1v1h-1zM14 74h1v1h-1zM17 74h1v1h-1zM22 74h1v1h-1zM24 74h1v1h-1zM29 74h1v1h-1zM36 74h2v1h-2zM46 74h1v1h-1zM9 75h1v1h-1zM11 75h1v1h-1zM22 75h2v1h-2zM28 75h1v1h-1zM36 75h1v1h-1zM12 76h1v1h-1zM17 76h1v1h-1zM24 76h2v1h-2zM32 76h1v1h-1zM36 76h1v1h-1zM39 76h1v1h-1zM3 77h1v1h-1zM9 77h2v1h-2zM13 77h2v1h-2zM19 77h1v1h-1zM32 77h1v1h-1zM37 77h1v1h-1zM5 78h1v1h-1zM7 78h1v1h-1zM10 78h1v1h-1zM27 78h1v1h-1zM32 78h2v1h-2zM39 78h1v1h-1zM3 79h1v1h-1zM11 79h1v1h-1zM13 79h1v1h-1zM17 79h1v1h-1zM25 79h1v1h-1zM33 79h1v1h-1zM9 80h1v1h-1zM14 80h1v1h-1zM24 80h1v1h-1zM29 80h1v1h-1zM31 80h1v1h-1zM9 81h1v1h-1zM15 81h1v1h-1zM18 81h1v1h-1zM31 81h1v1h-1zM15 82h1v1h-1zM31 82h1v1h-1zM22 83h1v1h-1zM26 83h1v1h-1zM18 84h1v1h-1zM26 84h1v1h-1zM10 85h1v1h-1zM13 85h1v1h-1zM15 85h3v1h-3zM17 86h1v1h-1zM19 86h1v1h-1zM8 89h1v1h-1zM9 90h1v1h-1zM16 90h1v1h-1zM11 92h1v1h-1zM7 93h1v1h-1zM10 93h1v1h-1zM6 94h1v1h-1z"/>
<path fill="#239989" d="M91 44h1v1h-1zM82 49h1v1h-1zM83 50h1v1h-1zM80 51h1v1h-1zM90 51h1v1h-1zM99 51h1v1h-1zM91 52h1v1h-1zM94 52h1v1h-1zM75 53h1v1h-1zM97 54h1v1h-1zM87 55h1v1h-1zM89 55h1v1h-1zM67 56h1v1h-1zM79 56h1v1h-1zM82 56h1v1h-1zM85 56h1v1h-1zM96 56h1v1h-1zM85 57h1v1h-1zM96 57h1v1h-1zM98 57h1v1h-1zM82 58h2v1h-2zM90 58h1v1h-1zM92 59h1v1h-1zM59 60h1v1h-1zM70 60h2v1h-2zM80 60h1v1h-1zM50 61h1v1h-1zM62 61h1v1h-1zM65 61h1v1h-1zM68 61h2v1h-2zM78 61h1v1h-1zM56 62h1v1h-1zM81 62h1v1h-1zM43 63h1v1h-1zM77 63h1v1h-1zM40 64h1v1h-1zM62 64h1v1h-1zM68 65h1v1h-1zM37 66h1v1h-1zM55 66h1v1h-1zM63 66h1v1h-1zM49 67h1v1h-1zM45 68h2v1h-2zM55 68h1v1h-1zM59 68h1v1h-1zM66 68h1v1h-1zM33 69h1v1h-1zM39 69h1v1h-1zM41 69h1v1h-1zM46 69h1v1h-1zM39 70h2v1h-2zM43 70h1v1h-1zM45 70h1v1h-1zM43 71h1v1h-1zM2 72h1v1h-1zM15 72h1v1h-1zM52 72h1v1h-1zM20 73h1v1h-1zM23 73h1v1h-1zM26 73h1v1h-1zM43 73h1v1h-1zM45 73h1v1h-1zM1 74h1v1h-1zM11 74h1v1h-1zM16 74h1v1h-1zM26 74h1v1h-1zM32 74h1v1h-1zM48 74h1v1h-1zM1 75h1v1h-1zM5 75h1v1h-1zM8 75h1v1h-1zM10 75h1v1h-1zM24 75h2v1h-2zM30 75h1v1h-1zM34 75h2v1h-2zM11 76h1v1h-1zM18 76h1v1h-1zM40 76h1v1h-1zM6 77h1v1h-1zM8 77h1v1h-1zM3 78h1v1h-1zM6 78h1v1h-1zM15 78h1v1h-1zM17 78h1v1h-1zM29 78h1v1h-1zM10 79h1v1h-1zM16 79h1v1h-1zM29 79h1v1h-1zM35 79h1v1h-1zM7 80h1v1h-1zM13 80h1v1h-1zM26 80h1v1h-1zM28 80h1v1h-1zM30 80h1v1h-1zM16 81h1v1h-1zM21 81h1v1h-1zM24 81h1v1h-1zM28 81h1v1h-1zM32 81h1v1h-1zM19 82h1v1h-1zM10 83h2v1h-2zM16 83h1v1h-1zM19 83h1v1h-1zM20 84h2v1h-2zM6 86h1v1h-1zM13 86h1v1h-1zM11 88h2v1h-2zM11 89h1v1h-1zM13 89h1v1h-1zM15 89h1v1h-1zM8 91h1v1h-1zM11 91h1v1h-1zM9 93h1v1h-1zM3 95h1v1h-1zM6 95h1v1h-1zM3 96h1v1h-1zM5 96h1v1h-1zM4 97h1v1h-1zM2 98h1v1h-1z"/>
<path fill="#249f87" d="M92 47h1v1h-1zM96 47h1v1h-1zM74 50h1v1h-1zM95 53h1v1h-1zM70 54h1v1h-1zM78 54h1v1h-1zM94 55h1v1h-1zM83 57h2v1h-2zM65 58h1v1h-1zM67 58h1v1h-1zM77 60h1v1h-1zM58 63h1v1h-1zM50 64h1v1h-1zM84 64h1v1h-1zM60 65h1v1h-1zM44 67h1v1h-1zM40 69h1v1h-1zM26 71h1v1h-1zM44 71h1v1h-1zM32 72h1v1h-1zM37 72h1v1h-1zM30 73h1v1h-1zM3 74h1v1h-1zM15 74h1v1h-1zM6 75h1v1h-1zM16 75h2v1h-2zM20 75h1v1h-1zM0 76h2v1h-2zM5 76h1v1h-1zM14 76h1v1h-1zM16 76h1v1h-1zM30 76h1v1h-1zM7 77h1v1h-1zM17 77h2v1h-2zM21 77h1v1h-1zM24 77h1v1h-1zM12 78h1v1h-1zM14 78h1v1h-1zM21 78h2v1h-2zM36 78h1v1h-1zM6 79h1v1h-1zM28 79h1v1h-1zM18 80h1v1h-1zM21 80h1v1h-1zM12 81h1v1h-1zM25 81h1v1h-1zM13 82h1v1h-1zM20 82h1v1h-1zM22 82h1v1h-1zM15 83h1v1h-1zM10 84h1v1h-1zM13 84h1v1h-1zM10 86h2v1h-2zM12 87h2v1h-2zM16 87h1v1h-1zM9 88h1v1h-1zM10 89h1v1h-1zM11 90h2v1h-2zM5 91h1v1h-1z"/>
<path fill="#25a584" d="M97 53h1v1h-1zM83 55h1v1h-1zM74 58h1v1h-1zM50 63h1v1h-1zM54 64h1v1h-1zM53 67h1v1h-1zM43 69h1v1h-1zM57 69h1v1h-1zM0 74h1v1h-1zM33 74h1v1h-1zM41 74h1v1h-1zM3 75h1v1h-1zM33 75h1v1h-1zM2 76h1v1h-1zM13 76h1v1h-1zM19 76h1v1h-1zM22 76h1v1h-1zM1 77h2v1h-2zM5 77h1v1h-1zM22 77h1v1h-1zM25 77h1v1h-1zM27 77h1v1h-1zM8 78h1v1h-1zM16 78h1v1h-1zM19 78h1v1h-1zM4 79h1v1h-1zM7 79h1v1h-1zM20 79h1v1h-1zM5 80h1v1h-1zM10 80h1v1h-1zM8 81h1v1h-1zM19 81h1v1h-1zM9 82h2v1h-2zM14 82h1v1h-1zM16 82h1v1h-1zM7 83h1v1h-1zM17 84h1v1h-1zM11 85h1v1h-1zM9 86h1v1h-1zM9 89h1v1h-1zM14 89h1v1h-1zM6 91h1v1h-1zM9 91h1v1h-1zM3 92h1v1h-1zM6 92h2v1h-2zM9 92h1v1h-1zM3 94h1v1h-1zM5 94h1v1h-1zM5 95h1v1h-1zM3 98h1v1h-1z"/>
<path fill="#27ab82" d="M99 52h1v1h-1zM51 68h1v1h-1zM47 69h1v1h-1zM37 71h1v1h-1zM42 71h1v1h-1zM50 73h1v1h-1zM5 74h1v1h-1zM2 75h1v1h-1zM14 75h1v1h-1zM3 76h1v1h-1zM0 77h1v1h-1zM2 78h1v1h-1zM9 78h1v1h-1zM8 79h2v1h-2zM8 80h1v1h-1zM3 81h1v1h-1zM5 81h1v1h-1zM11 81h1v1h-1zM14 81h1v1h-1zM12 82h1v1h-1zM9 83h1v1h-1zM12 83h1v1h-1zM14 83h1v1h-1zM17 83h1v1h-1zM12 84h1v1h-1zM9 85h1v1h-1zM11 87h1v1h-1zM7 90h1v1h-1zM12 91h1v1h-1zM6 93h1v1h-1zM4 95h1v1h-1zM0 97h1v1h-1zM2 97h1v1h-1z"/>
<path fill="#2eb07d" d="M57 66h1v1h-1zM36 73h1v1h-1zM4 76h1v1h-1zM11 77h1v1h-1zM18 78h1v1h-1zM14 79h1v1h-1zM18 79h2v1h-2zM0 80h2v1h-2zM4 80h1v1h-1zM15 80h1v1h-1zM13 81h1v1h-1zM5 82h1v1h-1zM6 84h1v1h-1zM9 84h1v1h-1zM5 85h1v1h-1zM7 86h1v1h-1zM8 90h1v1h-1zM8 93h1v1h-1zM1 98h1v1h-1zM0 99h2v1h-2z"/>
<path fill="#39b677" d="M4 78h1v1h-1zM11 78h1v1h-1zM0 79h2v1h-2zM5 79h1v1h-1zM3 80h1v1h-1zM6 81h2v1h-2zM10 81h1v1h-1zM3 83h1v1h-1zM6 83h1v1h-1zM8 83h1v1h-1zM7 84h1v1h-1zM11 84h1v1h-1zM12 85h1v1h-1zM8 86h1v1h-1zM12 86h1v1h-1zM7 87h1v1h-1zM9 87h1v1h-1zM10 88h1v1h-1zM7 91h1v1h-1zM4 92h1v1h-1zM4 94h1v1h-1zM2 96h1v1h-1z"/>
<path fill="#44bc71" d="M20 77h1v1h-1zM0 78h1v1h-1zM2 79h1v1h-1zM0 81h1v1h-1zM3 82h1v1h-1zM8 82h1v1h-1zM4 85h1v1h-1zM7 85h1v1h-1zM8 87h1v1h-1zM10 87h1v1h-1zM4 89h1v1h-1z"/>
<path fill="#4ec16b" d="M12 79h1v1h-1zM6 80h1v1h-1zM11 80h2v1h-2zM1 81h2v1h-2zM0 82h1v1h-1zM2 82h1v1h-1zM7 82h1v1h-1zM1 84h1v1h-1zM4 84h1v1h-1zM8 85h1v1h-1zM7 88h2v1h-2zM4 90h1v1h-1zM4 91h1v1h-1zM2 92h1v1h-1zM5 92h1v1h-1zM4 93h2v1h-2zM2 95h1v1h-1zM1 97h1v1h-1z"/>
<path fill="#59c765" d="M2 80h1v1h-1zM1 85h1v1h-1zM5 87h1v1h-1zM3 88h1v1h-1zM6 90h1v1h-1zM2 94h1v1h-1z"/>
<path fill="#68cb5b" d="M4 81h1v1h-1zM1 82h1v1h-1zM6 82h1v1h-1zM0 83h1v1h-1zM5 84h1v1h-1zM8 84h1v1h-1zM4 86h2v1h-2zM6 87h1v1h-1zM0 88h2v1h-2zM2 90h1v1h-1zM3 91h1v1h-1zM1 94h1v1h-1zM0 95h1v1h-1zM0 96h1v1h-1z"/>
<path fill="#78cf51" d="M4 82h1v1h-1zM3 84h1v1h-1zM3 85h1v1h-1zM3 86h1v1h-1zM1 87h1v1h-1zM0 89h1v1h-1zM5 89h3v1h-3zM5 90h1v1h-1zM3 93h1v1h-1z"/>
<path fill="#88d347" d="M4 83h1v1h-1zM2 85h1v1h-1zM6 85h1v1h-1zM0 86h1v1h-1zM4 87h1v1h-1zM5 88h1v1h-1zM3 90h1v1h-1zM2 93h1v1h-1zM0 98h1v1h-1z"/>
<path fill="#98d73d" d="M2 83h1v1h-1zM2 84h1v1h-1zM0 85h1v1h-1zM2 86h1v1h-1zM6 88h1v1h-1zM2 89h2v1h-2zM1 91h1v1h-1zM1 95h1v1h-1z"/>
<path fill="#a8db33" d="M0 84h1v1h-1zM1 86h1v1h-1zM0 87h1v1h-1zM3 87h1v1h-1zM2 88h1v1h-1zM1 96h1v1h-1z"/>
<path fill="#b9de30" d="M1 83h1v1h-1zM5 83h1v1h-1zM2 87h1v1h-1zM4 88h1v1h-1zM1 89h1v1h-1zM2 91h1v1h-1zM0 92h1v1h-1zM1 93h1v1h-1z"/>
<path fill="#dbe22a" d="M1 92h1v1h-1zM0 93h1v1h-1z"/>
<path fill="#fde725" d="M0 90h2v1h-2zM0 91h1v1h-1zM0 94h1v1h-1z"/>
</g>
<defs><pattern id="fg" x="675" y="45" width="5.3150" height="4.2960" patternUnits="userSpaceOnUse"><path d="M0 0H5.32M0 0V4.3" stroke="#fff" stroke-opacity=".17" stroke-width="1"/></pattern></defs>
<rect x="675" y="45" width="531.5" height="429.6" fill="url(#fg)" />
<path d="M781.3 45L781.3 474.6" stroke="#cfccd6" stroke-width="2.3" />
<path d="M887.6 45L887.6 474.6" stroke="#cfccd6" stroke-width="2.3" />
<path d="M993.9 45L993.9 474.6" stroke="#cfccd6" stroke-width="2.3" />
<path d="M1100.2 45L1100.2 474.6" stroke="#cfccd6" stroke-width="2.3" />
<path d="M675 433.7L1206.5 433.7" stroke="#cfccd6" stroke-width="2.5" />
<path d="M675 338.4L1206.5 338.4" stroke="#cfccd6" stroke-width="2.5" />
<path d="M675 243.1L1206.5 243.1" stroke="#cfccd6" stroke-width="2.5" />
<path d="M675 147.8L1206.5 147.8" stroke="#cfccd6" stroke-width="2.5" />
<path d="M675 52.5L1206.5 52.5" stroke="#cfccd6" stroke-width="2.5" />
<rect x="675" y="45" width="531.5" height="429.6" fill="none" stroke="#000" stroke-width="2.8" />
<path d="M668 433.7L675 433.7" stroke="#000" stroke-width="1.6" />
<text class="d" x="660.5" y="440.7" font-size="18.8" text-anchor="end" stroke="#000" stroke-width=".3">2000</text>
<path d="M668 338.4L675 338.4" stroke="#000" stroke-width="1.6" />
<text class="d" x="660.5" y="345.4" font-size="18.8" text-anchor="end" stroke="#000" stroke-width=".3">3000</text>
<path d="M668 243.1L675 243.1" stroke="#000" stroke-width="1.6" />
<text class="d" x="660.5" y="250.1" font-size="18.8" text-anchor="end" stroke="#000" stroke-width=".3">4000</text>
<path d="M668 147.8L675 147.8" stroke="#000" stroke-width="1.6" />
<text class="d" x="660.5" y="154.8" font-size="18.8" text-anchor="end" stroke="#000" stroke-width=".3">5000</text>
<path d="M668 52.5L675 52.5" stroke="#000" stroke-width="1.6" />
<text class="d" x="660.5" y="59.5" font-size="18.8" text-anchor="end" stroke="#000" stroke-width=".3">6000</text>
<path d="M675 474.6L675 481.6" stroke="#000" stroke-width="1.6" />
<text class="d" x="675" y="505" font-size="18.8" text-anchor="middle" stroke="#000" stroke-width=".3">0.0</text>
<path d="M781.3 474.6L781.3 481.6" stroke="#000" stroke-width="1.6" />
<text class="d" x="781.3" y="505" font-size="18.8" text-anchor="middle" stroke="#000" stroke-width=".3">0.2</text>
<path d="M887.6 474.6L887.6 481.6" stroke="#000" stroke-width="1.6" />
<text class="d" x="887.6" y="505" font-size="18.8" text-anchor="middle" stroke="#000" stroke-width=".3">0.4</text>
<path d="M993.9 474.6L993.9 481.6" stroke="#000" stroke-width="1.6" />
<text class="d" x="993.9" y="505" font-size="18.8" text-anchor="middle" stroke="#000" stroke-width=".3">0.6</text>
<path d="M1100.2 474.6L1100.2 481.6" stroke="#000" stroke-width="1.6" />
<text class="d" x="1100.2" y="505" font-size="18.8" text-anchor="middle" stroke="#000" stroke-width=".3">0.8</text>
<path d="M1206.5 474.6L1206.5 481.6" stroke="#000" stroke-width="1.6" />
<text class="d" x="1206.5" y="505" font-size="18.8" text-anchor="middle" stroke="#000" stroke-width=".3">1.0</text>
<text  x="959.5" y="539.5" font-size="33.3" text-anchor="middle" textLength="533" lengthAdjust="spacingAndGlyphs" >Cell cylce progression (Pseudotime)</text>
<text  font-size="32.5" text-anchor="middle" textLength="299" lengthAdjust="spacingAndGlyphs" transform="translate(592.6 268.7) rotate(-90)" >Nuclear area (pixels)</text>
<defs><linearGradient id="vv" x1="0" y1="1" x2="0" y2="0"><stop offset="0" stop-color="#440154"/><stop offset="0.12" stop-color="#472c7a"/><stop offset="0.25" stop-color="#3b518b"/><stop offset="0.38" stop-color="#2c718e"/><stop offset="0.5" stop-color="#21908d"/><stop offset="0.62" stop-color="#27ad81"/><stop offset="0.75" stop-color="#5cc863"/><stop offset="0.88" stop-color="#aadc32"/><stop offset="1" stop-color="#fde725"/></linearGradient><linearGradient id="vh" x1="0" y1="0" x2="1" y2="0"><stop offset="0" stop-color="#440154"/><stop offset="0.12" stop-color="#472c7a"/><stop offset="0.25" stop-color="#3b518b"/><stop offset="0.38" stop-color="#2c718e"/><stop offset="0.5" stop-color="#21908d"/><stop offset="0.62" stop-color="#27ad81"/><stop offset="0.75" stop-color="#5cc863"/><stop offset="0.88" stop-color="#aadc32"/><stop offset="1" stop-color="#fde725"/></linearGradient></defs>
<rect x="1238" y="45" width="22.7" height="429.6" fill="url(#vv)" stroke="#000" stroke-width="2.6" />
<path d="M1260.7 474.6L1267.7 474.6" stroke="#000" stroke-width="1.6" />
<text class="d" x="1275.5" y="481.6" font-size="18.8" stroke="#000" stroke-width=".3">0</text>
<path d="M1260.7 406.66L1267.7 406.66" stroke="#000" stroke-width="1.6" />
<text class="d" x="1275.5" y="413.66" font-size="18.8" stroke="#000" stroke-width=".3">20</text>
<path d="M1260.7 338.72L1267.7 338.72" stroke="#000" stroke-width="1.6" />
<text class="d" x="1275.5" y="345.72" font-size="18.8" stroke="#000" stroke-width=".3">40</text>
<path d="M1260.7 270.78L1267.7 270.78" stroke="#000" stroke-width="1.6" />
<text class="d" x="1275.5" y="277.78" font-size="18.8" stroke="#000" stroke-width=".3">60</text>
<path d="M1260.7 202.84L1267.7 202.84" stroke="#000" stroke-width="1.6" />
<text class="d" x="1275.5" y="209.84" font-size="18.8" stroke="#000" stroke-width=".3">80</text>
<path d="M1260.7 134.9L1267.7 134.9" stroke="#000" stroke-width="1.6" />
<text class="d" x="1275.5" y="141.9" font-size="18.8" stroke="#000" stroke-width=".3">100</text>
<path d="M1260.7 66.96L1267.7 66.96" stroke="#000" stroke-width="1.6" />
<text class="d" x="1275.5" y="73.96" font-size="18.8" stroke="#000" stroke-width=".3">120</text>
<text  x="1348.5" y="25" font-size="30" font-weight="bold" fill="#1a1a1a" >c</text>
<rect x="1478.5" y="77" width="408.5" height="407" fill="#fff" stroke="#000" stroke-width="3.2" />
<path d="M1474.5 77L1478.5 77" stroke="#000" stroke-width="1.6" />
<text  x="1475.5" y="86" font-size="24.6" text-anchor="end" >10000</text>
<path d="M1474.5 170.4L1478.5 170.4" stroke="#000" stroke-width="1.6" />
<text  x="1475.5" y="179.4" font-size="24.6" text-anchor="end" >8000</text>
<path d="M1474.5 262.4L1478.5 262.4" stroke="#000" stroke-width="1.6" />
<text  x="1475.5" y="271.4" font-size="24.6" text-anchor="end" >6000</text>
<path d="M1474.5 354.7L1478.5 354.7" stroke="#000" stroke-width="1.6" />
<text  x="1475.5" y="363.7" font-size="24.6" text-anchor="end" >4000</text>
<path d="M1474.5 446L1478.5 446" stroke="#000" stroke-width="1.6" />
<text  x="1475.5" y="455" font-size="24.6" text-anchor="end" >2000</text>
<path d="M1476 123.7L1478.5 123.7" stroke="#000" stroke-width="1.2" />
<path d="M1476 216.4L1478.5 216.4" stroke="#000" stroke-width="1.2" />
<path d="M1476 308.5L1478.5 308.5" stroke="#000" stroke-width="1.2" />
<path d="M1476 400.3L1478.5 400.3" stroke="#000" stroke-width="1.2" />
<text  font-size="32.6" text-anchor="middle" textLength="300.6" lengthAdjust="spacingAndGlyphs" transform="translate(1396 283) rotate(-90)" >Nuclear area (pixels)</text>
<path d="M1546 484L1546 488" stroke="#000" stroke-width="1.6" />
<text  x="1546" y="518.5" font-size="32" text-anchor="middle" >G1</text>
<path d="M1682 484L1682 488" stroke="#000" stroke-width="1.6" />
<text  x="1682" y="518.5" font-size="32" text-anchor="middle" textLength="73" lengthAdjust="spacingAndGlyphs" >G1/S</text>
<path d="M1820 484L1820 488" stroke="#000" stroke-width="1.6" />
<text  x="1820" y="518.5" font-size="32" text-anchor="middle" textLength="73" lengthAdjust="spacingAndGlyphs" >S/G2</text>
<path d="M1546.7 98.6L1546.7 320" stroke="#000" stroke-width="6.8" />
<path d="M1682.4 98.6L1682.4 216" stroke="#000" stroke-width="6.8" />
<path d="M1819.5 93L1819.5 210" stroke="#000" stroke-width="6.8" />
<path d="M1546.7 318.7L1546.7 392.2" stroke="#000" stroke-width="5.2" />
<path d="M1546.7 440.4L1546.7 465.6" stroke="#000" stroke-width="5.2" />
<path d="M1534.3 465.6L1559.1 465.6" stroke="#000" stroke-width="4.1" />
<path d="M1534.3 318.7L1559.1 318.7" stroke="#000" stroke-width="4.1" />
<rect x="1526.3" y="392.2" width="40.8" height="48.2" fill="#3f5f97" stroke="#000" stroke-width="4.1" />
<rect x="1520" y="416" width="53.4" height="12" fill="#000" />
<path d="M1682.4 214.9L1682.4 330.1" stroke="#000" stroke-width="5.2" />
<path d="M1682.4 406.4L1682.4 465.6" stroke="#000" stroke-width="5.2" />
<path d="M1670 465.6L1694.8 465.6" stroke="#000" stroke-width="4.1" />
<path d="M1670 214.9L1694.8 214.9" stroke="#000" stroke-width="4.1" />
<rect x="1662" y="330.1" width="40.8" height="76.3" fill="#70d355" stroke="#000" stroke-width="4.1" />
<rect x="1655.7" y="373.1" width="53.4" height="12" fill="#000" />
<path d="M1819.5 208.6L1819.5 315" stroke="#000" stroke-width="5.2" />
<path d="M1819.5 385.5L1819.5 465.6" stroke="#000" stroke-width="5.2" />
<path d="M1807.1 465.6L1831.9 465.6" stroke="#000" stroke-width="4.1" />
<path d="M1807.1 208.6L1831.9 208.6" stroke="#000" stroke-width="4.1" />
<rect x="1799.1" y="315" width="40.8" height="70.5" fill="#ffe425" stroke="#000" stroke-width="4.1" />
<rect x="1792.8" y="351.9" width="53.4" height="12" fill="#000" />
<text  x="41.5" y="615.5" font-size="30" font-weight="bold" fill="#1a1a1a" >d</text>
<rect x="108" y="648.6" width="84.08" height="34.13" fill="#3f4686" stroke="#000" stroke-width="1.8" />
<rect x="192.08" y="648.6" width="84.08" height="34.13" fill="#59c665" stroke="#000" stroke-width="1.8" />
<rect x="276.16" y="648.6" width="84.08" height="34.13" fill="#55c467" stroke="#000" stroke-width="1.8" />
<rect x="360.24" y="648.6" width="84.08" height="34.13" fill="#451666" stroke="#000" stroke-width="1.8" />
<rect x="444.32" y="648.6" width="84.08" height="34.13" fill="#87d348" stroke="#000" stroke-width="1.8" />
<text  x="101" y="677.26" font-size="23.2" text-anchor="end" >C7orf50</text>
<rect x="108" y="682.73" width="84.08" height="34.13" fill="#32658d" stroke="#000" stroke-width="1.8" />
<rect x="192.08" y="682.73" width="84.08" height="34.13" fill="#21928c" stroke="#000" stroke-width="1.8" />
<rect x="276.16" y="682.73" width="84.08" height="34.13" fill="#39b677" stroke="#000" stroke-width="1.8" />
<rect x="360.24" y="682.73" width="84.08" height="34.13" fill="#32658d" stroke="#000" stroke-width="1.8" />
<rect x="444.32" y="682.73" width="84.08" height="34.13" fill="#59c665" stroke="#000" stroke-width="1.8" />
<text  x="101" y="711.39" font-size="23.2" text-anchor="end" >C9orf40</text>
<rect x="108" y="716.85" width="84.08" height="34.13" fill="#39b677" stroke="#000" stroke-width="1.8" />
<rect x="192.08" y="716.85" width="84.08" height="34.13" fill="#27ac81" stroke="#000" stroke-width="1.8" />
<rect x="276.16" y="716.85" width="84.08" height="34.13" fill="#39b677" stroke="#000" stroke-width="1.8" />
<rect x="360.24" y="716.85" width="84.08" height="34.13" fill="#461b6b" stroke="#000" stroke-width="1.8" />
<rect x="444.32" y="716.85" width="84.08" height="34.13" fill="#25a584" stroke="#000" stroke-width="1.8" />
<text  x="101" y="745.52" font-size="23.2" text-anchor="end" >C12orf10</text>
<rect x="108" y="750.98" width="84.08" height="34.13" fill="#52c368" stroke="#000" stroke-width="1.8" />
<rect x="192.08" y="750.98" width="84.08" height="34.13" fill="#32658d" stroke="#000" stroke-width="1.8" />
<rect x="276.16" y="750.98" width="84.08" height="34.13" fill="#39b677" stroke="#000" stroke-width="1.8" />
<rect x="360.24" y="750.98" width="84.08" height="34.13" fill="#26a983" stroke="#000" stroke-width="1.8" />
<rect x="444.32" y="750.98" width="84.08" height="34.13" fill="#32658d" stroke="#000" stroke-width="1.8" />
<text  x="101" y="779.64" font-size="23.2" text-anchor="end" >C7orf26</text>
<rect x="108" y="785.11" width="84.08" height="34.13" fill="#87d348" stroke="#000" stroke-width="1.8" />
<rect x="192.08" y="785.11" width="84.08" height="34.13" fill="#2a778e" stroke="#000" stroke-width="1.8" />
<rect x="276.16" y="785.11" width="84.08" height="34.13" fill="#21928c" stroke="#000" stroke-width="1.8" />
<rect x="360.24" y="785.11" width="84.08" height="34.13" fill="#21928c" stroke="#000" stroke-width="1.8" />
<rect x="444.32" y="785.11" width="84.08" height="34.13" fill="#2a778e" stroke="#000" stroke-width="1.8" />
<text  x="101" y="813.77" font-size="23.2" text-anchor="end" >C1orf52</text>
<rect x="108" y="819.23" width="84.08" height="34.13" fill="#287d8e" stroke="#000" stroke-width="1.8" />
<rect x="192.08" y="819.23" width="84.08" height="34.13" fill="#26a983" stroke="#000" stroke-width="1.8" />
<rect x="276.16" y="819.23" width="84.08" height="34.13" fill="#b7de30" stroke="#000" stroke-width="1.8" />
<rect x="360.24" y="819.23" width="84.08" height="34.13" fill="#26a983" stroke="#000" stroke-width="1.8" />
<rect x="444.32" y="819.23" width="84.08" height="34.13" fill="#3f4686" stroke="#000" stroke-width="1.8" />
<text  x="101" y="847.9" font-size="23.2" text-anchor="end" >C1orf112</text>
<rect x="108" y="853.36" width="84.08" height="34.13" fill="#287d8e" stroke="#000" stroke-width="1.8" />
<rect x="192.08" y="853.36" width="84.08" height="34.13" fill="#3a538b" stroke="#000" stroke-width="1.8" />
<rect x="276.16" y="853.36" width="84.08" height="34.13" fill="#21928c" stroke="#000" stroke-width="1.8" />
<rect x="360.24" y="853.36" width="84.08" height="34.13" fill="#59c665" stroke="#000" stroke-width="1.8" />
<rect x="444.32" y="853.36" width="84.08" height="34.13" fill="#59c665" stroke="#000" stroke-width="1.8" />
<text  x="101" y="882.02" font-size="23.2" text-anchor="end" >C1orf174</text>
<rect x="108" y="887.49" width="84.08" height="34.13" fill="#44347e" stroke="#000" stroke-width="1.8" />
<rect x="192.08" y="887.49" width="84.08" height="34.13" fill="#451666" stroke="#000" stroke-width="1.8" />
<rect x="276.16" y="887.49" width="84.08" height="34.13" fill="#39b677" stroke="#000" stroke-width="1.8" />
<rect x="360.24" y="887.49" width="84.08" height="34.13" fill="#fde725" stroke="#000" stroke-width="1.8" />
<rect x="444.32" y="887.49" width="84.08" height="34.13" fill="#39b677" stroke="#000" stroke-width="1.8" />
<text  x="101" y="916.15" font-size="23.2" text-anchor="end" >C19orf53</text>
<rect x="108" y="921.61" width="84.08" height="34.13" fill="#451666" stroke="#000" stroke-width="1.8" />
<rect x="192.08" y="921.61" width="84.08" height="34.13" fill="#44347e" stroke="#000" stroke-width="1.8" />
<rect x="276.16" y="921.61" width="84.08" height="34.13" fill="#26a983" stroke="#000" stroke-width="1.8" />
<rect x="360.24" y="921.61" width="84.08" height="34.13" fill="#b7de30" stroke="#000" stroke-width="1.8" />
<rect x="444.32" y="921.61" width="84.08" height="34.13" fill="#b7de30" stroke="#000" stroke-width="1.8" />
<text  x="101" y="950.28" font-size="23.2" text-anchor="end" >C11orf98</text>
<rect x="108" y="955.74" width="84.08" height="34.13" fill="#44347e" stroke="#000" stroke-width="1.8" />
<rect x="192.08" y="955.74" width="84.08" height="34.13" fill="#21928c" stroke="#000" stroke-width="1.8" />
<rect x="276.16" y="955.74" width="84.08" height="34.13" fill="#25a584" stroke="#000" stroke-width="1.8" />
<rect x="360.24" y="955.74" width="84.08" height="34.13" fill="#25a584" stroke="#000" stroke-width="1.8" />
<rect x="444.32" y="955.74" width="84.08" height="34.13" fill="#39b677" stroke="#000" stroke-width="1.8" />
<text  x="101" y="984.4" font-size="23.2" text-anchor="end" >C9orf78</text>
<rect x="108" y="989.87" width="84.08" height="34.13" fill="#44347e" stroke="#000" stroke-width="1.8" />
<rect x="192.08" y="989.87" width="84.08" height="34.13" fill="#26a983" stroke="#000" stroke-width="1.8" />
<rect x="276.16" y="989.87" width="84.08" height="34.13" fill="#287d8e" stroke="#000" stroke-width="1.8" />
<rect x="360.24" y="989.87" width="84.08" height="34.13" fill="#26a983" stroke="#000" stroke-width="1.8" />
<rect x="444.32" y="989.87" width="84.08" height="34.13" fill="#b7de30" stroke="#000" stroke-width="1.8" />
<text  x="101" y="1018.53" font-size="23.2" text-anchor="end" >C2orf49</text>
<rect x="108" y="1023.99" width="84.08" height="34.13" fill="#29798e" stroke="#000" stroke-width="1.8" />
<rect x="192.08" y="1023.99" width="84.08" height="34.13" fill="#87d348" stroke="#000" stroke-width="1.8" />
<rect x="276.16" y="1023.99" width="84.08" height="34.13" fill="#287d8e" stroke="#000" stroke-width="1.8" />
<rect x="360.24" y="1023.99" width="84.08" height="34.13" fill="#287d8e" stroke="#000" stroke-width="1.8" />
<rect x="444.32" y="1023.99" width="84.08" height="34.13" fill="#21928c" stroke="#000" stroke-width="1.8" />
<text  x="101" y="1052.66" font-size="23.2" text-anchor="end" >C19orf47</text>
<rect x="108" y="1058.12" width="84.08" height="34.13" fill="#26818d" stroke="#000" stroke-width="1.8" />
<rect x="192.08" y="1058.12" width="84.08" height="34.13" fill="#39b677" stroke="#000" stroke-width="1.8" />
<rect x="276.16" y="1058.12" width="84.08" height="34.13" fill="#25858d" stroke="#000" stroke-width="1.8" />
<rect x="360.24" y="1058.12" width="84.08" height="34.13" fill="#39b677" stroke="#000" stroke-width="1.8" />
<rect x="444.32" y="1058.12" width="84.08" height="34.13" fill="#2a768e" stroke="#000" stroke-width="1.8" />
<text  x="101" y="1086.78" font-size="23.2" text-anchor="end" >C8orf82</text>
<rect x="108" y="1092.25" width="84.08" height="34.13" fill="#21928c" stroke="#000" stroke-width="1.8" />
<rect x="192.08" y="1092.25" width="84.08" height="34.13" fill="#287d8e" stroke="#000" stroke-width="1.8" />
<rect x="276.16" y="1092.25" width="84.08" height="34.13" fill="#32658d" stroke="#000" stroke-width="1.8" />
<rect x="360.24" y="1092.25" width="84.08" height="34.13" fill="#21928c" stroke="#000" stroke-width="1.8" />
<rect x="444.32" y="1092.25" width="84.08" height="34.13" fill="#59c665" stroke="#000" stroke-width="1.8" />
<text  x="101" y="1120.91" font-size="23.2" text-anchor="end" >C8orf33</text>
<rect x="108" y="1126.37" width="84.08" height="34.13" fill="#21928c" stroke="#000" stroke-width="1.8" />
<rect x="192.08" y="1126.37" width="84.08" height="34.13" fill="#59c665" stroke="#000" stroke-width="1.8" />
<rect x="276.16" y="1126.37" width="84.08" height="34.13" fill="#440154" stroke="#000" stroke-width="1.8" />
<rect x="360.24" y="1126.37" width="84.08" height="34.13" fill="#39b677" stroke="#000" stroke-width="1.8" />
<rect x="444.32" y="1126.37" width="84.08" height="34.13" fill="#59c665" stroke="#000" stroke-width="1.8" />
<text  x="101" y="1155.04" font-size="23.2" text-anchor="end" >C20orf27</text>
<rect x="108" y="648.6" width="420.4" height="511.9" fill="none" stroke="#000" stroke-width="2" />
<text  x="151.54" y="1187.5" font-size="24.6" text-anchor="middle" textLength="69.6" lengthAdjust="spacingAndGlyphs" >class6</text>
<text  x="235.62" y="1187.5" font-size="24.6" text-anchor="middle" textLength="69.6" lengthAdjust="spacingAndGlyphs" >class4</text>
<text  x="319.7" y="1187.5" font-size="24.6" text-anchor="middle" textLength="69.6" lengthAdjust="spacingAndGlyphs" >class2</text>
<text  x="403.78" y="1187.5" font-size="24.6" text-anchor="middle" textLength="69.6" lengthAdjust="spacingAndGlyphs" >class5</text>
<text  x="487.86" y="1187.5" font-size="24.6" text-anchor="middle" textLength="69.6" lengthAdjust="spacingAndGlyphs" >class3</text>
<text  x="532.5" y="669.5" font-size="24.5" textLength="89.3" lengthAdjust="spacingAndGlyphs" >p &lt; 0.05</text>
<text  x="532.5" y="842" font-size="24.5" textLength="89.3" lengthAdjust="spacingAndGlyphs" >p &lt; 0.05</text>
<text  x="532.5" y="906.5" font-size="24.5" textLength="89.3" lengthAdjust="spacingAndGlyphs" >p &lt; 0.05</text>
<text  x="532.5" y="943.5" font-size="24.5" textLength="89.3" lengthAdjust="spacingAndGlyphs" >p &lt; 0.05</text>
<text  x="316.5" y="1216.8" font-size="25" text-anchor="middle" textLength="70" lengthAdjust="spacingAndGlyphs" >z-score</text>
<rect x="256" y="1225.4" width="125" height="19" fill="url(#vh)" stroke="#000" stroke-width="2.3" />
<path d="M275.3 1244.4L275.3 1252.5" stroke="#000" stroke-width="2.5" />
<path d="M296.5 1244.4L296.5 1252.5" stroke="#000" stroke-width="2.5" />
<path d="M318.3 1244.4L318.3 1252.5" stroke="#000" stroke-width="2.5" />
<path d="M339.9 1244.4L339.9 1252.5" stroke="#000" stroke-width="2.5" />
<path d="M361 1244.4L361 1252.5" stroke="#000" stroke-width="2.5" />
<text  x="274.3" y="1277.5" font-size="23.6" text-anchor="middle" >−1</text>
<text  x="317.3" y="1277.5" font-size="23.6" text-anchor="middle" >0</text>
<text  x="360" y="1277.5" font-size="23.6" text-anchor="middle" >1</text>
<text  x="643.5" y="615.2" font-size="30" font-weight="bold" fill="#1a1a1a" >e</text>
<rect x="761.4" y="649" width="535.8" height="535.5" fill="#fff" stroke="#000" stroke-width="3" />
<text  x="1030" y="640.7" font-size="26.4" text-anchor="middle" textLength="463" lengthAdjust="spacingAndGlyphs" >C7orf50_HPA052281 - ANLN (Nucleus)</text>
<path d="M757.4 691.5L761.4 691.5" stroke="#000" stroke-width="1.4" />
<text class="d" x="748.7" y="694.7" font-size="8.7" text-anchor="end" stroke="#000" stroke-width=".35">0.225</text>
<path d="M757.4 752L761.4 752" stroke="#000" stroke-width="1.4" />
<text class="d" x="748.7" y="755.2" font-size="8.7" text-anchor="end" stroke="#000" stroke-width=".35">0.200</text>
<path d="M757.4 812.2L761.4 812.2" stroke="#000" stroke-width="1.4" />
<text class="d" x="748.7" y="815.4" font-size="8.7" text-anchor="end" stroke="#000" stroke-width=".35">0.175</text>
<path d="M757.4 872.7L761.4 872.7" stroke="#000" stroke-width="1.4" />
<text class="d" x="748.7" y="875.9" font-size="8.7" text-anchor="end" stroke="#000" stroke-width=".35">0.150</text>
<path d="M757.4 932.9L761.4 932.9" stroke="#000" stroke-width="1.4" />
<text class="d" x="748.7" y="936.1" font-size="8.7" text-anchor="end" stroke="#000" stroke-width=".35">0.125</text>
<path d="M757.4 993.4L761.4 993.4" stroke="#000" stroke-width="1.4" />
<text class="d" x="748.7" y="996.6" font-size="8.7" text-anchor="end" stroke="#000" stroke-width=".35">0.100</text>
<path d="M757.4 1054L761.4 1054" stroke="#000" stroke-width="1.4" />
<text class="d" x="748.7" y="1057.2" font-size="8.7" text-anchor="end" stroke="#000" stroke-width=".35">0.075</text>
<path d="M757.4 1114.5L761.4 1114.5" stroke="#000" stroke-width="1.4" />
<text class="d" x="748.7" y="1117.7" font-size="8.7" text-anchor="end" stroke="#000" stroke-width=".35">0.050</text>
<path d="M757.4 1174.7L761.4 1174.7" stroke="#000" stroke-width="1.4" />
<text class="d" x="748.7" y="1177.9" font-size="8.7" text-anchor="end" stroke="#000" stroke-width=".35">0.025</text>
<text  font-size="26.4" text-anchor="middle" textLength="444" lengthAdjust="spacingAndGlyphs" transform="translate(713 933.5) rotate(-90)" >Mean intensity (C7orf50_HPA052281)</text>
<text  x="898.6" y="1209.8" font-size="26.2" text-anchor="middle" textLength="115" lengthAdjust="spacingAndGlyphs" >low ANLN</text>
<text  x="1181" y="1209.8" font-size="26.2" text-anchor="middle" textLength="125" lengthAdjust="spacingAndGlyphs" >high ANLN</text>
<path d="M895.5 1184.5L895.5 1188.5" stroke="#000" stroke-width="1.4" />
<path d="M1162.7 1184.5L1162.7 1188.5" stroke="#000" stroke-width="1.4" />
<path d="M895.5 915.1L895.5 1017.7" stroke="#000" stroke-width="4.2" />
<path d="M895.5 1096.4L895.5 1159.8" stroke="#000" stroke-width="4.2" />
<path d="M883.5 1159.8L907.5 1159.8" stroke="#000" stroke-width="3.6" />
<path d="M883.5 915.1L907.5 915.1" stroke="#000" stroke-width="3.6" />
<rect x="875" y="1017.7" width="41" height="78.7" fill="#3f5f97" stroke="#000" stroke-width="3.6" />
<rect x="869.2" y="1054.5" width="52.6" height="12" fill="#000" />
<rect x="892.8" y="899.8" width="5.4" height="5.4" fill="#fff" stroke="#000" stroke-width="1.8"/>
<rect x="892.8" y="887.3" width="5.4" height="5.4" fill="#fff" stroke="#000" stroke-width="1.8"/>
<rect x="892.8" y="877.3" width="5.4" height="5.4" fill="#fff" stroke="#000" stroke-width="1.8"/>
<rect x="892.8" y="873.7" width="5.4" height="5.4" fill="#fff" stroke="#000" stroke-width="1.8"/>
<rect x="892.8" y="869.3" width="5.4" height="5.4" fill="#fff" stroke="#000" stroke-width="1.8"/>
<rect x="892.8" y="865.7" width="5.4" height="5.4" fill="#fff" stroke="#000" stroke-width="1.8"/>
<rect x="892.8" y="850.1" width="5.4" height="5.4" fill="#fff" stroke="#000" stroke-width="1.8"/>
<rect x="892.8" y="671.3" width="5.4" height="5.4" fill="#fff" stroke="#000" stroke-width="1.8"/>
<path d="M1162.7 834.7L1162.7 957.9" stroke="#000" stroke-width="4.2" />
<path d="M1162.7 1043.1L1162.7 1114.5" stroke="#000" stroke-width="4.2" />
<path d="M1150.7 1114.5L1174.7 1114.5" stroke="#000" stroke-width="3.6" />
<path d="M1150.7 834.7L1174.7 834.7" stroke="#000" stroke-width="3.6" />
<rect x="1142.2" y="957.9" width="41" height="85.2" fill="#70d355" stroke="#000" stroke-width="3.6" />
<rect x="1136.4" y="999.4" width="52.6" height="12" fill="#000" />
<rect x="1160" y="822.9" width="5.4" height="5.4" fill="#fff" stroke="#000" stroke-width="1.8"/>
<rect x="1160" y="820.3" width="5.4" height="5.4" fill="#fff" stroke="#000" stroke-width="1.8"/>
<rect x="1160" y="807.3" width="5.4" height="5.4" fill="#fff" stroke="#000" stroke-width="1.8"/>
<rect x="1160" y="805.3" width="5.4" height="5.4" fill="#fff" stroke="#000" stroke-width="1.8"/>
<rect x="1160" y="793.9" width="5.4" height="5.4" fill="#fff" stroke="#000" stroke-width="1.8"/>
<rect x="1160" y="776.9" width="5.4" height="5.4" fill="#fff" stroke="#000" stroke-width="1.8"/>
<rect x="1160" y="767.3" width="5.4" height="5.4" fill="#fff" stroke="#000" stroke-width="1.8"/>
<rect x="1160" y="764.9" width="5.4" height="5.4" fill="#fff" stroke="#000" stroke-width="1.8"/>
<rect x="1160" y="762.3" width="5.4" height="5.4" fill="#fff" stroke="#000" stroke-width="1.8"/>
<rect x="1160" y="758.3" width="5.4" height="5.4" fill="#fff" stroke="#000" stroke-width="1.8"/>
<rect x="1160" y="720" width="5.4" height="5.4" fill="#fff" stroke="#000" stroke-width="1.8"/>
<rect x="1389.5" y="653.7" width="536" height="534.3" fill="#fff" stroke="#000" stroke-width="3" />
<text  x="1645" y="640.5" font-size="26.4" text-anchor="middle" textLength="483" lengthAdjust="spacingAndGlyphs" >C7orf50_HPA052281 - CCNB1 (Nucleus)</text>
<path d="M1385.5 685L1389.5 685" stroke="#000" stroke-width="1.4" />
<text class="d" x="1382.5" y="688.2" font-size="8.7" text-anchor="end" stroke="#000" stroke-width=".35">0.18</text>
<path d="M1385.5 746.3L1389.5 746.3" stroke="#000" stroke-width="1.4" />
<text class="d" x="1382.5" y="749.5" font-size="8.7" text-anchor="end" stroke="#000" stroke-width=".35">0.16</text>
<path d="M1385.5 807.2L1389.5 807.2" stroke="#000" stroke-width="1.4" />
<text class="d" x="1382.5" y="810.4" font-size="8.7" text-anchor="end" stroke="#000" stroke-width=".35">0.14</text>
<path d="M1385.5 867.8L1389.5 867.8" stroke="#000" stroke-width="1.4" />
<text class="d" x="1382.5" y="871" font-size="8.7" text-anchor="end" stroke="#000" stroke-width=".35">0.12</text>
<path d="M1385.5 928.3L1389.5 928.3" stroke="#000" stroke-width="1.4" />
<text class="d" x="1382.5" y="931.5" font-size="8.7" text-anchor="end" stroke="#000" stroke-width=".35">0.10</text>
<path d="M1385.5 989.2L1389.5 989.2" stroke="#000" stroke-width="1.4" />
<text class="d" x="1382.5" y="992.4" font-size="8.7" text-anchor="end" stroke="#000" stroke-width=".35">0.08</text>
<path d="M1385.5 1050.2L1389.5 1050.2" stroke="#000" stroke-width="1.4" />
<text class="d" x="1382.5" y="1053.4" font-size="8.7" text-anchor="end" stroke="#000" stroke-width=".35">0.06</text>
<path d="M1385.5 1111L1389.5 1111" stroke="#000" stroke-width="1.4" />
<text class="d" x="1382.5" y="1114.2" font-size="8.7" text-anchor="end" stroke="#000" stroke-width=".35">0.04</text>
<path d="M1385.5 1171.6L1389.5 1171.6" stroke="#000" stroke-width="1.4" />
<text class="d" x="1382.5" y="1174.8" font-size="8.7" text-anchor="end" stroke="#000" stroke-width=".35">0.02</text>
<text  font-size="26.4" text-anchor="middle" textLength="443" lengthAdjust="spacingAndGlyphs" transform="translate(1344 937) rotate(-90)" >Mean intensity (C7orf50_HPA052281)</text>
<text  x="1541" y="1213" font-size="26" text-anchor="middle" textLength="134" lengthAdjust="spacingAndGlyphs" >low CCNB1</text>
<text  x="1804" y="1213" font-size="26" text-anchor="middle" textLength="144.4" lengthAdjust="spacingAndGlyphs" >high CCNB1</text>
<path d="M1523.8 1188L1523.8 1192" stroke="#000" stroke-width="1.4" />
<path d="M1790.4 1188L1790.4 1192" stroke="#000" stroke-width="1.4" />
<path d="M1523.8 954.8L1523.8 1030.3" stroke="#000" stroke-width="4.2" />
<path d="M1523.8 1082.5L1523.8 1158" stroke="#000" stroke-width="4.2" />
<path d="M1511.8 1158L1535.8 1158" stroke="#000" stroke-width="3.6" />
<path d="M1511.8 954.8L1535.8 954.8" stroke="#000" stroke-width="3.6" />
<rect x="1503.8" y="1030.3" width="40" height="52.2" fill="#3f5f97" stroke="#000" stroke-width="3.6" />
<rect x="1497.8" y="1052.9" width="52" height="12" fill="#000" />
<rect x="1521.1" y="944.3" width="5.4" height="5.4" fill="#fff" stroke="#000" stroke-width="1.8"/>
<rect x="1521.1" y="940.3" width="5.4" height="5.4" fill="#fff" stroke="#000" stroke-width="1.8"/>
<rect x="1521.1" y="923.2" width="5.4" height="5.4" fill="#fff" stroke="#000" stroke-width="1.8"/>
<rect x="1521.1" y="916.9" width="5.4" height="5.4" fill="#fff" stroke="#000" stroke-width="1.8"/>
<rect x="1521.1" y="1160.9" width="5.4" height="5.4" fill="#fff" stroke="#000" stroke-width="1.8"/>
<path d="M1790.4 868.5L1790.4 967" stroke="#000" stroke-width="4.2" />
<path d="M1790.4 1043.2L1790.4 1116.3" stroke="#000" stroke-width="4.2" />
<path d="M1778.4 1116.3L1802.4 1116.3" stroke="#000" stroke-width="3.6" />
<path d="M1778.4 868.5L1802.4 868.5" stroke="#000" stroke-width="3.6" />
<rect x="1770.4" y="967" width="40" height="76.2" fill="#70d355" stroke="#000" stroke-width="3.6" />
<rect x="1764.4" y="1000" width="52" height="12" fill="#000" />
<rect x="1787.7" y="843.1" width="5.4" height="5.4" fill="#000" stroke="#000" stroke-width="1.8"/>
<rect x="1787.7" y="840.8" width="5.4" height="5.4" fill="#000" stroke="#000" stroke-width="1.8"/>
<rect x="1787.7" y="825.7" width="5.4" height="5.4" fill="#fff" stroke="#000" stroke-width="1.8"/>
<rect x="1787.7" y="819.8" width="5.4" height="5.4" fill="#fff" stroke="#000" stroke-width="1.8"/>
<rect x="1787.7" y="817.3" width="5.4" height="5.4" fill="#fff" stroke="#000" stroke-width="1.8"/>
<rect x="1787.7" y="810.1" width="5.4" height="5.4" fill="#fff" stroke="#000" stroke-width="1.8"/>
<rect x="1787.7" y="801.3" width="5.4" height="5.4" fill="#fff" stroke="#000" stroke-width="1.8"/>
<rect x="1787.7" y="782.3" width="5.4" height="5.4" fill="#fff" stroke="#000" stroke-width="1.8"/>
<rect x="1787.7" y="775.3" width="5.4" height="5.4" fill="#fff" stroke="#000" stroke-width="1.8"/>
<rect x="1787.7" y="675.7" width="5.4" height="5.4" fill="#fff" stroke="#000" stroke-width="1.8"/>
<text  x="43" y="1334.2" font-size="30" font-weight="bold" fill="#1a1a1a" >f</text>
<defs><filter id="b2" x="-20%" y="-20%" width="140%" height="140%"><feGaussianBlur stdDeviation="2.2"/></filter><filter id="gr" x="-20%" y="-20%" width="140%" height="140%" color-interpolation-filters="sRGB"><feGaussianBlur stdDeviation="2" result="b"/><feTurbulence type="fractalNoise" baseFrequency=".28" numOctaves="2" seed="3"/><feColorMatrix type="matrix" values="1 0 0 0 .1 1 0 0 0 .1 1 0 0 0 .1 0 0 0 0 1" result="t"/><feComposite in="b" in2="t" operator="arithmetic" k1="1.6"/></filter><filter id="b8" x="-30%" y="-30%" width="160%" height="160%"><feGaussianBlur stdDeviation="9"/></filter><filter id="b1" x="-20%" y="-20%" width="140%" height="140%"><feGaussianBlur stdDeviation=".8"/></filter><clipPath id="fc1"><rect x="43.3" y="1367.5" width="243.1" height="242.5"/></clipPath><clipPath id="fc2"><rect x="294.2" y="1367.5" width="243.6" height="242.5"/></clipPath></defs>
<rect x="43.3" y="1367.5" width="243.1" height="242.5" fill="#020402" />
<g clip-path="url(#fc1)">
<g filter="url(#b8)"><ellipse cx="201.85" cy="1405.47" rx="25.5" ry="21.07" fill="#0f3a10" opacity="0.5" /><ellipse cx="143.64" cy="1422.94" rx="30.6" ry="31.04" fill="#0f3a10" transform="rotate(-20 143.64 1422.94)" opacity="0.5" /><ellipse cx="53.56" cy="1442.34" rx="19.13" ry="30.49" fill="#0f3a10" transform="rotate(-20 53.56 1442.34)" opacity="0.5" /><ellipse cx="200.46" cy="1453.43" rx="35.06" ry="22.17" fill="#0f3a10" transform="rotate(10 200.46 1453.43)" opacity="0.5" /><ellipse cx="242.04" cy="1446.5" rx="26.78" ry="28.83" fill="#0f3a10" transform="rotate(10 242.04 1446.5)" opacity="0.5" /><ellipse cx="124.24" cy="1465.9" rx="41.44" ry="19.96" fill="#0f3a10" transform="rotate(30 124.24 1465.9)" opacity="0.5" /><ellipse cx="100.68" cy="1497.78" rx="39.53" ry="32.15" fill="#0f3a10" transform="rotate(-30 100.68 1497.78)" opacity="0.5" /><ellipse cx="210.17" cy="1513.02" rx="28.05" ry="38.81" fill="#0f3a10" transform="rotate(-5 210.17 1513.02)" opacity="0.5" /><ellipse cx="115.92" cy="1542.13" rx="35.7" ry="22.17" fill="#0f3a10" transform="rotate(-15 115.92 1542.13)" opacity="0.5" /><ellipse cx="103.45" cy="1569.84" rx="38.25" ry="16.63" fill="#0f3a10" transform="rotate(-25 103.45 1569.84)" opacity="0.5" /><ellipse cx="212.94" cy="1576.77" rx="39.53" ry="22.17" fill="#0f3a10" transform="rotate(28 212.94 1576.77)" opacity="0.5" /><ellipse cx="160.27" cy="1605.88" rx="22.95" ry="11.09" fill="#0f3a10" opacity="0.5" /><ellipse cx="282.79" cy="1518.57" rx="8.93" ry="27.72" fill="#0f3a10" opacity="0.5" /></g>
<g filter="url(#gr)"><ellipse cx="201.85" cy="1405.47" rx="11.09" ry="10.53" fill="#146414" /><ellipse cx="143.64" cy="1422.94" rx="13.3" ry="15.52" fill="#197f19" transform="rotate(-20 143.64 1422.94)" /><ellipse cx="53.56" cy="1442.34" rx="8.32" ry="15.25" fill="#177417" transform="rotate(-20 53.56 1442.34)" /><ellipse cx="200.46" cy="1453.43" rx="15.25" ry="11.09" fill="#177417" transform="rotate(10 200.46 1453.43)" /><ellipse cx="242.04" cy="1446.5" rx="11.64" ry="14.41" fill="#156a15" transform="rotate(10 242.04 1446.5)" /><ellipse cx="124.24" cy="1465.9" rx="18.02" ry="9.98" fill="#135f13" transform="rotate(30 124.24 1465.9)" /><ellipse cx="100.68" cy="1497.78" rx="17.19" ry="16.08" fill="#1e9a1e" transform="rotate(-30 100.68 1497.78)" /><ellipse cx="210.17" cy="1513.02" rx="12.2" ry="19.4" fill="#1a851a" transform="rotate(-5 210.17 1513.02)" /><ellipse cx="115.92" cy="1542.13" rx="15.52" ry="11.09" fill="#1b8a1b" transform="rotate(-15 115.92 1542.13)" /><ellipse cx="103.45" cy="1569.84" rx="16.63" ry="8.32" fill="#156a15" transform="rotate(-25 103.45 1569.84)" /><ellipse cx="212.94" cy="1576.77" rx="17.19" ry="11.09" fill="#1d951d" transform="rotate(28 212.94 1576.77)" /><ellipse cx="160.27" cy="1605.88" rx="9.98" ry="5.54" fill="#197f19" /><ellipse cx="282.79" cy="1518.57" rx="3.88" ry="13.86" fill="#146414" /></g>
<g filter="url(#b1)" opacity=".85"><circle cx="198.29" cy="1406.52" r="1.1" fill="#7dff7a"/><circle cx="204.6" cy="1404.12" r="1.1" fill="#7dff7a"/><circle cx="197.95" cy="1405.3" r="1.1" fill="#7dff7a"/><circle cx="145.27" cy="1427.31" r="1.1" fill="#7dff7a"/><circle cx="139.29" cy="1417.57" r="1.1" fill="#7dff7a"/><circle cx="145.65" cy="1424.51" r="1.1" fill="#7dff7a"/><circle cx="149.08" cy="1427" r="1.1" fill="#7dff7a"/><circle cx="53.48" cy="1441.98" r="1.1" fill="#7dff7a"/><circle cx="58.34" cy="1441.33" r="1.1" fill="#7dff7a"/><circle cx="51.81" cy="1437.71" r="1.1" fill="#7dff7a"/><circle cx="53.6" cy="1442.45" r="1.1" fill="#7dff7a"/><circle cx="199.93" cy="1453.36" r="1.1" fill="#7dff7a"/><circle cx="201.28" cy="1454.92" r="1.1" fill="#7dff7a"/><circle cx="204.63" cy="1454.01" r="1.1" fill="#7dff7a"/><circle cx="193.29" cy="1455.48" r="1.1" fill="#7dff7a"/><circle cx="237.6" cy="1445.84" r="1.1" fill="#7dff7a"/><circle cx="237.41" cy="1446.51" r="1.1" fill="#7dff7a"/><circle cx="240.17" cy="1447.14" r="1.1" fill="#7dff7a"/><circle cx="249" cy="1446.34" r="1.1" fill="#7dff7a"/><circle cx="128.33" cy="1462.32" r="1.1" fill="#7dff7a"/><circle cx="123.25" cy="1467.16" r="1.1" fill="#7dff7a"/><circle cx="124.05" cy="1466.31" r="1.1" fill="#7dff7a"/><circle cx="101.09" cy="1493.93" r="1.1" fill="#7dff7a"/><circle cx="102.94" cy="1494.71" r="1.1" fill="#7dff7a"/><circle cx="109.11" cy="1495.62" r="1.1" fill="#7dff7a"/><circle cx="102.84" cy="1497.78" r="1.1" fill="#7dff7a"/><circle cx="104.77" cy="1495.34" r="1.1" fill="#7dff7a"/><circle cx="213.05" cy="1512.44" r="1.1" fill="#7dff7a"/><circle cx="214.3" cy="1516.27" r="1.1" fill="#7dff7a"/><circle cx="210.51" cy="1509.93" r="1.1" fill="#7dff7a"/><circle cx="212.24" cy="1515.04" r="1.1" fill="#7dff7a"/><circle cx="215.57" cy="1511.02" r="1.1" fill="#7dff7a"/><circle cx="117.62" cy="1543.23" r="1.1" fill="#7dff7a"/><circle cx="116.37" cy="1542.36" r="1.1" fill="#7dff7a"/><circle cx="116.4" cy="1540.99" r="1.1" fill="#7dff7a"/><circle cx="112.04" cy="1541.05" r="1.1" fill="#7dff7a"/><circle cx="118.41" cy="1546.66" r="1.1" fill="#7dff7a"/><circle cx="107.82" cy="1572.2" r="1.1" fill="#7dff7a"/><circle cx="106.57" cy="1571.25" r="1.1" fill="#7dff7a"/><circle cx="104.07" cy="1571.15" r="1.1" fill="#7dff7a"/><circle cx="111.33" cy="1569.1" r="1.1" fill="#7dff7a"/><circle cx="209.9" cy="1582.33" r="1.1" fill="#7dff7a"/><circle cx="213.93" cy="1579.32" r="1.1" fill="#7dff7a"/><circle cx="216.96" cy="1573.38" r="1.1" fill="#7dff7a"/><circle cx="221.18" cy="1580.65" r="1.1" fill="#7dff7a"/><circle cx="213.55" cy="1578.45" r="1.1" fill="#7dff7a"/><circle cx="160.55" cy="1604.8" r="1.1" fill="#7dff7a"/><circle cx="160.15" cy="1606.11" r="1.1" fill="#7dff7a"/><circle cx="163.22" cy="1606.92" r="1.1" fill="#7dff7a"/><circle cx="160.43" cy="1607.88" r="1.1" fill="#7dff7a"/><circle cx="282.06" cy="1521.29" r="1.1" fill="#7dff7a"/><circle cx="283.88" cy="1517.53" r="1.1" fill="#7dff7a"/><circle cx="280.99" cy="1515.32" r="1.1" fill="#7dff7a"/></g>
</g>
<rect x="294.2" y="1367.5" width="243.6" height="242.5" fill="#020402" />
<g clip-path="url(#fc2)">
<g filter="url(#b8)"><ellipse cx="452.75" cy="1405.47" rx="25.5" ry="21.07" fill="#0f3a10" opacity="0.4" /><ellipse cx="394.54" cy="1422.94" rx="30.6" ry="31.04" fill="#0f3a10" transform="rotate(-20 394.54 1422.94)" opacity="0.4" /><ellipse cx="304.46" cy="1442.34" rx="19.13" ry="30.49" fill="#0f3a10" transform="rotate(-20 304.46 1442.34)" opacity="0.4" /><ellipse cx="451.36" cy="1453.43" rx="35.06" ry="22.17" fill="#0f3a10" transform="rotate(10 451.36 1453.43)" opacity="0.4" /><ellipse cx="492.94" cy="1446.5" rx="26.78" ry="28.83" fill="#0f3a10" transform="rotate(10 492.94 1446.5)" opacity="0.4" /><ellipse cx="375.14" cy="1465.9" rx="41.44" ry="19.96" fill="#0f3a10" transform="rotate(30 375.14 1465.9)" opacity="0.4" /><ellipse cx="351.58" cy="1497.78" rx="39.53" ry="32.15" fill="#0f3a10" transform="rotate(-30 351.58 1497.78)" opacity="0.4" /><ellipse cx="461.07" cy="1513.02" rx="28.05" ry="38.81" fill="#0f3a10" transform="rotate(-5 461.07 1513.02)" opacity="0.4" /><ellipse cx="366.82" cy="1542.13" rx="35.7" ry="22.17" fill="#0f3a10" transform="rotate(-15 366.82 1542.13)" opacity="0.4" /><ellipse cx="354.35" cy="1569.84" rx="38.25" ry="16.63" fill="#0f3a10" transform="rotate(-25 354.35 1569.84)" opacity="0.4" /><ellipse cx="463.84" cy="1576.77" rx="39.53" ry="22.17" fill="#0f3a10" transform="rotate(28 463.84 1576.77)" opacity="0.4" /><ellipse cx="411.17" cy="1605.88" rx="22.95" ry="11.09" fill="#0f3a10" opacity="0.4" /><ellipse cx="533.69" cy="1518.57" rx="8.93" ry="27.72" fill="#0f3a10" opacity="0.4" /></g>
<g filter="url(#gr)"><ellipse cx="452.75" cy="1405.47" rx="11.09" ry="10.53" fill="#0c5be8" /><ellipse cx="394.54" cy="1422.94" rx="13.3" ry="15.52" fill="#0f75d5" transform="rotate(-20 394.54 1422.94)" /><ellipse cx="304.46" cy="1442.34" rx="8.32" ry="15.25" fill="#1077cf" transform="rotate(-20 304.46 1442.34)" /><ellipse cx="451.36" cy="1453.43" rx="15.25" ry="11.09" fill="#0c5ee8" transform="rotate(10 451.36 1453.43)" /><ellipse cx="492.94" cy="1446.5" rx="11.64" ry="14.41" fill="#0a51f5" transform="rotate(10 492.94 1446.5)" /><ellipse cx="375.14" cy="1465.9" rx="18.02" ry="9.98" fill="#106fcf" transform="rotate(30 375.14 1465.9)" /><ellipse cx="351.58" cy="1497.78" rx="17.19" ry="16.08" fill="#139ebc" transform="rotate(-30 351.58 1497.78)" /><ellipse cx="461.07" cy="1513.02" rx="12.2" ry="19.4" fill="#0b5aee" transform="rotate(-5 461.07 1513.02)" /><ellipse cx="366.82" cy="1542.13" rx="15.52" ry="11.09" fill="#1080cf" transform="rotate(-15 366.82 1542.13)" /><ellipse cx="354.35" cy="1569.84" rx="16.63" ry="8.32" fill="#0e68dc" transform="rotate(-25 354.35 1569.84)" /><ellipse cx="463.84" cy="1576.77" rx="17.19" ry="11.09" fill="#1294c3" transform="rotate(28 463.84 1576.77)" /><ellipse cx="411.17" cy="1605.88" rx="9.98" ry="5.54" fill="#107bcf" /><ellipse cx="533.69" cy="1518.57" rx="3.88" ry="13.86" fill="#0c5be8" /><ellipse cx="310" cy="1382.75" rx="10" ry="11" fill="#1a40c8" /><ellipse cx="523.43" cy="1370.27" rx="15" ry="7" fill="#1a45e0" transform="rotate(10 523.43 1370.27)" /><ellipse cx="537.85" cy="1438.18" rx="3" ry="12" fill="#1a45e0" /></g>
<g filter="url(#b1)" opacity=".85"><circle cx="453.17" cy="1406.36" r="1.1" fill="#55e6b0"/><circle cx="457.31" cy="1402.65" r="1.1" fill="#55e6b0"/><circle cx="452.75" cy="1406.67" r="1.1" fill="#55e6b0"/><circle cx="394.02" cy="1414.2" r="1.1" fill="#55e6b0"/><circle cx="397.04" cy="1431.29" r="1.1" fill="#55e6b0"/><circle cx="398.09" cy="1419.13" r="1.1" fill="#55e6b0"/><circle cx="393.81" cy="1423.4" r="1.1" fill="#55e6b0"/><circle cx="309.12" cy="1444.46" r="1.1" fill="#55e6b0"/><circle cx="304.71" cy="1448.77" r="1.1" fill="#55e6b0"/><circle cx="304.28" cy="1449.87" r="1.1" fill="#55e6b0"/><circle cx="303.25" cy="1440.82" r="1.1" fill="#55e6b0"/><circle cx="454.34" cy="1457.7" r="1.1" fill="#55e6b0"/><circle cx="453.26" cy="1454.06" r="1.1" fill="#55e6b0"/><circle cx="444.1" cy="1451.37" r="1.1" fill="#55e6b0"/><circle cx="449.43" cy="1452.2" r="1.1" fill="#55e6b0"/><circle cx="494.18" cy="1445.62" r="1.1" fill="#55e6b0"/><circle cx="494.81" cy="1446.74" r="1.1" fill="#55e6b0"/><circle cx="492.54" cy="1446.67" r="1.1" fill="#55e6b0"/><circle cx="494.09" cy="1449.35" r="1.1" fill="#55e6b0"/><circle cx="373.86" cy="1465.56" r="1.1" fill="#55e6b0"/><circle cx="368.91" cy="1469.97" r="1.1" fill="#55e6b0"/><circle cx="382.18" cy="1465.41" r="1.1" fill="#55e6b0"/><circle cx="349.39" cy="1492.52" r="1.1" fill="#55e6b0"/><circle cx="351.81" cy="1498.04" r="1.1" fill="#55e6b0"/><circle cx="360.9" cy="1498.76" r="1.1" fill="#55e6b0"/><circle cx="348.55" cy="1488.93" r="1.1" fill="#55e6b0"/><circle cx="358.08" cy="1498.59" r="1.1" fill="#55e6b0"/><circle cx="455.75" cy="1513.98" r="1.1" fill="#55e6b0"/><circle cx="458" cy="1523.59" r="1.1" fill="#55e6b0"/><circle cx="464.62" cy="1515.92" r="1.1" fill="#55e6b0"/><circle cx="460.51" cy="1502.58" r="1.1" fill="#55e6b0"/><circle cx="460.64" cy="1504.86" r="1.1" fill="#55e6b0"/><circle cx="369.09" cy="1536.26" r="1.1" fill="#55e6b0"/><circle cx="363.02" cy="1545.79" r="1.1" fill="#55e6b0"/><circle cx="373.4" cy="1538.73" r="1.1" fill="#55e6b0"/><circle cx="360.44" cy="1544.75" r="1.1" fill="#55e6b0"/><circle cx="370.3" cy="1539.24" r="1.1" fill="#55e6b0"/><circle cx="351.65" cy="1568.5" r="1.1" fill="#55e6b0"/><circle cx="349.07" cy="1568.34" r="1.1" fill="#55e6b0"/><circle cx="359.94" cy="1571.38" r="1.1" fill="#55e6b0"/><circle cx="363.12" cy="1569.65" r="1.1" fill="#55e6b0"/><circle cx="463.28" cy="1574.22" r="1.1" fill="#55e6b0"/><circle cx="463.26" cy="1572.93" r="1.1" fill="#55e6b0"/><circle cx="455.79" cy="1578.82" r="1.1" fill="#55e6b0"/><circle cx="470.53" cy="1579.28" r="1.1" fill="#55e6b0"/><circle cx="469.93" cy="1577.52" r="1.1" fill="#55e6b0"/><circle cx="409.8" cy="1605.97" r="1.1" fill="#55e6b0"/><circle cx="410.22" cy="1604.31" r="1.1" fill="#55e6b0"/><circle cx="407.02" cy="1603.87" r="1.1" fill="#55e6b0"/><circle cx="411.17" cy="1605.92" r="1.1" fill="#55e6b0"/><circle cx="533.19" cy="1523.92" r="1.1" fill="#55e6b0"/><circle cx="533.8" cy="1519.91" r="1.1" fill="#55e6b0"/><circle cx="534.96" cy="1515.49" r="1.1" fill="#55e6b0"/></g>
</g>
<text  x="49.5" y="1396.5" font-size="27" fill="#1f8f2c" textLength="100" lengthAdjust="spacingAndGlyphs" >C7orf50</text>
<text  x="303" y="1396.5" font-size="27" fill="#1f8f2c" textLength="109" lengthAdjust="spacingAndGlyphs" >C7orf50/</text>
<text  x="412.5" y="1396.5" font-size="27" fill="#2a5cc0" textLength="63.5" lengthAdjust="spacingAndGlyphs" >DAPI</text>
<rect x="504.3" y="1596.5" width="29.6" height="7.5" fill="#fff" />
<defs><filter id="ihc" x="0" y="0" width="100%" height="100%" color-interpolation-filters="sRGB"><feTurbulence type="fractalNoise" baseFrequency=".075" numOctaves="3" seed="5" result="t"/><feColorMatrix in="t" type="matrix" values="3.4 0 0 0 -1.2  3.4 0 0 0 -1.2  3.4 0 0 0 -1.2  0 0 0 0 1" result="n"/><feTurbulence type="fractalNoise" baseFrequency=".42" numOctaves="2" seed="9" result="t2"/><feColorMatrix in="t2" type="matrix" values="0 3 0 0 -1  0 3 0 0 -1  0 3 0 0 -1  0 0 0 0 1" result="n2"/><feComposite in="n" in2="n2" operator="arithmetic" k2=".5" k3=".5" result="nn"/><feComposite in="SourceGraphic" in2="nn" operator="arithmetic" k2=".78" k3=".46" k4="-.15" result="m"/><feComponentTransfer in="m"><feFuncR type="table" tableValues="1.000 0.980 0.910 0.808 0.710 0.675 0.659 0.596 0.525 0.447 0.376"/><feFuncG type="table" tableValues="1.000 0.973 0.894 0.788 0.686 0.620 0.533 0.424 0.353 0.282 0.227"/><feFuncB type="table" tableValues="1.000 0.980 0.933 0.871 0.808 0.729 0.549 0.329 0.251 0.196 0.157"/><feFuncA type="linear" slope="0" intercept="1"/></feComponentTransfer></filter><filter id="ihc2" x="0" y="0" width="100%" height="100%" color-interpolation-filters="sRGB"><feTurbulence type="fractalNoise" baseFrequency=".042" numOctaves="3" seed="5" result="t"/><feColorMatrix in="t" type="matrix" values="3.4 0 0 0 -1.2  3.4 0 0 0 -1.2  3.4 0 0 0 -1.2  0 0 0 0 1" result="n"/><feTurbulence type="fractalNoise" baseFrequency=".17" numOctaves="2" seed="9" result="t2"/><feColorMatrix in="t2" type="matrix" values="0 3 0 0 -1  0 3 0 0 -1  0 3 0 0 -1  0 0 0 0 1" result="n2"/><feComposite in="n" in2="n2" operator="arithmetic" k2=".6" k3=".4" result="nn"/><feComposite in="SourceGraphic" in2="nn" operator="arithmetic" k2=".78" k3=".38" k4="-.11" result="m"/><feComponentTransfer in="m"><feFuncR type="table" tableValues="1.000 0.980 0.910 0.808 0.710 0.675 0.659 0.596 0.525 0.447 0.376"/><feFuncG type="table" tableValues="1.000 0.973 0.894 0.788 0.686 0.620 0.533 0.424 0.353 0.282 0.227"/><feFuncB type="table" tableValues="1.000 0.980 0.933 0.871 0.808 0.729 0.549 0.329 0.251 0.196 0.157"/><feFuncA type="linear" slope="0" intercept="1"/></feComponentTransfer></filter><filter id="b5" x="-30%" y="-30%" width="160%" height="160%"><feGaussianBlur stdDeviation="5"/></filter><filter id="b3" x="-30%" y="-30%" width="160%" height="160%"><feGaussianBlur stdDeviation="2.5"/></filter><clipPath id="ic"><rect x="43.3" y="1627.2" width="494.5" height="403.1"/></clipPath><clipPath id="ic2"><rect x="293.5" y="1623" width="241.5" height="227.5"/></clipPath></defs>
<g clip-path="url(#ic)"><g filter="url(#ihc)"><g filter="url(#b5)"><rect x="33.3" y="1617.2" width="514.5" height="423.1" fill="#686868" /><path d="M46.63 1629.4C66.96 1597.53 136.25 1627.09 168.59 1629.4C200.93 1631.71 235.12 1631.25 240.66 1643.26C246.2 1655.27 217.56 1682.99 201.85 1701.47C186.15 1719.95 163.51 1737.04 146.42 1754.14C129.32 1771.23 115.93 1792.94 99.3 1804.03C82.67 1815.12 55.41 1849.76 46.63 1820.66C37.85 1791.56 26.3 1661.28 46.63 1629.4Z" fill="#5e5e5e" /><path d="M251.75 1792.94C257.29 1782.78 278.54 1780.01 290.55 1787.4C302.57 1794.79 312.73 1822.51 323.82 1837.29C334.9 1852.07 355.23 1865.01 357.08 1876.1C358.93 1887.18 346.91 1901.51 334.9 1903.82C322.89 1906.13 297.95 1899.2 285.01 1889.96C272.07 1880.72 262.84 1864.55 257.29 1848.38C251.75 1832.21 246.2 1803.11 251.75 1792.94Z" fill="#ffffff" /><path d="M348.76 1848.38C371.86 1835.91 414.27 1840.99 445.78 1840.06C477.28 1839.14 522.47 1834.98 537.8 1842.84C553.14 1850.69 553.14 1872.86 537.8 1887.18C522.47 1901.51 477.28 1912.59 445.78 1928.76C414.27 1944.93 381.1 1967.34 348.76 1984.2C316.42 2001.06 277.16 2022.31 251.75 2029.94C226.34 2037.56 198.16 2039.87 196.31 2029.94C194.46 2020 222.18 1989.51 240.66 1970.34C259.14 1951.17 289.17 1935.23 307.18 1914.9C325.2 1894.58 325.66 1860.85 348.76 1848.38Z" fill="#a3a3a3" /><path d="M43.3 1901.04C48.02 1887.18 64.56 1882.57 71.58 1887.18C78.6 1891.8 86.82 1914.9 85.44 1928.76C84.05 1942.62 70.28 1963.41 63.26 1970.34C56.24 1977.27 46.63 1981.89 43.3 1970.34C39.98 1958.79 38.59 1914.9 43.3 1901.04Z" fill="#b2b2b2" /><path d="M224.03 1637.72C235.12 1629.86 279.47 1630.33 290.55 1634.95C301.64 1639.57 297.02 1654.35 290.55 1665.44C284.09 1676.52 262.84 1698.7 251.75 1701.47C240.66 1704.24 228.65 1692.69 224.03 1682.07C219.41 1671.44 212.94 1645.57 224.03 1637.72Z" fill="#9e9e9e" /><path d="M113.16 1859.47C121.47 1850.23 175.06 1837.29 196.31 1837.29C217.56 1837.29 236.04 1848.84 240.66 1859.47C245.28 1870.09 239.74 1895.5 224.03 1901.04C208.32 1906.59 164.9 1899.66 146.42 1892.73C127.94 1885.8 104.84 1868.71 113.16 1859.47Z" fill="#9e9e9e" /><path d="M43.3 1998.06C52.64 1993.9 69.18 2005.45 99.3 2009.15C129.42 2012.84 203.24 2016.08 224.03 2020.23C244.82 2024.39 254.15 2031.78 224.03 2034.09C193.91 2036.4 73.43 2040.1 43.3 2034.09C13.18 2028.09 33.97 2002.22 43.3 1998.06Z" fill="#b2b2b2" /><path d="M163.05 1690.38C170.9 1686.23 178.76 1676.52 188 1676.52C197.23 1676.52 211.56 1685.3 218.49 1690.38C225.42 1695.47 231.42 1700.55 229.57 1707.01C227.73 1713.48 216.64 1726.88 207.4 1729.19C198.16 1731.5 184.3 1719.95 174.14 1720.87C163.97 1721.8 154.27 1734.73 146.42 1734.73C138.56 1734.73 127.94 1726.42 127.01 1720.87C126.09 1715.33 134.87 1706.55 140.87 1701.47C146.88 1696.39 155.2 1694.54 163.05 1690.38Z" fill="#000000" /><path d="M45.25 1748.59C51.81 1737.04 74.35 1737.51 82.67 1740.28C90.98 1743.05 95.37 1756.91 95.14 1765.22C94.91 1773.54 83.36 1780.47 81.28 1790.17C79.2 1799.87 87.52 1816.04 82.67 1823.43C77.81 1830.82 58.73 1836.83 52.17 1834.52C45.61 1832.21 44.46 1823.89 43.3 1809.57C42.15 1795.25 38.69 1760.14 45.25 1748.59Z" fill="#000000" /><path d="M224.03 1765.22C232.81 1762.45 264.68 1768.92 273.92 1773.54C283.16 1778.16 284.09 1787.4 279.47 1792.94C274.85 1798.49 255.91 1807.26 246.2 1806.8C236.5 1806.34 224.95 1797.1 221.26 1790.17C217.56 1783.24 215.25 1768 224.03 1765.22Z" fill="#070707" /><path d="M149.19 1828.98C152.42 1823.89 169.05 1820.66 174.14 1823.43C179.22 1826.2 182.91 1840.53 179.68 1845.61C176.45 1850.69 159.81 1856.69 154.73 1853.92C149.65 1851.15 145.96 1834.06 149.19 1828.98Z" fill="#0c0c0c" /><path d="M243.43 1704.24C249.44 1702.39 280.85 1714.87 287.78 1720.87C294.71 1726.88 291.02 1738.43 285.01 1740.28C279 1742.12 258.68 1737.97 251.75 1731.96C244.82 1725.96 237.43 1706.09 243.43 1704.24Z" fill="#1e1e1e" /><path d="M279.47 1909.36C283.16 1905.2 301.64 1901.51 307.18 1903.82C312.73 1906.13 316.42 1919.06 312.73 1923.22C309.03 1927.38 290.55 1931.07 285.01 1928.76C279.47 1926.45 275.77 1913.52 279.47 1909.36Z" fill="#191919" /><path d="M412.52 1853.92C415.29 1847.46 434.69 1844.68 440.23 1848.38C445.78 1852.07 448.55 1869.63 445.78 1876.1C443.01 1882.57 429.15 1890.88 423.6 1887.18C418.06 1883.49 409.74 1860.39 412.52 1853.92Z" fill="#141414" /><path d="M46.63 1937.08C49.86 1932.92 63.26 1931.07 66.03 1934.31C68.81 1937.54 66.5 1952.32 63.26 1956.48C60.03 1960.64 49.4 1962.49 46.63 1959.25C43.86 1956.02 43.4 1941.24 46.63 1937.08Z" fill="#1e1e1e" /></g><g filter="url(#b3)"><path d="M98.76 1951.94C99.83 1945.54 102.23 1935.68 106.76 1929.55C111.29 1923.42 118.49 1919.42 125.95 1915.16C133.41 1910.9 144.87 1906.36 151.54 1903.97C158.2 1901.57 161.4 1900.23 165.93 1900.77C170.46 1901.3 175.79 1903.43 178.72 1907.16C181.65 1910.9 180.05 1919.42 183.52 1923.16C186.98 1926.89 196.05 1926.35 199.51 1929.55C202.98 1932.75 203.77 1937.02 204.31 1942.35C204.84 1947.68 202.44 1956.47 202.71 1961.54C202.98 1966.6 206.71 1967.67 205.91 1972.73C205.11 1977.79 201.64 1987.12 197.91 1991.92C194.18 1996.72 188.58 1998.05 183.52 2001.51C178.45 2004.98 172.86 2011.64 167.53 2012.71C162.2 2013.77 155.27 2011.11 151.54 2007.91C147.8 2004.71 149.4 1997.52 145.14 1993.52C140.87 1989.52 132.35 1986.06 125.95 1983.92C119.55 1981.79 111.02 1983.39 106.76 1980.73C102.5 1978.06 101.7 1972.73 100.36 1967.93C99.03 1963.13 97.7 1958.34 98.76 1951.94Z" fill="#ffffff" /><path d="M183.52 1903.97C186.18 1901.83 195.78 1903.97 199.51 1907.16C203.24 1910.36 206.97 1919.42 205.91 1923.16C204.84 1926.89 196.85 1930.09 193.11 1929.55C189.38 1929.02 185.12 1924.22 183.52 1919.96C181.92 1915.69 180.85 1906.1 183.52 1903.97Z" fill="#000000" /><path d="M109.96 1987.12C114.49 1984.46 126.48 1982.32 132.35 1983.92C138.21 1985.52 142.47 1992.45 145.14 1996.72C147.8 2000.98 152.6 2006.85 148.34 2009.51C144.07 2012.18 126.75 2014.31 119.55 2012.71C112.36 2011.11 106.76 2004.18 105.16 1999.92C103.56 1995.65 105.43 1989.79 109.96 1987.12Z" fill="#141414" /></g><g filter="url(#b1)"><path d="M257.27 1971.89Q265.49 1969.78 278.44 1962.8" stroke="#ffffff" stroke-width="2.62" fill="none" stroke-linecap="round"/><path d="M371.54 1887Q378.1 1875.1 383.25 1870.37" stroke="#ffffff" stroke-width="2.06" fill="none" stroke-linecap="round"/><path d="M369.01 1864.5Q376.19 1865.84 389.12 1861.89" stroke="#dfdfdf" stroke-width="3.46" fill="none" stroke-linecap="round"/><path d="M354.08 1946.11Q360.63 1935.15 372.38 1931.89" stroke="#ffffff" stroke-width="2.07" fill="none" stroke-linecap="round"/><path d="M463.98 1881.86Q482.69 1882.13 497.15 1878.04" stroke="#f6f6f6" stroke-width="3.06" fill="none" stroke-linecap="round"/><path d="M479.69 1880.46Q495.36 1876.78 512.52 1875.35" stroke="#efefef" stroke-width="2.37" fill="none" stroke-linecap="round"/><path d="M368.49 1934.8Q379.37 1928.84 394.88 1921.07" stroke="#f5f5f5" stroke-width="2.85" fill="none" stroke-linecap="round"/><path d="M318.83 2016.29Q327.51 2005.05 339.4 2000.41" stroke="#dcdcdc" stroke-width="3.23" fill="none" stroke-linecap="round"/><path d="M462.89 1912.97Q479.27 1911.82 489.01 1903.03" stroke="#ededed" stroke-width="3.58" fill="none" stroke-linecap="round"/><path d="M328.02 1889.09Q331.87 1890.16 342.87 1886.15" stroke="#ffffff" stroke-width="2.57" fill="none" stroke-linecap="round"/><path d="M483.04 1852.6Q489.17 1843.72 496.63 1840.32" stroke="#dcdcdc" stroke-width="2.28" fill="none" stroke-linecap="round"/><path d="M452.42 1932.45Q465.56 1922.55 478.28 1908.85" stroke="#dadada" stroke-width="2.02" fill="none" stroke-linecap="round"/><path d="M345 1951.57Q354.44 1947.67 363.32 1947.49" stroke="#ffffff" stroke-width="1.62" fill="none" stroke-linecap="round"/><path d="M398.16 1890.96Q415.92 1877.94 426.93 1871.02" stroke="#dddddd" stroke-width="1.79" fill="none" stroke-linecap="round"/><path d="M249.16 2005.11Q256.08 2000.96 262.35 1999.72" stroke="#f1f1f1" stroke-width="2.04" fill="none" stroke-linecap="round"/><path d="M328.78 1975.67Q335.96 1975.95 339.64 1970.02" stroke="#ffffff" stroke-width="3.18" fill="none" stroke-linecap="round"/><path d="M260.75 1975.95Q269.71 1962.56 281.78 1956.77" stroke="#ececec" stroke-width="2.22" fill="none" stroke-linecap="round"/><path d="M504.46 1898.03Q518.94 1888.53 525.97 1885.7" stroke="#f7f7f7" stroke-width="2.62" fill="none" stroke-linecap="round"/><path d="M306.05 1973.7Q313.42 1970.3 328.04 1961.66" stroke="#ffffff" stroke-width="2.31" fill="none" stroke-linecap="round"/><path d="M308.72 2028.67Q309.38 2026.33 317.13 2018.77" stroke="#ffffff" stroke-width="2.5" fill="none" stroke-linecap="round"/><path d="M418.42 1925.65Q426.69 1918.31 436.59 1915.53" stroke="#dbdbdb" stroke-width="2.47" fill="none" stroke-linecap="round"/><path d="M284.85 1974.59Q298.62 1968.84 313.11 1967.47" stroke="#ececec" stroke-width="2.57" fill="none" stroke-linecap="round"/><path d="M367.1 1977.02Q383.17 1976.39 397.13 1971.47" stroke="#fafafa" stroke-width="3.32" fill="none" stroke-linecap="round"/><path d="M284.26 2014.35Q297.69 2010.49 305.72 1998.93" stroke="#ffffff" stroke-width="1.61" fill="none" stroke-linecap="round"/><path d="M306.88 1901.16Q313.31 1893.4 318.87 1892.63" stroke="#e8e8e8" stroke-width="3.49" fill="none" stroke-linecap="round"/><path d="M451.25 1929.34Q464.27 1913.59 473.9 1902.74" stroke="#e9e9e9" stroke-width="2.88" fill="none" stroke-linecap="round"/><path d="M430.85 1891.64Q438.28 1893.28 449.81 1889.17" stroke="#e0e0e0" stroke-width="2.96" fill="none" stroke-linecap="round"/><path d="M269 1954.72Q280.41 1947.68 284.48 1941.2" stroke="#efefef" stroke-width="2.83" fill="none" stroke-linecap="round"/><path d="M331.07 1893.8Q339.47 1883.86 355.61 1868.77" stroke="#ffffff" stroke-width="3.01" fill="none" stroke-linecap="round"/><path d="M437.16 1887.78Q440.93 1876.14 451.44 1867.67" stroke="#efefef" stroke-width="3.39" fill="none" stroke-linecap="round"/><path d="M387.26 1884.96Q406.33 1884.02 418.32 1876.7" stroke="#d9d9d9" stroke-width="2.76" fill="none" stroke-linecap="round"/><path d="M228.88 2011.16Q240.59 2002.95 257.49 2002.06" stroke="#ffffff" stroke-width="2.81" fill="none" stroke-linecap="round"/><path d="M410.24 1930.98Q417.75 1927.23 429.09 1925.93" stroke="#e7e7e7" stroke-width="2.85" fill="none" stroke-linecap="round"/><path d="M500.9 1856.12Q509.78 1844.19 515.71 1837.42" stroke="#e6e6e6" stroke-width="1.72" fill="none" stroke-linecap="round"/><path d="M339.06 1972.1Q347.01 1970.96 361.97 1964.38" stroke="#e3e3e3" stroke-width="1.68" fill="none" stroke-linecap="round"/><path d="M320.2 1942.48Q329.01 1939.34 334.34 1936.3" stroke="#e1e1e1" stroke-width="3.3" fill="none" stroke-linecap="round"/><path d="M430.12 1883.49Q446.54 1882.23 462.41 1874.17" stroke="#ffffff" stroke-width="2.38" fill="none" stroke-linecap="round"/><path d="M320.08 1957.64Q334.91 1948.58 347.29 1945.16" stroke="#ffffff" stroke-width="2.67" fill="none" stroke-linecap="round"/><path d="M498.06 1881.53Q512.76 1882.42 522.89 1879.32" stroke="#ffffff" stroke-width="2.32" fill="none" stroke-linecap="round"/><path d="M261.74 1943.84Q268.43 1937.43 281.25 1938.89" stroke="#eeeeee" stroke-width="2.76" fill="none" stroke-linecap="round"/><path d="M344.38 1962.74Q359.94 1956.46 372.99 1954.29" stroke="#eeeeee" stroke-width="2.36" fill="none" stroke-linecap="round"/><path d="M366.33 1892.51Q372.4 1889.88 386.2 1881.89" stroke="#f6f6f6" stroke-width="3.21" fill="none" stroke-linecap="round"/><path d="M425.04 1951.63Q438.66 1941.43 457.33 1935.76" stroke="#fefefe" stroke-width="3.22" fill="none" stroke-linecap="round"/><path d="M326.3 1997.45Q335.16 1992.87 345.87 1986.15" stroke="#f7f7f7" stroke-width="2.99" fill="none" stroke-linecap="round"/><path d="M327.81 1889.68Q346.21 1882.95 357.49 1881.22" stroke="#ffffff" stroke-width="3.38" fill="none" stroke-linecap="round"/><path d="M414.74 1870.18Q424.86 1866.43 431.95 1866.07" stroke="#e3e3e3" stroke-width="2.01" fill="none" stroke-linecap="round"/><path d="M369.01 1976.25Q377.77 1967.67 389.27 1956.61" stroke="#ebebeb" stroke-width="1.99" fill="none" stroke-linecap="round"/><path d="M435.79 1920.23Q447.96 1903.81 457.55 1895.35" stroke="#fdfdfd" stroke-width="2.79" fill="none" stroke-linecap="round"/><path d="M350.93 1936.5Q362.2 1936.41 371.2 1934.05" stroke="#ebebeb" stroke-width="2.29" fill="none" stroke-linecap="round"/><path d="M355.36 1938.96Q362.47 1929.5 377.56 1917.65" stroke="#efefef" stroke-width="2.04" fill="none" stroke-linecap="round"/><path d="M398.99 1951.92Q403.59 1945.39 413.77 1933.89" stroke="#e9e9e9" stroke-width="2.26" fill="none" stroke-linecap="round"/><path d="M381.41 1864.47Q391.29 1857.56 406.12 1847.33" stroke="#f4f4f4" stroke-width="1.77" fill="none" stroke-linecap="round"/><path d="M283.34 1954.98Q289.15 1951.42 293.69 1942.56" stroke="#f3f3f3" stroke-width="2.93" fill="none" stroke-linecap="round"/><path d="M308.73 2013.74Q317.09 2004.47 333.18 1995.23" stroke="#ffffff" stroke-width="3.14" fill="none" stroke-linecap="round"/><path d="M396.59 1876.91Q406.92 1878.22 409.52 1874.94" stroke="#fdfdfd" stroke-width="2.66" fill="none" stroke-linecap="round"/><path d="M424.91 1965.57Q433.84 1954.77 450.2 1947.51" stroke="#dddddd" stroke-width="2.25" fill="none" stroke-linecap="round"/><path d="M350.54 1886.16Q363.08 1878.08 376.87 1866.83" stroke="#f8f8f8" stroke-width="2.55" fill="none" stroke-linecap="round"/><path d="M388.78 1910.91Q395.42 1901.2 405.32 1894.32" stroke="#e2e2e2" stroke-width="3.43" fill="none" stroke-linecap="round"/><path d="M344.81 1880.3Q352.77 1872.35 354.6 1867.11" stroke="#fafafa" stroke-width="2.06" fill="none" stroke-linecap="round"/><path d="M420.43 1927.08Q430.92 1921.46 443.49 1919.5" stroke="#f7f7f7" stroke-width="3.26" fill="none" stroke-linecap="round"/><path d="M434.19 1932.67Q450.1 1919.33 460.25 1911.89" stroke="#fbfbfb" stroke-width="3.14" fill="none" stroke-linecap="round"/><path d="M497.15 1888.87Q505.75 1891.97 516.34 1887.14" stroke="#e1e1e1" stroke-width="2.39" fill="none" stroke-linecap="round"/><path d="M412.13 1893.89Q424.61 1885.65 435.22 1873.36" stroke="#ffffff" stroke-width="3.34" fill="none" stroke-linecap="round"/><path d="M437.55 1938.98Q450.6 1938.78 464.8 1935.86" stroke="#e7e7e7" stroke-width="1.86" fill="none" stroke-linecap="round"/><path d="M354.49 1985.66Q359.46 1975.03 370.88 1964.24" stroke="#e7e7e7" stroke-width="2.49" fill="none" stroke-linecap="round"/><path d="M441.03 1920.18Q449.76 1910.45 464.87 1903.23" stroke="#fcfcfc" stroke-width="3.27" fill="none" stroke-linecap="round"/><path d="M530.89 1890.95Q541.21 1890.03 548.18 1883.34" stroke="#dfdfdf" stroke-width="2.29" fill="none" stroke-linecap="round"/><path d="M295.48 1989.42Q298.35 1980.13 306.76 1973.41" stroke="#e3e3e3" stroke-width="1.65" fill="none" stroke-linecap="round"/><path d="M471.67 1875.3Q485.73 1872.65 493.99 1864.24" stroke="#f8f8f8" stroke-width="1.94" fill="none" stroke-linecap="round"/><path d="M457.46 1861.08Q464.69 1857.32 476.03 1858.28" stroke="#ececec" stroke-width="3.18" fill="none" stroke-linecap="round"/><path d="M446.87 1888.5Q453.58 1885.75 461.39 1876.77" stroke="#ffffff" stroke-width="1.77" fill="none" stroke-linecap="round"/><path d="M356.7 1972.46Q365.24 1974.32 371.86 1968.18" stroke="#ffffff" stroke-width="3.42" fill="none" stroke-linecap="round"/><path d="M257.92 1945.51Q270 1929.86 278.37 1922.01" stroke="#e8e8e8" stroke-width="1.88" fill="none" stroke-linecap="round"/><path d="M415.34 1960.7Q429.95 1946.52 436.83 1933.32" stroke="#f6f6f6" stroke-width="2.33" fill="none" stroke-linecap="round"/><path d="M405.5 1917.38Q415.39 1907.6 430.49 1901.17" stroke="#ffffff" stroke-width="2.05" fill="none" stroke-linecap="round"/><path d="M224.97 2013.39Q230.69 2003.6 239.52 1997.77" stroke="#eaeaea" stroke-width="2.67" fill="none" stroke-linecap="round"/><path d="M316.59 1897.33Q329.76 1896.46 343.37 1891.07" stroke="#fbfbfb" stroke-width="2.23" fill="none" stroke-linecap="round"/><path d="M381.36 1983.63Q395.12 1978.27 412.79 1970.06" stroke="#ffffff" stroke-width="2.66" fill="none" stroke-linecap="round"/><path d="M505.97 1860.55Q516.43 1857.06 522.73 1854.84" stroke="#f4f4f4" stroke-width="2.1" fill="none" stroke-linecap="round"/><path d="M288.21 2004.77Q297.35 1997.85 312.88 1994.38" stroke="#ffffff" stroke-width="2.01" fill="none" stroke-linecap="round"/><path d="M382.53 1973.16Q397.29 1969.37 404.22 1960.9" stroke="#e4e4e4" stroke-width="2.46" fill="none" stroke-linecap="round"/><path d="M342.85 1970.77Q352.65 1967 359.25 1964.39" stroke="#d9d9d9" stroke-width="2.18" fill="none" stroke-linecap="round"/><path d="M328.46 1879.68Q348.73 1874.2 361.82 1866.56" stroke="#ffffff" stroke-width="2.58" fill="none" stroke-linecap="round"/><path d="M327.53 1906.64Q334.23 1906.98 337.95 1899.72" stroke="#e4e4e4" stroke-width="1.97" fill="none" stroke-linecap="round"/><path d="M314.28 1991.86Q322.53 1982.18 336.21 1970.92" stroke="#fdfdfd" stroke-width="2.95" fill="none" stroke-linecap="round"/><path d="M230.22 2021.82Q244.48 2020.14 252.75 2016.79" stroke="#e1e1e1" stroke-width="2.39" fill="none" stroke-linecap="round"/><path d="M264.41 1952.48Q273.87 1952.01 284.93 1943.85" stroke="#eaeaea" stroke-width="2.94" fill="none" stroke-linecap="round"/><path d="M270.58 1939.02Q274.05 1930.81 280.24 1929.01" stroke="#ececec" stroke-width="2.91" fill="none" stroke-linecap="round"/><path d="M386.33 1991.7Q393.86 1987.47 397.61 1984.88" stroke="#ffffff" stroke-width="3.55" fill="none" stroke-linecap="round"/><path d="M377.97 1889.69Q385.84 1879.28 396.73 1875.5" stroke="#ededed" stroke-width="2.91" fill="none" stroke-linecap="round"/><path d="M340.06 1963.39Q351.24 1949.22 358.96 1938.95" stroke="#f0f0f0" stroke-width="2.14" fill="none" stroke-linecap="round"/><path d="M468.97 1922.67Q487.69 1916.98 501.79 1913.29" stroke="#eaeaea" stroke-width="3.49" fill="none" stroke-linecap="round"/><path d="M505.72 1878.33Q520.15 1867.29 530.32 1859.87" stroke="#efefef" stroke-width="3.52" fill="none" stroke-linecap="round"/><path d="M289.05 1989.23Q300.9 1977.55 305.59 1970.85" stroke="#f8f8f8" stroke-width="2.66" fill="none" stroke-linecap="round"/><path d="M454.6 1870Q468.67 1871.16 474.94 1864.62" stroke="#f1f1f1" stroke-width="2.43" fill="none" stroke-linecap="round"/><path d="M447.16 1852.44Q460.89 1847.5 470.71 1841.43" stroke="#ffffff" stroke-width="2.16" fill="none" stroke-linecap="round"/><path d="M292.34 2027.71Q309.06 2023.4 320.24 2023.34" stroke="#f1f1f1" stroke-width="2.37" fill="none" stroke-linecap="round"/><path d="M317.82 1912.78Q325.6 1906.02 341.28 1898.62" stroke="#dfdfdf" stroke-width="3.54" fill="none" stroke-linecap="round"/><path d="M387.22 1953.07Q400.07 1947.4 409.44 1934.92" stroke="#f6f6f6" stroke-width="2.14" fill="none" stroke-linecap="round"/><path d="M451.82 1900.21Q459.42 1895.11 465.41 1895.52" stroke="#dadada" stroke-width="2.13" fill="none" stroke-linecap="round"/><path d="M486.88 1915.55Q504.35 1906.11 513.86 1900.68" stroke="#fcfcfc" stroke-width="3.16" fill="none" stroke-linecap="round"/><path d="M468.55 1907.72Q479.57 1899.65 494.74 1891.81" stroke="#f9f9f9" stroke-width="3.3" fill="none" stroke-linecap="round"/><path d="M283.75 1967.32Q288.95 1963.33 294.52 1956.87" stroke="#f9f9f9" stroke-width="3.5" fill="none" stroke-linecap="round"/><path d="M257.06 1942.06Q268.05 1934.58 272.1 1933.02" stroke="#e6e6e6" stroke-width="1.68" fill="none" stroke-linecap="round"/><path d="M418.09 1965.89Q431.5 1951.61 442.68 1942.29" stroke="#ffffff" stroke-width="3.31" fill="none" stroke-linecap="round"/><path d="M307.28 2004.66Q313.16 2001.05 320.38 1989.86" stroke="#e7e7e7" stroke-width="2.37" fill="none" stroke-linecap="round"/><path d="M271.49 1996.15Q281.4 1985 293.95 1973.03" stroke="#ffffff" stroke-width="2.13" fill="none" stroke-linecap="round"/><path d="M379.45 1961.82Q390.2 1955.6 398.53 1952.47" stroke="#e0e0e0" stroke-width="1.62" fill="none" stroke-linecap="round"/><path d="M405.36 1950.27Q414.04 1947.93 419.85 1946.38" stroke="#f3f3f3" stroke-width="3.26" fill="none" stroke-linecap="round"/><path d="M376.23 1924.34Q386.14 1921.64 389.86 1918.64" stroke="#dadada" stroke-width="2.56" fill="none" stroke-linecap="round"/><path d="M176.1 1772.77Q179.7 1765.69 191.32 1762.82" stroke="#d7d7d7" stroke-width="2.95" fill="none" stroke-linecap="round"/><path d="M111.35 1784.8Q115.78 1779.77 125.6 1771.23" stroke="#d5d5d5" stroke-width="2.99" fill="none" stroke-linecap="round"/><path d="M186.55 1868.29Q199.46 1855.74 207.16 1839.5" stroke="#d8d8d8" stroke-width="2.82" fill="none" stroke-linecap="round"/><path d="M237.48 1876.45Q248.19 1866.22 259.35 1847.99" stroke="#c3c3c3" stroke-width="2.36" fill="none" stroke-linecap="round"/><path d="M202.19 1869.33Q210.2 1858.35 220.31 1844.42" stroke="#e7e7e7" stroke-width="2.8" fill="none" stroke-linecap="round"/><path d="M119.96 1859.74Q120.99 1843.53 129.13 1832.19" stroke="#e2e2e2" stroke-width="3.45" fill="none" stroke-linecap="round"/><path d="M112.19 1833.7Q115.29 1818.15 125.43 1810.63" stroke="#c3c3c3" stroke-width="3.38" fill="none" stroke-linecap="round"/><path d="M187.67 1833.38Q195.05 1817.36 195.76 1806.36" stroke="#e7e7e7" stroke-width="3.3" fill="none" stroke-linecap="round"/><path d="M215.5 1786.64Q223.64 1781.52 229.73 1774.3" stroke="#f1f1f1" stroke-width="3.17" fill="none" stroke-linecap="round"/><path d="M163.65 1795.62Q170.44 1789.11 176.25 1783.38" stroke="#cecece" stroke-width="2.88" fill="none" stroke-linecap="round"/><path d="M122.59 1883.38Q126.59 1876.21 137.62 1866.59" stroke="#e8e8e8" stroke-width="2.3" fill="none" stroke-linecap="round"/><path d="M227.67 1819.26Q230.18 1803.36 235.82 1787.78" stroke="#e6e6e6" stroke-width="3.35" fill="none" stroke-linecap="round"/><path d="M253.14 1790.6Q259.47 1785.49 264.94 1781.5" stroke="#ebebeb" stroke-width="3.04" fill="none" stroke-linecap="round"/><path d="M218.04 1868.01Q219.83 1856.93 228.23 1848.33" stroke="#c9c9c9" stroke-width="3.06" fill="none" stroke-linecap="round"/><path d="M122.61 1886.19Q126.59 1877.24 136.9 1869.17" stroke="#dcdcdc" stroke-width="1.89" fill="none" stroke-linecap="round"/><path d="M177.59 1776.21Q184.85 1764.76 186.21 1760.43" stroke="#d1d1d1" stroke-width="2.8" fill="none" stroke-linecap="round"/><path d="M185.69 1783.06Q187.64 1777.29 192.8 1772.6" stroke="#e6e6e6" stroke-width="2.46" fill="none" stroke-linecap="round"/><path d="M174.12 1840.64Q176.59 1830.26 184.14 1817.94" stroke="#dadada" stroke-width="2.91" fill="none" stroke-linecap="round"/><path d="M271.17 1804.09Q279.99 1797.99 281.82 1784.34" stroke="#e8e8e8" stroke-width="2.2" fill="none" stroke-linecap="round"/><path d="M120.7 1761.99Q126.96 1747.5 140.43 1741.28" stroke="#f1f1f1" stroke-width="2.28" fill="none" stroke-linecap="round"/><path d="M106.81 1807.69Q111.09 1793.45 114.89 1777.33" stroke="#eeeeee" stroke-width="1.85" fill="none" stroke-linecap="round"/><path d="M138.06 1863.82Q144 1856.43 152.32 1847.04" stroke="#efefef" stroke-width="3.5" fill="none" stroke-linecap="round"/><path d="M193.32 1808.2Q199.74 1799.99 212.23 1796.7" stroke="#ededed" stroke-width="3.23" fill="none" stroke-linecap="round"/><path d="M166.28 1853.43Q176.25 1836.75 186.39 1827.9" stroke="#dbdbdb" stroke-width="3.3" fill="none" stroke-linecap="round"/><path d="M173.31 1870.73Q177.49 1860 184.02 1853.79" stroke="#d8d8d8" stroke-width="3.52" fill="none" stroke-linecap="round"/><path d="M205.73 1860.47Q209.7 1849.91 212.33 1841.27" stroke="#bfbfbf" stroke-width="3.34" fill="none" stroke-linecap="round"/><path d="M122.55 1841.48Q128.49 1835.37 138.25 1832.06" stroke="#dadada" stroke-width="3.56" fill="none" stroke-linecap="round"/><path d="M125.36 1769.2Q134.1 1765.86 140.07 1758.83" stroke="#bfbfbf" stroke-width="1.65" fill="none" stroke-linecap="round"/><path d="M224.46 1807.99Q224.36 1794.83 230.75 1784.59" stroke="#c1c1c1" stroke-width="2.63" fill="none" stroke-linecap="round"/><path d="M183.5 1776.09Q181.86 1767.05 188.08 1764.21" stroke="#f1f1f1" stroke-width="1.67" fill="none" stroke-linecap="round"/><path d="M228.37 1806.04Q238.3 1801.38 240.23 1791.6" stroke="#d3d3d3" stroke-width="2.46" fill="none" stroke-linecap="round"/><path d="M256.77 1834.54Q265.09 1821.57 271.9 1815.41" stroke="#cbcbcb" stroke-width="2.31" fill="none" stroke-linecap="round"/><path d="M227.71 1799.99Q239.02 1790.76 242.98 1785.78" stroke="#d9d9d9" stroke-width="2.45" fill="none" stroke-linecap="round"/><path d="M197.65 1805.64Q203.57 1803.32 208.78 1792.93" stroke="#c4c4c4" stroke-width="3.54" fill="none" stroke-linecap="round"/><path d="M273.47 1804.67Q280.17 1789.13 279.17 1781.9" stroke="#e5e5e5" stroke-width="3.16" fill="none" stroke-linecap="round"/><path d="M120.12 1831.71Q122.33 1823.55 124.19 1818.76" stroke="#e0e0e0" stroke-width="2.65" fill="none" stroke-linecap="round"/><path d="M140.63 1887.06Q141.6 1875.09 146.19 1856.47" stroke="#dedede" stroke-width="2.52" fill="none" stroke-linecap="round"/><path d="M138.22 1875.98Q152.94 1868.94 166.18 1854.83" stroke="#ececec" stroke-width="2.93" fill="none" stroke-linecap="round"/><path d="M160.33 1831.83Q167.93 1820.91 174.65 1803.9" stroke="#ececec" stroke-width="3.11" fill="none" stroke-linecap="round"/><path d="M135.89 1784.94Q135.44 1773.85 140.68 1766.09" stroke="#e7e7e7" stroke-width="1.84" fill="none" stroke-linecap="round"/><path d="M238.26 1768.01Q243.92 1761.32 247.6 1747.54" stroke="#c0c0c0" stroke-width="1.77" fill="none" stroke-linecap="round"/><path d="M275.2 1808.66Q288.13 1795.87 295.68 1784.5" stroke="#d6d6d6" stroke-width="3.18" fill="none" stroke-linecap="round"/><path d="M145.47 1779.61Q161.5 1768.48 172.09 1759.95" stroke="#d0d0d0" stroke-width="1.81" fill="none" stroke-linecap="round"/><path d="M111.99 1770.44Q116.48 1754.61 123.35 1744.21" stroke="#e2e2e2" stroke-width="3.4" fill="none" stroke-linecap="round"/><path d="M172.7 1889.62Q175.54 1884.72 175.96 1875.46" stroke="#d6d6d6" stroke-width="1.69" fill="none" stroke-linecap="round"/><path d="M198.54 1743.82Q203.66 1734.44 201.5 1731.67" stroke="#d7d7d7" stroke-width="3.24" fill="none" stroke-linecap="round"/><path d="M135.47 1794.52Q142.52 1786.68 154.66 1778.23" stroke="#f1f1f1" stroke-width="3.24" fill="none" stroke-linecap="round"/><path d="M109.8 1814.2Q111.31 1797.37 116.27 1779.71" stroke="#ebebeb" stroke-width="2.45" fill="none" stroke-linecap="round"/><path d="M179.47 1853.27Q186.78 1845.53 188.12 1840.16" stroke="#ededed" stroke-width="2.23" fill="none" stroke-linecap="round"/><path d="M220.89 1892.59Q231.97 1888.44 235.05 1876.52" stroke="#e9e9e9" stroke-width="2.05" fill="none" stroke-linecap="round"/><path d="M115.37 1833.46Q117.64 1831.12 118.99 1821.39" stroke="#cdcdcd" stroke-width="3.24" fill="none" stroke-linecap="round"/><path d="M130.2 1758.02Q131.73 1750.47 139.85 1748.57" stroke="#dcdcdc" stroke-width="2.34" fill="none" stroke-linecap="round"/><path d="M166.78 1832.01Q175.27 1826.42 176.57 1821.82" stroke="#d9d9d9" stroke-width="3.3" fill="none" stroke-linecap="round"/><path d="M103.07 1773.08Q103.67 1760.46 108.96 1744.21" stroke="#e3e3e3" stroke-width="3.59" fill="none" stroke-linecap="round"/><path d="M131.77 1798.71Q137.49 1792.95 148.61 1784.28" stroke="#e7e7e7" stroke-width="2.49" fill="none" stroke-linecap="round"/><path d="M168.08 1749.5Q174.96 1739.44 184.25 1721.83" stroke="#d1d1d1" stroke-width="2.55" fill="none" stroke-linecap="round"/><path d="M251.48 1800.14Q255.66 1796.76 259.19 1788.07" stroke="#c8c8c8" stroke-width="2.23" fill="none" stroke-linecap="round"/><path d="M111.14 1805.67Q122.57 1794.32 131.17 1776.02" stroke="#c9c9c9" stroke-width="2.48" fill="none" stroke-linecap="round"/><path d="M202.18 1835.65Q206.14 1824.92 205.36 1819.81" stroke="#dfdfdf" stroke-width="2.44" fill="none" stroke-linecap="round"/><path d="M169.48 1879.34Q180.36 1865.46 185.91 1850.68" stroke="#c4c4c4" stroke-width="2.27" fill="none" stroke-linecap="round"/><path d="M96.77 1903.36Q102.04 1897.6 103.45 1888.71" stroke="#ececec" stroke-width="2.79" fill="none" stroke-linecap="round"/><path d="M49.49 1991.85Q56.64 1974.55 63.46 1960.18" stroke="#d5d5d5" stroke-width="2.72" fill="none" stroke-linecap="round"/><path d="M82.42 1964.64Q87.51 1958 97.5 1945.39" stroke="#e3e3e3" stroke-width="1.92" fill="none" stroke-linecap="round"/><path d="M69.11 2001Q75.01 1996.46 74.82 1988.07" stroke="#c9c9c9" stroke-width="2.99" fill="none" stroke-linecap="round"/><path d="M91.66 1955.2Q95.87 1947.48 108.19 1937.1" stroke="#e9e9e9" stroke-width="3.43" fill="none" stroke-linecap="round"/><path d="M85.59 2016.13Q88.53 2004 98.78 1997.4" stroke="#c1c1c1" stroke-width="3.45" fill="none" stroke-linecap="round"/><path d="M88.51 2010.2Q95.28 1996.95 100.99 1991.59" stroke="#c7c7c7" stroke-width="2.4" fill="none" stroke-linecap="round"/><path d="M46.31 1912.53Q46.33 1902.02 51.71 1898.41" stroke="#d6d6d6" stroke-width="3.27" fill="none" stroke-linecap="round"/><path d="M68.35 1976.61Q78.79 1963.24 84.3 1949.86" stroke="#c1c1c1" stroke-width="1.94" fill="none" stroke-linecap="round"/><path d="M58.88 1915.53Q62.08 1902.1 68.8 1894.21" stroke="#e4e4e4" stroke-width="3.59" fill="none" stroke-linecap="round"/><path d="M82.6 1882.87Q90.61 1870.51 98 1855.92" stroke="#ebebeb" stroke-width="2.56" fill="none" stroke-linecap="round"/><path d="M82.88 1887.59Q87.9 1878.49 98.06 1867.31" stroke="#e9e9e9" stroke-width="2.49" fill="none" stroke-linecap="round"/><path d="M60.79 1977.67Q71.55 1965.1 85.47 1952.77" stroke="#d2d2d2" stroke-width="1.88" fill="none" stroke-linecap="round"/><path d="M73.88 1907.29Q79.48 1896.33 84.16 1877.23" stroke="#c9c9c9" stroke-width="1.97" fill="none" stroke-linecap="round"/><path d="M46.91 1976.87Q49.39 1972.76 49.59 1960.53" stroke="#e5e5e5" stroke-width="3.51" fill="none" stroke-linecap="round"/><path d="M95.49 1947.14Q94.71 1928.56 98.63 1917.14" stroke="#d2d2d2" stroke-width="3.08" fill="none" stroke-linecap="round"/><path d="M78.75 1927.72Q79.76 1919.98 79.09 1912.34" stroke="#dadada" stroke-width="3.09" fill="none" stroke-linecap="round"/><path d="M75.4 2003.83Q82.12 1994.8 91.16 1985.69" stroke="#cbcbcb" stroke-width="1.95" fill="none" stroke-linecap="round"/><path d="M83.64 1932.88Q81.44 1918.8 82.22 1912.04" stroke="#c0c0c0" stroke-width="2.83" fill="none" stroke-linecap="round"/><path d="M88.39 1998.97Q93.05 1989.47 95.42 1983.8" stroke="#cbcbcb" stroke-width="2.26" fill="none" stroke-linecap="round"/><path d="M50.87 1877.99Q59.39 1874.86 60.08 1868.54" stroke="#e5e5e5" stroke-width="1.82" fill="none" stroke-linecap="round"/><path d="M81.39 1892.75Q88.64 1878.93 89.2 1871.75" stroke="#bfbfbf" stroke-width="2.77" fill="none" stroke-linecap="round"/><path d="M72.71 1967.31Q74.36 1957.9 72.46 1946.97" stroke="#cfcfcf" stroke-width="1.62" fill="none" stroke-linecap="round"/><path d="M45.77 2007.83Q45.02 1999.07 47.72 1995.12" stroke="#dadada" stroke-width="1.7" fill="none" stroke-linecap="round"/><path d="M73.54 1967.02Q76.22 1954.06 83.19 1942.9" stroke="#e5e5e5" stroke-width="2.17" fill="none" stroke-linecap="round"/><path d="M89.56 1891.02Q96.33 1873.33 100.39 1859.36" stroke="#d1d1d1" stroke-width="2.16" fill="none" stroke-linecap="round"/><path d="M85.37 1920.17Q96.66 1909.05 102.44 1897.42" stroke="#cdcdcd" stroke-width="2.97" fill="none" stroke-linecap="round"/><path d="M67.71 1867.95Q66.52 1858.5 72.44 1852.94" stroke="#efefef" stroke-width="2.94" fill="none" stroke-linecap="round"/><path d="M67.59 1956.35Q68.72 1947.12 73.83 1931.99" stroke="#e7e7e7" stroke-width="2.49" fill="none" stroke-linecap="round"/><path d="M74.44 1921.43Q86.8 1904.86 92.07 1894.82" stroke="#ededed" stroke-width="2.04" fill="none" stroke-linecap="round"/><path d="M49.52 1928.24Q53.92 1925.92 55.93 1915.83" stroke="#e6e6e6" stroke-width="3.26" fill="none" stroke-linecap="round"/><path d="M52.18 1915.47Q56.67 1909.52 54.78 1895.32" stroke="#cccccc" stroke-width="2.72" fill="none" stroke-linecap="round"/><path d="M77.36 2021.07Q76.13 2011.44 81.57 2007.7" stroke="#d7d7d7" stroke-width="1.78" fill="none" stroke-linecap="round"/><path d="M82.08 1891.65Q81.04 1879.27 80.62 1862.63" stroke="#dcdcdc" stroke-width="2.36" fill="none" stroke-linecap="round"/><path d="M47.26 2001.39Q48.05 1994.77 55.79 1985.98" stroke="#eeeeee" stroke-width="3.09" fill="none" stroke-linecap="round"/><path d="M94.95 2024.7Q94.85 2013.63 95.32 2009.02" stroke="#d7d7d7" stroke-width="3.23" fill="none" stroke-linecap="round"/><path d="M57.91 1995.45Q56.5 1976.7 62.13 1964.29" stroke="#c1c1c1" stroke-width="2.76" fill="none" stroke-linecap="round"/><path d="M44.57 1974.9Q48.22 1961.49 53.78 1942.53" stroke="#e5e5e5" stroke-width="2.35" fill="none" stroke-linecap="round"/><path d="M86.93 1959.21Q88.59 1949.53 95.99 1939.46" stroke="#d9d9d9" stroke-width="2.46" fill="none" stroke-linecap="round"/><path d="M98.34 1887.95Q103.13 1878.96 114.6 1868.94" stroke="#c8c8c8" stroke-width="2.59" fill="none" stroke-linecap="round"/><path d="M70.16 1987.93Q77.47 1986.67 78.52 1978.13" stroke="#c6c6c6" stroke-width="1.76" fill="none" stroke-linecap="round"/><path d="M50.29 1944.4Q49.1 1932.81 52.77 1918.46" stroke="#dfdfdf" stroke-width="1.75" fill="none" stroke-linecap="round"/><path d="M81.64 2012.91Q87.47 2007.09 90.17 2004.28" stroke="#d4d4d4" stroke-width="2.52" fill="none" stroke-linecap="round"/><path d="M46.04 1964.14Q43.16 1948.95 46.89 1931.71" stroke="#dbdbdb" stroke-width="1.66" fill="none" stroke-linecap="round"/><path d="M49.69 1941.95Q48.25 1932.48 53.43 1927.47" stroke="#e8e8e8" stroke-width="1.87" fill="none" stroke-linecap="round"/><path d="M85.68 1878.45Q97.73 1865.25 103.44 1853.87" stroke="#f0f0f0" stroke-width="2.43" fill="none" stroke-linecap="round"/><path d="M78.63 1997.26Q80.52 1988.89 79.18 1985.05" stroke="#cacaca" stroke-width="2.59" fill="none" stroke-linecap="round"/><path d="M52.94 1904.45Q56.16 1900.66 54.14 1891.14" stroke="#e4e4e4" stroke-width="2.48" fill="none" stroke-linecap="round"/><path d="M94.95 1949.78Q95.99 1942.07 99.43 1939.06" stroke="#e0e0e0" stroke-width="3.53" fill="none" stroke-linecap="round"/><path d="M78.45 1912.58Q84.89 1903.53 86.25 1902.08" stroke="#f0f0f0" stroke-width="3.11" fill="none" stroke-linecap="round"/><path d="M289.34 1701.69Q299.23 1694.94 304.96 1687.57" stroke="#d6d6d6" stroke-width="3.21" fill="none" stroke-linecap="round"/><path d="M285.56 1672.3Q292.6 1655.34 302.34 1640.58" stroke="#dbdbdb" stroke-width="2.18" fill="none" stroke-linecap="round"/><path d="M245.32 1671.8Q256.86 1663.01 264.01 1647.08" stroke="#eeeeee" stroke-width="2.13" fill="none" stroke-linecap="round"/><path d="M272.15 1732.01Q284.05 1724.5 288.96 1715.94" stroke="#efefef" stroke-width="1.81" fill="none" stroke-linecap="round"/><path d="M237.19 1651.37Q244.45 1642.92 254.71 1637.19" stroke="#d7d7d7" stroke-width="2.21" fill="none" stroke-linecap="round"/><path d="M248.42 1721.94Q250.91 1715.32 252.99 1706.01" stroke="#dddddd" stroke-width="3.07" fill="none" stroke-linecap="round"/><path d="M243.46 1763.65Q253.55 1759.12 262.47 1749.53" stroke="#cdcdcd" stroke-width="2.17" fill="none" stroke-linecap="round"/><path d="M248.89 1705.1Q255.94 1696.87 256.03 1682.57" stroke="#dadada" stroke-width="3" fill="none" stroke-linecap="round"/><path d="M238.29 1642.51Q249.4 1636.61 258.66 1628.83" stroke="#f0f0f0" stroke-width="2.2" fill="none" stroke-linecap="round"/><path d="M254.83 1738.05Q263.84 1729.5 280.48 1716.02" stroke="#c1c1c1" stroke-width="2.24" fill="none" stroke-linecap="round"/><path d="M236.72 1747.63Q247.91 1742.67 258.18 1734.96" stroke="#c0c0c0" stroke-width="2.34" fill="none" stroke-linecap="round"/><path d="M244.98 1639.17Q246.47 1628.8 254.13 1623.6" stroke="#d2d2d2" stroke-width="2.92" fill="none" stroke-linecap="round"/><path d="M278.19 1678.16Q286.61 1667.25 301.63 1661.33" stroke="#ececec" stroke-width="1.88" fill="none" stroke-linecap="round"/><path d="M259.5 1716.36Q274.66 1704.67 284.55 1699.03" stroke="#e4e4e4" stroke-width="3.39" fill="none" stroke-linecap="round"/><path d="M287.88 1675.8Q291.76 1667.43 297.72 1660.2" stroke="#d9d9d9" stroke-width="2.11" fill="none" stroke-linecap="round"/><path d="M248.99 1766.18Q257.1 1760.62 258.28 1751.57" stroke="#e7e7e7" stroke-width="3.43" fill="none" stroke-linecap="round"/><path d="M289.18 1676.02Q294.35 1660.85 296.84 1647.53" stroke="#ededed" stroke-width="3.21" fill="none" stroke-linecap="round"/><path d="M254.84 1720.52Q257.73 1716.07 264.04 1707.84" stroke="#d8d8d8" stroke-width="2.64" fill="none" stroke-linecap="round"/><path d="M261.84 1767.18Q266.47 1758.56 266.63 1754.65" stroke="#dcdcdc" stroke-width="2.61" fill="none" stroke-linecap="round"/><path d="M263.12 1724.28Q274.23 1716.39 278.12 1702.83" stroke="#d6d6d6" stroke-width="3.06" fill="none" stroke-linecap="round"/><path d="M271.11 1763.66Q280 1756.94 287.1 1745.94" stroke="#d2d2d2" stroke-width="2.87" fill="none" stroke-linecap="round"/><path d="M228.56 1643.56Q230.29 1633.15 233.59 1628.85" stroke="#e7e7e7" stroke-width="2.97" fill="none" stroke-linecap="round"/><path d="M239.33 1658.01Q251.73 1646.27 258.54 1631.37" stroke="#d2d2d2" stroke-width="3.27" fill="none" stroke-linecap="round"/><path d="M249.64 1681.24Q258 1670.7 273.74 1667.33" stroke="#d7d7d7" stroke-width="3.15" fill="none" stroke-linecap="round"/><path d="M243.81 1708.64Q247.91 1695.34 253.53 1684.34" stroke="#cacaca" stroke-width="2.78" fill="none" stroke-linecap="round"/><path d="M276.35 1708.96Q286.97 1701.82 294.1 1691.4" stroke="#bfbfbf" stroke-width="3.53" fill="none" stroke-linecap="round"/><path d="M248.32 1639.31Q258.91 1630.72 271.73 1620.47" stroke="#c1c1c1" stroke-width="3.08" fill="none" stroke-linecap="round"/><path d="M263.41 1748.41Q273.34 1731.01 284.69 1721.85" stroke="#c3c3c3" stroke-width="2.25" fill="none" stroke-linecap="round"/><path d="M226.08 1665.42Q233.87 1656.14 235.21 1639.72" stroke="#d1d1d1" stroke-width="2.6" fill="none" stroke-linecap="round"/><path d="M251.11 1718.84Q255.66 1710.5 268.21 1705.21" stroke="#bfbfbf" stroke-width="2.96" fill="none" stroke-linecap="round"/><path d="M287.92 1714.69Q301.47 1703.72 307.16 1698.29" stroke="#dcdcdc" stroke-width="2.27" fill="none" stroke-linecap="round"/><path d="M245.5 1663.51Q251.42 1660.79 261.2 1652.14" stroke="#c0c0c0" stroke-width="1.97" fill="none" stroke-linecap="round"/><path d="M284.56 1728.23Q289.05 1724.48 290.66 1715.19" stroke="#f2f2f2" stroke-width="3.48" fill="none" stroke-linecap="round"/><path d="M269.89 1644.32Q279.09 1633.95 287.77 1631.5" stroke="#bfbfbf" stroke-width="2.64" fill="none" stroke-linecap="round"/><path d="M261.08 1671.23Q269.91 1671.95 272.51 1665.49" stroke="#c3c3c3" stroke-width="3.26" fill="none" stroke-linecap="round"/><path d="M258.52 1694.8Q269.49 1687.04 273.36 1675" stroke="#d7d7d7" stroke-width="2.52" fill="none" stroke-linecap="round"/><path d="M278.94 1723.57Q290.87 1718.57 294.74 1707.74" stroke="#d9d9d9" stroke-width="2.92" fill="none" stroke-linecap="round"/><path d="M274.44 1669.18Q283.24 1661.29 287.64 1656.63" stroke="#f0f0f0" stroke-width="2.98" fill="none" stroke-linecap="round"/><path d="M251.31 1714.15Q253.54 1707.38 263.69 1701.41" stroke="#cecece" stroke-width="2.54" fill="none" stroke-linecap="round"/><path d="M224.91 1661.96Q236.19 1654.46 243.35 1652.95" stroke="#c3c3c3" stroke-width="2.98" fill="none" stroke-linecap="round"/></g></g>
<path d="M537.8 1831.75C531.34 1837.29 526.72 1849.3 517.85 1859.47C508.98 1869.63 496.59 1881.18 484.58 1892.73C472.57 1904.28 460.1 1916.29 445.78 1928.76C431.46 1941.24 413.44 1956.02 398.66 1967.57C383.87 1979.12 368.63 1986.97 357.08 1998.06C345.53 2009.15 296.1 2024.85 329.36 2034.09C362.62 2043.33 518.77 2088.14 556.65 2053.5C594.53 2018.85 559.79 1863.16 556.65 1826.2C553.51 1789.25 544.27 1826.2 537.8 1831.75Z" fill="#f1f1f0" />
</g>
<path d="M93.5 1894.5L292.5 1621.5M219 2017L536.5 1852.5" stroke="#0a0505" stroke-width="4.4" fill="none"/>
<g clip-path="url(#ic2)"><g filter="url(#ihc2)"><g filter="url(#b3)"><rect x="286.6" y="1616" width="255.4" height="241.3" fill="#7f7f7f" /><path d="M294.73 1624.73C308.65 1600.52 367.9 1618.03 378.21 1624.73C388.51 1631.43 366.1 1652.56 356.57 1664.93C347.03 1677.29 329 1683.99 321.01 1698.93C313.03 1713.88 313.03 1742.73 308.65 1754.58C304.27 1766.43 297.05 1791.68 294.73 1770.04C292.41 1748.4 280.82 1648.95 294.73 1624.73Z" fill="#6b6b6b" /><path d="M294.73 1793.23C306.07 1786.79 343.68 1800.7 362.75 1808.69C381.82 1816.67 420.46 1834.71 409.13 1841.15C397.79 1847.59 313.8 1855.32 294.73 1847.33C275.67 1839.35 283.4 1799.67 294.73 1793.23Z" fill="#666666" /><path d="M501.88 1777.77C514.76 1763.6 527.64 1750.72 532.79 1762.31C537.94 1773.91 545.67 1833.16 532.79 1847.33C519.91 1861.5 460.65 1858.93 455.5 1847.33C450.35 1835.74 488.99 1791.94 501.88 1777.77Z" fill="#7f7f7f" /><path d="M409.13 1635.55C417.37 1628.6 433.86 1628.34 443.13 1630.92C452.41 1633.49 460.14 1642.77 464.78 1651.01C469.41 1659.26 464.78 1672.4 470.96 1680.38C477.14 1688.37 495.18 1689.14 501.88 1698.93C508.57 1708.72 510.63 1725.21 511.15 1739.13C511.67 1753.04 509.09 1769.01 504.97 1782.41C500.84 1795.81 495.95 1809.72 486.42 1819.51C476.88 1829.3 459.62 1839.09 447.77 1841.15C435.92 1843.21 423.81 1838.57 415.31 1831.88C406.81 1825.18 406.55 1808.69 396.76 1800.96C386.97 1793.23 369.96 1788.59 356.57 1785.5C343.17 1782.41 324.36 1790.14 316.38 1782.41C308.39 1774.68 307.87 1753.04 308.65 1739.13C309.42 1725.21 313.03 1709.75 321.01 1698.93C329 1688.11 344.46 1678.58 356.57 1674.2C368.68 1669.82 384.91 1679.1 393.67 1672.65C402.43 1666.21 400.88 1642.51 409.13 1635.55Z" fill="#ffffff" /><path d="M478.69 1626.28C485.39 1619.84 523.77 1619.84 532.79 1626.28C541.81 1632.72 536.4 1654.88 532.79 1664.93C529.18 1674.97 517.85 1686.57 511.15 1686.57C504.45 1686.57 498.01 1674.97 492.6 1664.93C487.19 1654.88 471.99 1632.72 478.69 1626.28Z" fill="#f9f9f9" /><path d="M310.19 1637.1C313.8 1631.95 339.05 1629.37 350.38 1630.92C361.72 1632.46 377.18 1640.71 378.21 1646.38C379.24 1652.04 364.81 1662.35 356.57 1664.93C348.32 1667.5 336.47 1666.47 328.74 1661.83C321.01 1657.2 306.58 1642.25 310.19 1637.1Z" fill="#c6c6c6" /><path d="M452.41 1630.92C454.73 1627.31 470.44 1623.7 477.14 1629.37C483.84 1635.04 488.99 1655.39 492.6 1664.93C496.21 1674.46 501.62 1683.48 498.78 1686.57C495.95 1689.66 481.52 1689.4 475.6 1683.48C469.67 1677.55 467.09 1659.77 463.23 1651.01C459.36 1642.25 450.09 1634.52 452.41 1630.92Z" fill="#000000" /><path d="M344.2 1788.59C350.38 1785.24 359.66 1783.44 365.84 1785.5C372.03 1787.56 377.18 1794.52 381.3 1800.96C385.42 1807.4 393.15 1818.99 390.58 1824.15C388 1829.3 374.86 1832.13 365.84 1831.88C356.82 1831.62 342.65 1826.98 336.47 1822.6C330.29 1818.22 327.45 1811.26 328.74 1805.6C330.03 1799.93 338.02 1791.94 344.2 1788.59Z" fill="#0a0a0a" /><path d="M511.15 1692.75C513.73 1681.41 529.18 1676.26 532.79 1686.57C536.4 1696.87 535.37 1743.25 532.79 1754.58C530.22 1765.92 520.94 1764.89 517.33 1754.58C513.73 1744.28 508.57 1704.09 511.15 1692.75Z" fill="#4c4c4c" /><path d="M356.57 1651.01C364.3 1646.63 401.4 1644.06 409.13 1646.38C416.85 1648.69 410.67 1660.55 402.94 1664.93C395.21 1669.3 370.48 1674.97 362.75 1672.65C355.02 1670.34 348.84 1655.39 356.57 1651.01Z" fill="#262626" /><path d="M299.37 1677.29C302.98 1669.56 319.47 1682.44 321.01 1692.75C322.56 1703.06 312.25 1731.4 308.65 1739.13C305.04 1746.85 300.92 1749.43 299.37 1739.13C297.83 1728.82 295.76 1685.02 299.37 1677.29Z" fill="#424242" /></g></g>
<g filter="url(#b1)"><circle cx="333.38" cy="1689.66" r="6.59" fill="#55301f" opacity=".6" stroke="#c09070" stroke-opacity=".5" stroke-width="1.2"/><circle cx="331.79" cy="1689.24" r="1.8" fill="#2a120a"/><circle cx="368.93" cy="1692.75" r="6.39" fill="#55301f" opacity=".6" stroke="#c09070" stroke-opacity=".5" stroke-width="1.2"/><circle cx="367.2" cy="1692.36" r="1.8" fill="#2a120a"/><circle cx="399.85" cy="1706.66" r="8.29" fill="#55301f" opacity=".6" stroke="#c09070" stroke-opacity=".5" stroke-width="1.2"/><circle cx="401.05" cy="1707.72" r="1.8" fill="#2a120a"/><circle cx="432.31" cy="1700.48" r="6.55" fill="#55301f" opacity=".6" stroke="#c09070" stroke-opacity=".5" stroke-width="1.2"/><circle cx="432.46" cy="1699.59" r="1.8" fill="#2a120a"/><circle cx="455.5" cy="1708.21" r="6.43" fill="#55301f" opacity=".6" stroke="#c09070" stroke-opacity=".5" stroke-width="1.2"/><circle cx="453.92" cy="1707.07" r="1.8" fill="#2a120a"/><circle cx="483.33" cy="1698.93" r="8.32" fill="#55301f" opacity=".6" stroke="#c09070" stroke-opacity=".5" stroke-width="1.2"/><circle cx="484.64" cy="1700.16" r="1.8" fill="#2a120a"/><circle cx="489.51" cy="1723.67" r="8" fill="#55301f" opacity=".6" stroke="#c09070" stroke-opacity=".5" stroke-width="1.2"/><circle cx="488.28" cy="1722.91" r="1.8" fill="#2a120a"/><circle cx="316.38" cy="1729.85" r="7.57" fill="#55301f" opacity=".6" stroke="#c09070" stroke-opacity=".5" stroke-width="1.2"/><circle cx="317.3" cy="1731.27" r="1.8" fill="#2a120a"/><circle cx="344.2" cy="1745.31" r="8.2" fill="#55301f" opacity=".6" stroke="#c09070" stroke-opacity=".5" stroke-width="1.2"/><circle cx="342.55" cy="1745.73" r="1.8" fill="#2a120a"/><circle cx="365.84" cy="1729.85" r="7.68" fill="#55301f" opacity=".6" stroke="#c09070" stroke-opacity=".5" stroke-width="1.2"/><circle cx="365.87" cy="1728.56" r="1.8" fill="#2a120a"/><circle cx="409.13" cy="1739.13" r="7.18" fill="#55301f" opacity=".6" stroke="#c09070" stroke-opacity=".5" stroke-width="1.2"/><circle cx="407.48" cy="1740.86" r="1.8" fill="#2a120a"/><circle cx="447.77" cy="1729.85" r="8.16" fill="#55301f" opacity=".6" stroke="#c09070" stroke-opacity=".5" stroke-width="1.2"/><circle cx="447.96" cy="1729.05" r="1.8" fill="#2a120a"/><circle cx="381.3" cy="1766.95" r="8.27" fill="#55301f" opacity=".6" stroke="#c09070" stroke-opacity=".5" stroke-width="1.2"/><circle cx="381.59" cy="1768.48" r="1.8" fill="#2a120a"/><circle cx="412.22" cy="1768.5" r="8.12" fill="#55301f" opacity=".6" stroke="#c09070" stroke-opacity=".5" stroke-width="1.2"/><circle cx="412.25" cy="1768.15" r="1.8" fill="#2a120a"/><circle cx="483.33" cy="1768.5" r="7.5" fill="#55301f" opacity=".6" stroke="#c09070" stroke-opacity=".5" stroke-width="1.2"/><circle cx="483.05" cy="1767.14" r="1.8" fill="#2a120a"/><circle cx="432.31" cy="1785.5" r="6.76" fill="#55301f" opacity=".6" stroke="#c09070" stroke-opacity=".5" stroke-width="1.2"/><circle cx="433.56" cy="1783.67" r="1.8" fill="#2a120a"/><circle cx="406.03" cy="1805.6" r="6.12" fill="#55301f" opacity=".6" stroke="#c09070" stroke-opacity=".5" stroke-width="1.2"/><circle cx="406.54" cy="1804.72" r="1.8" fill="#2a120a"/><circle cx="430.77" cy="1805.6" r="7.34" fill="#55301f" opacity=".6" stroke="#c09070" stroke-opacity=".5" stroke-width="1.2"/><circle cx="430.65" cy="1804.97" r="1.8" fill="#2a120a"/><circle cx="452.41" cy="1800.96" r="8.49" fill="#55301f" opacity=".6" stroke="#c09070" stroke-opacity=".5" stroke-width="1.2"/><circle cx="451.19" cy="1800.61" r="1.8" fill="#2a120a"/><circle cx="455.5" cy="1822.6" r="6.51" fill="#55301f" opacity=".6" stroke="#c09070" stroke-opacity=".5" stroke-width="1.2"/><circle cx="456.03" cy="1821.71" r="1.8" fill="#2a120a"/><circle cx="424.58" cy="1822.6" r="6.89" fill="#55301f" opacity=".6" stroke="#c09070" stroke-opacity=".5" stroke-width="1.2"/><circle cx="425.57" cy="1821.88" r="1.8" fill="#2a120a"/><circle cx="470.96" cy="1793.23" r="7.4" fill="#55301f" opacity=".6" stroke="#c09070" stroke-opacity=".5" stroke-width="1.2"/><circle cx="472.58" cy="1791.63" r="1.8" fill="#2a120a"/><circle cx="433.86" cy="1640.19" r="6.15" fill="#55301f" opacity=".6" stroke="#c09070" stroke-opacity=".5" stroke-width="1.2"/><circle cx="432.77" cy="1641.25" r="1.8" fill="#2a120a"/><circle cx="416.85" cy="1651.01" r="7.54" fill="#55301f" opacity=".6" stroke="#c09070" stroke-opacity=".5" stroke-width="1.2"/><circle cx="415.8" cy="1650.34" r="1.8" fill="#2a120a"/></g>
<circle cx="450.09" cy="1759.22" r="17.5" fill="#fbf6ea" stroke="#4a2616" stroke-width="2.2"/>
<circle cx="454.59" cy="1756.22" r="10" fill="#4a2412" filter="url(#b1)"/>
</g>
<rect x="293.6" y="1623" width="241.4" height="227.3" fill="none" stroke="#1e0c0a" stroke-width="4" />
<rect x="94.3" y="1895.5" width="123.7" height="120.9" fill="none" stroke="#0a0505" stroke-width="4.5" />
<circle cx="173.1" cy="1967.1" r="7.8" fill="#fbf6ea" stroke="#4a2616" stroke-width="1.8"/>
<circle cx="174.6" cy="1966.1" r="4" fill="#4a2412"/>
<rect x="492.8" y="2012.8" width="43.2" height="10.8" fill="#000" />
<text  x="626" y="1335.8" font-size="30" font-weight="bold" fill="#1a1a1a" >g</text>
<text  x="950.5" y="1417.7" font-size="30" text-anchor="middle" textLength="384.7" lengthAdjust="spacingAndGlyphs" >C7orf50 in pancreatic cancer</text>
<rect x="657.7" y="1436.4" width="639.9" height="311.9" fill="#fff" />
<path d="M743.8 1436.4L743.8 1748.3" stroke="#e6e6e6" stroke-width="1.2" />
<path d="M860.4 1436.4L860.4 1748.3" stroke="#e6e6e6" stroke-width="1.2" />
<path d="M977 1436.4L977 1748.3" stroke="#e6e6e6" stroke-width="1.2" />
<path d="M1093.6 1436.4L1093.6 1748.3" stroke="#e6e6e6" stroke-width="1.2" />
<path d="M1210.2 1436.4L1210.2 1748.3" stroke="#e6e6e6" stroke-width="1.2" />
<path d="M657.7 1699.24L1297.6 1699.24" stroke="#e6e6e6" stroke-width="1.2" />
<path d="M657.7 1627.71L1297.6 1627.71" stroke="#e6e6e6" stroke-width="1.2" />
<path d="M657.7 1556.19L1297.6 1556.19" stroke="#e6e6e6" stroke-width="1.2" />
<path d="M657.7 1484.66L1297.6 1484.66" stroke="#e6e6e6" stroke-width="1.2" />
<path d="M685.5 1436.4L685.5 1748.3" stroke="#d2d2d2" stroke-width="1.5" />
<path d="M802.1 1436.4L802.1 1748.3" stroke="#d2d2d2" stroke-width="1.5" />
<path d="M918.7 1436.4L918.7 1748.3" stroke="#d2d2d2" stroke-width="1.5" />
<path d="M1035.3 1436.4L1035.3 1748.3" stroke="#d2d2d2" stroke-width="1.5" />
<path d="M1151.9 1436.4L1151.9 1748.3" stroke="#d2d2d2" stroke-width="1.5" />
<path d="M1268.5 1436.4L1268.5 1748.3" stroke="#d2d2d2" stroke-width="1.5" />
<path d="M657.7 1735L1297.6 1735" stroke="#d2d2d2" stroke-width="1.5" />
<path d="M657.7 1663.47L1297.6 1663.47" stroke="#d2d2d2" stroke-width="1.5" />
<path d="M657.7 1591.95L1297.6 1591.95" stroke="#d2d2d2" stroke-width="1.5" />
<path d="M657.7 1520.43L1297.6 1520.43" stroke="#d2d2d2" stroke-width="1.5" />
<path d="M657.7 1448.9L1297.6 1448.9" stroke="#d2d2d2" stroke-width="1.5" />
<path d="M685.5 1592.31H909.7" stroke="#000" stroke-width="5" stroke-dasharray="17.3 18.1"/>
<path d="M835.07 1735V1606.31" stroke="#000" stroke-width="5" stroke-dasharray="17.3 18.1"/>
<path d="M908.02 1735V1606.31" stroke="#000" stroke-width="5" stroke-dasharray="17.3 18.1"/>
<clipPath id="gc"><rect x="657.7" y="1436.4" width="639.9" height="311.9"/></clipPath>
<g clip-path="url(#gc)" fill="none" stroke-linejoin="round">
<path d="M686.38 1448.66L687.31 1448.66L687.31 1456.12L720.9 1456.12L724.63 1456.12L724.63 1474.78L732.09 1474.78L732.09 1485.97L732.09 1498.1L756.34 1498.1L760.07 1498.1L760.07 1512.09L761.94 1512.09L761.94 1528.88L773.13 1528.88L780.6 1528.88L780.6 1541.94L789.93 1541.94L789.93 1553.13L797.39 1553.13L797.39 1558.73L804.85 1558.73L808.58 1558.73L808.58 1579.25L814.18 1579.25L814.18 1588.58L836.57 1588.58L838.43 1588.58L838.43 1609.1L844.03 1609.1L844.03 1620.3L852.43 1620.3L852.43 1622.16L852.43 1630.56L875.75 1630.56L879.48 1630.56L879.48 1670.67L883.21 1670.67L883.21 1680L976.49 1680L978.36 1680L978.36 1691.19L1111.7 1691.2L1111.7 1704.6L1165.8 1704.6L1165.8 1720.4L1300 1720.4" stroke="#1fbfc6" stroke-width="7.4"/>
<path d="M686.38 1448.66L690.58 1448.66L690.58 1448.19L694.78 1448.19L694.78 1447.72L698.2 1447.72L698.2 1449.19L701.62 1449.19L701.62 1450.65L705.04 1450.65L705.04 1452.11L708.46 1452.11L708.46 1453.57L711.88 1453.57L711.88 1455.03L715.3 1455.03L715.3 1456.49L718.56 1456.49L718.56 1459.29L721.83 1459.29L721.83 1462.09L725.09 1462.09L725.09 1464.89L728.36 1464.89L728.36 1467.69L731.62 1467.69L731.62 1469.09L734.89 1469.09L734.89 1470.49L738.15 1470.49L738.15 1471.88L741.42 1471.88L741.42 1473.28L744.68 1473.28L744.68 1474.68L747.95 1474.68L747.95 1476.08L751.21 1476.08L751.21 1477.48L754.48 1477.48L754.48 1478.88L757.74 1478.88L757.74 1480.98L761.01 1480.98L761.01 1483.08L764.27 1483.08L764.27 1485.18L767.54 1485.18L767.54 1487.28L770.8 1487.28L770.8 1489.38L774.07 1489.38L774.07 1491.47L777.33 1491.47L777.33 1493.57L780.6 1493.57L780.6 1495.67L784.33 1495.67L784.33 1497.16L788.06 1497.16L788.06 1498.66L791.79 1498.66L791.79 1500.15L795.52 1500.15L795.52 1501.64L799.25 1501.64L799.25 1503.13L802.99 1503.13L802.99 1505.75L806.72 1505.75L806.72 1508.36L810.45 1508.36L810.45 1510.97L814.18 1510.97L814.18 1513.58L817.91 1513.58L817.91 1516.19L821.64 1516.19L821.64 1518.53L825.37 1518.53L825.37 1520.86L829.1 1520.86L829.1 1523.19L832.84 1523.19L832.84 1525.52L836.1 1525.52L836.1 1530.19L839.37 1530.19L839.37 1534.85L842.63 1534.85L842.63 1539.51L845.9 1539.51L845.9 1544.18L849.63 1544.18L849.63 1547.44L853.36 1547.44L853.36 1550.71L857.09 1550.71L857.09 1553.97L860.82 1553.97L860.82 1557.24L864.55 1557.24L864.55 1558.36L868.28 1558.36L868.28 1559.48L872.01 1559.48L872.01 1560.6L875.75 1560.6L875.75 1561.72L879.48 1561.72L879.48 1562.84L883.21 1562.84L883.21 1565.82L886.94 1565.82L886.94 1568.81L890.67 1568.81L890.67 1571.79L894.4 1571.79L894.4 1574.78L898.13 1574.78L898.13 1577.76L901.87 1577.76L901.87 1582.11L905.6 1582.11L905.6 1586.47L909.33 1586.47L909.33 1590.82L913.99 1590.82L913.99 1593.43L918.66 1593.43L918.66 1596.04L924.25 1596.04L924.25 1605.37L1024.4 1605.4L1024.4 1613.1L1047.3 1613.1L1047.3 1620.2L1300 1620.2" stroke="#f4766e" stroke-width="7.4"/>
<path d="M989.06 1605.4v-5.6M995.3 1605.4v-5.6M997.38 1605.4v-5.6M1001.54 1605.4v-5.6M1007.78 1605.4v-5.6M1011.93 1605.4v-5.6M1014.01 1605.4v-5.6M1076.38 1620.2v-5.6M1088.86 1620.2v-5.6M1099.25 1620.2v-5.6M1263.49 1620.2v-5.6M1280.12 1620.2v-5.6" stroke="#f4766e" stroke-width="1.2"/>
<path d="M900.91 1680v-5.6M953.72 1680v-5.6" stroke="#1fbfc6" stroke-width="1.2"/>
</g>
<rect x="657.7" y="1436.4" width="639.9" height="311.9" fill="none" stroke="#adadad" stroke-width="1.9" />
<path d="M653.7 1735L657.7 1735" stroke="#444" stroke-width="1.4" />
<text  x="650" y="1742" font-size="22.4" text-anchor="end" textLength="43.7" lengthAdjust="spacingAndGlyphs" >0.00</text>
<path d="M653.7 1663.47L657.7 1663.47" stroke="#444" stroke-width="1.4" />
<text  x="650" y="1670.47" font-size="22.4" text-anchor="end" textLength="43.7" lengthAdjust="spacingAndGlyphs" >0.25</text>
<path d="M653.7 1591.95L657.7 1591.95" stroke="#444" stroke-width="1.4" />
<text  x="650" y="1598.95" font-size="22.4" text-anchor="end" textLength="43.7" lengthAdjust="spacingAndGlyphs" >0.50</text>
<path d="M653.7 1520.43L657.7 1520.43" stroke="#444" stroke-width="1.4" />
<text  x="650" y="1527.43" font-size="22.4" text-anchor="end" textLength="43.7" lengthAdjust="spacingAndGlyphs" >0.75</text>
<path d="M653.7 1448.9L657.7 1448.9" stroke="#444" stroke-width="1.4" />
<text  x="650" y="1455.9" font-size="22.4" text-anchor="end" textLength="43.7" lengthAdjust="spacingAndGlyphs" >1.00</text>
<text  font-size="22.3" text-anchor="middle" textLength="187" lengthAdjust="spacingAndGlyphs" transform="translate(589 1582) rotate(-90)" >Survival probability</text>
<path d="M685.5 1748.3L685.5 1752.3" stroke="#444" stroke-width="1.4" />
<text  x="685.5" y="1771" font-size="22.4" text-anchor="middle" >0</text>
<path d="M802.1 1748.3L802.1 1752.3" stroke="#444" stroke-width="1.4" />
<text  x="802.1" y="1771" font-size="22.4" text-anchor="middle" >1</text>
<path d="M918.7 1748.3L918.7 1752.3" stroke="#444" stroke-width="1.4" />
<text  x="918.7" y="1771" font-size="22.4" text-anchor="middle" >2</text>
<path d="M1035.3 1748.3L1035.3 1752.3" stroke="#444" stroke-width="1.4" />
<text  x="1035.3" y="1771" font-size="22.4" text-anchor="middle" >3</text>
<path d="M1151.9 1748.3L1151.9 1752.3" stroke="#444" stroke-width="1.4" />
<text  x="1151.9" y="1771" font-size="22.4" text-anchor="middle" >4</text>
<path d="M1268.5 1748.3L1268.5 1752.3" stroke="#444" stroke-width="1.4" />
<text  x="1268.5" y="1771" font-size="22.4" text-anchor="middle" >5</text>
<text  x="1000" y="1792" font-size="22.5" text-anchor="middle" textLength="134.2" lengthAdjust="spacingAndGlyphs" >Time in years</text>
<text  x="1046.5" y="1509" font-size="29" text-anchor="middle" textLength="138.5" lengthAdjust="spacingAndGlyphs" >p &lt; 0.0001</text>
<text  x="1101.3" y="1612.2" font-size="25.8" textLength="113" lengthAdjust="spacingAndGlyphs" >high fpkm</text>
<text  x="991" y="1681.7" font-size="25.8" textLength="102" lengthAdjust="spacingAndGlyphs" >low fpkm</text>
<text  x="657.7" y="1808.6" font-size="22.4" textLength="145.5" lengthAdjust="spacingAndGlyphs" >Number at risk</text>
<rect x="657.7" y="1822.3" width="639.9" height="64" fill="#fff" />
<path d="M743.8 1822.3L743.8 1886.3" stroke="#ececec" stroke-width="1" />
<path d="M860.4 1822.3L860.4 1886.3" stroke="#ececec" stroke-width="1" />
<path d="M977 1822.3L977 1886.3" stroke="#ececec" stroke-width="1" />
<path d="M1093.6 1822.3L1093.6 1886.3" stroke="#ececec" stroke-width="1" />
<path d="M1210.2 1822.3L1210.2 1886.3" stroke="#ececec" stroke-width="1" />
<path d="M685.5 1822.3L685.5 1886.3" stroke="#dcdcdc" stroke-width="1.4" />
<path d="M802.1 1822.3L802.1 1886.3" stroke="#dcdcdc" stroke-width="1.4" />
<path d="M918.7 1822.3L918.7 1886.3" stroke="#dcdcdc" stroke-width="1.4" />
<path d="M1035.3 1822.3L1035.3 1886.3" stroke="#dcdcdc" stroke-width="1.4" />
<path d="M1151.9 1822.3L1151.9 1886.3" stroke="#dcdcdc" stroke-width="1.4" />
<path d="M1268.5 1822.3L1268.5 1886.3" stroke="#dcdcdc" stroke-width="1.4" />
<path d="M657.7 1835.5L1297.6 1835.5" stroke="#dcdcdc" stroke-width="1.4" />
<path d="M657.7 1867.5L1297.6 1867.5" stroke="#dcdcdc" stroke-width="1.4" />
<rect x="657.7" y="1822.3" width="639.9" height="64" fill="none" stroke="#b0b0b0" stroke-width="1.6" />
<text  x="689.5" y="1843.5" font-size="22.4" text-anchor="middle" >135</text>
<text  x="689.5" y="1875.5" font-size="22.4" text-anchor="middle" >41</text>
<path d="M685.5 1886.3L685.5 1890.3" stroke="#444" stroke-width="1.4" />
<text  x="685.5" y="1907.5" font-size="22.4" text-anchor="middle" >0</text>
<text  x="806.1" y="1843.5" font-size="22.4" text-anchor="middle" >91</text>
<text  x="806.1" y="1875.5" font-size="22.4" text-anchor="middle" >23</text>
<path d="M802.1 1886.3L802.1 1890.3" stroke="#444" stroke-width="1.4" />
<text  x="802.1" y="1907.5" font-size="22.4" text-anchor="middle" >1</text>
<text  x="922.7" y="1843.5" font-size="22.4" text-anchor="middle" >30</text>
<text  x="922.7" y="1875.5" font-size="22.4" text-anchor="middle" >6</text>
<path d="M918.7 1886.3L918.7 1890.3" stroke="#444" stroke-width="1.4" />
<text  x="918.7" y="1907.5" font-size="22.4" text-anchor="middle" >2</text>
<text  x="1039.3" y="1843.5" font-size="22.4" text-anchor="middle" >17</text>
<text  x="1039.3" y="1875.5" font-size="22.4" text-anchor="middle" >3</text>
<path d="M1035.3 1886.3L1035.3 1890.3" stroke="#444" stroke-width="1.4" />
<text  x="1035.3" y="1907.5" font-size="22.4" text-anchor="middle" >3</text>
<text  x="1155.9" y="1843.5" font-size="22.4" text-anchor="middle" >9</text>
<text  x="1155.9" y="1875.5" font-size="22.4" text-anchor="middle" >2</text>
<path d="M1151.9 1886.3L1151.9 1890.3" stroke="#444" stroke-width="1.4" />
<text  x="1151.9" y="1907.5" font-size="22.4" text-anchor="middle" >4</text>
<text  x="1272.5" y="1843.5" font-size="22.4" text-anchor="middle" >7</text>
<text  x="1272.5" y="1875.5" font-size="22.4" text-anchor="middle" >1</text>
<path d="M1268.5 1886.3L1268.5 1890.3" stroke="#444" stroke-width="1.4" />
<text  x="1268.5" y="1907.5" font-size="22.4" text-anchor="middle" >5</text>
<path d="M653.7 1835.5L657.7 1835.5" stroke="#444" stroke-width="1.4" />
<path d="M653.7 1867.5L657.7 1867.5" stroke="#444" stroke-width="1.4" />
<text  x="650" y="1845.5" font-size="22.4" text-anchor="end" fill="#f4766e" textLength="106" lengthAdjust="spacingAndGlyphs" >ORF=High</text>
<text  x="651" y="1877.5" font-size="22.4" text-anchor="end" fill="#1fbfc6" textLength="102.4" lengthAdjust="spacingAndGlyphs" >ORF=Low</text>
<text  x="1000" y="1928" font-size="22.5" text-anchor="middle" textLength="134.2" lengthAdjust="spacingAndGlyphs" >Time in years</text>
<text  x="1350.5" y="1334.4" font-size="30" font-weight="bold" fill="#1a1a1a" >h</text>
<defs><linearGradient id="ng0" x1="0" y1="0" x2="0" y2="1"><stop offset="0" stop-color="#9a9a9a"/><stop offset=".12" stop-color="#b0b0b0"/><stop offset="1" stop-color="#f4f4f4"/></linearGradient><linearGradient id="ng1" x1="0" y1="0" x2="0" y2="1"><stop offset="0" stop-color="#46873c"/><stop offset=".12" stop-color="#5b9d51"/><stop offset="1" stop-color="#9adf93"/></linearGradient><linearGradient id="ng2" x1="0" y1="0" x2="0" y2="1"><stop offset="0" stop-color="#b58e74"/><stop offset=".12" stop-color="#c6a086"/><stop offset="1" stop-color="#fbd9bd"/></linearGradient><linearGradient id="ng3" x1="0" y1="0" x2="0" y2="1"><stop offset="0" stop-color="#7e7b33"/><stop offset=".12" stop-color="#949149"/><stop offset="1" stop-color="#d6d38c"/></linearGradient><linearGradient id="ng4" x1="0" y1="0" x2="0" y2="1"><stop offset="0" stop-color="#86a85e"/><stop offset=".12" stop-color="#9bbb73"/><stop offset="1" stop-color="#dcf7b4"/></linearGradient><linearGradient id="ng5" x1="0" y1="0" x2="0" y2="1"><stop offset="0" stop-color="#5d9a78"/><stop offset=".12" stop-color="#73b08e"/><stop offset="1" stop-color="#b7f5d3"/></linearGradient><linearGradient id="ng6" x1="0" y1="0" x2="0" y2="1"><stop offset="0" stop-color="#9c2f33"/><stop offset=".12" stop-color="#b2494c"/><stop offset="1" stop-color="#f59a9a"/></linearGradient><linearGradient id="hl" x1="0" y1="0" x2="0" y2="1"><stop offset="0" stop-color="#fff" stop-opacity=".95"/><stop offset="1" stop-color="#fff" stop-opacity=".35"/></linearGradient><radialGradient id="rim" cx=".5" cy=".5" r=".5"><stop offset=".8" stop-color="#000" stop-opacity="0"/><stop offset="1" stop-color="#000" stop-opacity=".28"/></radialGradient><filter id="lb" x="-10%" y="-20%" width="120%" height="140%"><feGaussianBlur stdDeviation="1.6"/></filter></defs>
<path d="M1563.42 1342.16L1710.92 1393.66M1564.35 1350.39L1442.15 1427.19M1564.98 1349.92L1358.08 1536.12M1685.15 1562.75L1557.95 1348.85M1566.12 1348.34L1416.72 1691.54M1566.36 1345.37L1661.96 1723.87M1439.27 1418.72L1708.97 1393.42M1353.37 1528.4L1707.77 1393.7M1684.54 1559.83L1704.84 1397.43M1652.96 1724.28L1704.86 1397.28M1351.36 1529.88L1436.06 1420.48M1686.88 1564.43L1437.48 1427.33M1536.59 1625.57L1435.59 1425.37M1407.92 1689.23L1435.12 1422.83M1443.43 1420.61L1661.23 1722.31M1688.72 1564.98L1354.62 1537.28M1538.68 1627.63L1352.98 1536.83M1408.18 1691.28L1350.68 1534.28M1357.47 1528.82L1659.97 1721.12M1538.9 1619.27L1687.3 1556.17M1691.05 1564.57L1414.45 1693.87M1693.62 1561.27L1662.02 1725.87M1542.81 1627.59L1414.61 1693.79M1543.72 1620.03L1660.52 1721.53M1413.16 1685.15L1658.16 1720.45M1824.79 1700.53L1658.29 1729.53" stroke="#3aa9cb" stroke-width="1.75" fill="none"/>
<path d="M1561.9 1346.5L1709.4 1398M1561.9 1346.5L1439.7 1423.3M1561.9 1346.5L1355 1532.7M1689.1 1560.4L1561.9 1346.5M1538.41 1623.32L1559.61 1346.32M1561.9 1346.5L1412.5 1689.7M1561.9 1346.5L1657.5 1725M1822.16 1697.38L1560.06 1347.88M1439.7 1423.3L1709.4 1398M1355 1532.7L1709.4 1398M1689.1 1560.4L1709.4 1398M1538.86 1622.12L1707.56 1396.62M1410.89 1688.06L1707.79 1396.36M1657.5 1725L1709.4 1398M1355 1532.7L1439.7 1423.3M1689.1 1560.4L1439.7 1423.3M1540.7 1623.5L1439.7 1423.3M1412.5 1689.7L1439.7 1423.3M1439.7 1423.3L1657.5 1725M1822.67 1697.88L1438.37 1425.18M1689.1 1560.4L1355 1532.7M1540.7 1623.5L1355 1532.7M1412.5 1689.7L1355 1532.7M1355 1532.7L1657.5 1725M1823.24 1698.17L1354.24 1534.87M1540.7 1623.5L1689.1 1560.4M1689.1 1560.4L1412.5 1689.7M1689.1 1560.4L1657.5 1725M1822.37 1697.62L1687.47 1562.02M1540.7 1623.5L1412.5 1689.7M1540.7 1623.5L1657.5 1725M1823.43 1698.23L1540.13 1625.73M1412.5 1689.7L1657.5 1725M1823.96 1698.3L1412.46 1692M1824 1696L1657.5 1725M1643.87 1932.16L1356.87 1531.36M1644.14 1932.65L1441.84 1422.45M1822.17 1694.6L1640.17 1932.1M1454.59 2004.56L1642.79 1935.66M1456.04 2002.91L1542.94 1624.01" stroke="#b52db8" stroke-width="1.75" fill="none"/>
<path d="M1560.38 1350.84L1707.88 1402.34M1559.45 1342.61L1437.25 1419.41M1558.82 1343.08L1351.92 1529.28M1693.05 1558.05L1565.85 1344.15M1542.99 1623.68L1564.19 1346.68M1557.68 1344.66L1408.28 1687.86M1557.44 1347.63L1653.04 1726.13M1825.84 1694.62L1563.74 1345.12M1440.13 1427.88L1709.83 1402.58M1356.63 1537L1711.03 1402.3M1693.66 1560.97L1713.96 1398.57M1542.54 1624.88L1711.24 1399.38M1414.11 1691.34L1711.01 1399.64M1662.04 1725.72L1713.94 1398.72M1824 1696L1709.4 1398M1358.64 1535.52L1443.34 1426.12M1691.32 1556.37L1441.92 1419.27M1544.81 1621.43L1443.81 1421.23M1417.08 1690.17L1444.28 1423.77M1435.97 1425.99L1653.77 1727.69M1825.33 1694.12L1441.03 1421.42M1689.48 1555.82L1355.38 1528.12M1542.72 1619.37L1357.02 1528.57M1416.82 1688.12L1359.32 1531.12M1352.53 1536.58L1655.03 1728.88M1824.76 1693.83L1355.76 1530.53M1542.5 1627.73L1690.9 1564.63M1687.15 1556.23L1410.55 1685.53M1684.58 1559.53L1652.98 1724.13M1825.63 1694.38L1690.73 1558.78M1538.59 1619.41L1410.39 1685.61M1537.68 1626.97L1654.48 1728.47M1824.57 1693.77L1541.27 1621.27M1411.84 1694.25L1656.84 1729.55M1824.04 1693.7L1412.54 1687.4M1823.21 1691.47L1656.71 1720.47M1640.13 1934.84L1353.13 1534.04M1639.86 1934.35L1437.56 1424.15M1540.7 1623.5L1642 1933.5M1642 1933.5L1412.5 1689.7M1639.71 1933.33L1655.21 1724.83M1644.29 1933.67L1659.79 1725.17M1825.83 1697.4L1643.83 1934.9M1689.1 1560.4L1642 1933.5M1642 1933.5L1561.9 1346.5M1453.01 2000.24L1641.21 1931.34M1453.8 2002.4L1412.5 1689.7M1451.56 2001.89L1538.46 1622.99M1453.8 2002.4L1689.1 1560.4M1453.8 2002.4L1657.5 1725M1453.8 2002.4L1824 1696" stroke="#2a2a2a" stroke-width="1.75" fill="none"/>
<circle cx="1440.7" cy="1430.8" r="41.5" fill="#666"/>
<circle cx="1439.7" cy="1423.3" r="42" fill="url(#ng0)"/>
<circle cx="1439.7" cy="1423.3" r="42" fill="url(#rim)"/>
<ellipse cx="1439.7" cy="1397.3" rx="24" ry="10.5" fill="url(#hl)"/>
<rect x="1470.8" y="1357.5" width="100.3" height="37" rx="3" fill="#f9f8f1" filter="url(#lb)"/>
<text  x="1479.8" y="1384.5" font-size="25.1" textLength="82.3" lengthAdjust="spacingAndGlyphs" >NOP58</text>
<circle cx="1562.9" cy="1354" r="41.5" fill="#666"/>
<circle cx="1561.9" cy="1346.5" r="42" fill="url(#ng0)"/>
<circle cx="1561.9" cy="1346.5" r="42" fill="url(#rim)"/>
<ellipse cx="1561.9" cy="1320.5" rx="24" ry="10.5" fill="url(#hl)"/>
<rect x="1592.7" y="1281.8" width="100.1" height="37" rx="3" fill="#f9f8f1" filter="url(#lb)"/>
<text  x="1601.7" y="1308.8" font-size="25.1" textLength="82.1" lengthAdjust="spacingAndGlyphs" >NOC4L</text>
<circle cx="1710.4" cy="1405.5" r="41.5" fill="#666"/>
<circle cx="1709.4" cy="1398" r="42" fill="url(#ng0)"/>
<circle cx="1709.4" cy="1398" r="42" fill="url(#rim)"/>
<ellipse cx="1709.4" cy="1372" rx="24" ry="10.5" fill="url(#hl)"/>
<rect x="1742.3" y="1332.3" width="74.2" height="37" rx="3" fill="#f9f8f1" filter="url(#lb)"/>
<text  x="1751.3" y="1359.3" font-size="25.1" textLength="56.2" lengthAdjust="spacingAndGlyphs" >TBL3</text>
<circle cx="1356" cy="1540.2" r="41.5" fill="#666"/>
<circle cx="1355" cy="1532.7" r="42" fill="url(#ng0)"/>
<circle cx="1355" cy="1532.7" r="42" fill="url(#rim)"/>
<ellipse cx="1355" cy="1506.7" rx="24" ry="10.5" fill="url(#hl)"/>
<rect x="1386.3" y="1468.2" width="100.3" height="37" rx="3" fill="#f9f8f1" filter="url(#lb)"/>
<text  x="1395.3" y="1495.2" font-size="25.1" textLength="82.3" lengthAdjust="spacingAndGlyphs" >NOP56</text>
<circle cx="1690.1" cy="1567.9" r="41.5" fill="#666"/>
<circle cx="1689.1" cy="1560.4" r="42" fill="url(#ng1)"/>
<circle cx="1689.1" cy="1560.4" r="42" fill="url(#rim)"/>
<ellipse cx="1689.1" cy="1534.4" rx="24" ry="10.5" fill="url(#hl)"/>
<rect x="1720" y="1493.9" width="83.5" height="37" rx="3" fill="#f9f8f1" filter="url(#lb)"/>
<text  x="1729" y="1520.9" font-size="25.1" textLength="65.5" lengthAdjust="spacingAndGlyphs" >KRR1</text>
<circle cx="1541.7" cy="1631" r="41.5" fill="#666"/>
<circle cx="1540.7" cy="1623.5" r="42" fill="url(#ng2)"/>
<circle cx="1540.7" cy="1623.5" r="42" fill="url(#rim)"/>
<ellipse cx="1540.7" cy="1597.5" rx="24" ry="10.5" fill="url(#hl)"/>
<rect x="1563.5" y="1558.2" width="90.7" height="37" rx="3" fill="#f9f8f1" filter="url(#lb)"/>
<text  x="1572.5" y="1585.2" font-size="25.1" textLength="72.7" lengthAdjust="spacingAndGlyphs" >FTSJ3</text>
<circle cx="1413.5" cy="1697.2" r="41.5" fill="#666"/>
<circle cx="1412.5" cy="1689.7" r="42" fill="url(#ng3)"/>
<circle cx="1412.5" cy="1689.7" r="42" fill="url(#rim)"/>
<ellipse cx="1412.5" cy="1663.7" rx="24" ry="10.5" fill="url(#hl)"/>
<rect x="1443.7" y="1624" width="98.3" height="37" rx="3" fill="#f9f8f1" filter="url(#lb)"/>
<text  x="1452.7" y="1651" font-size="25.1" textLength="80.3" lengthAdjust="spacingAndGlyphs" >NOP14</text>
<circle cx="1658.5" cy="1732.5" r="41.5" fill="#666"/>
<circle cx="1657.5" cy="1725" r="42" fill="url(#ng4)"/>
<circle cx="1657.5" cy="1725" r="42" fill="url(#rim)"/>
<ellipse cx="1657.5" cy="1699" rx="24" ry="10.5" fill="url(#hl)"/>
<rect x="1687.5" y="1660.8" width="81.5" height="37" rx="3" fill="#f9f8f1" filter="url(#lb)"/>
<text  x="1696.5" y="1687.8" font-size="25.1" textLength="63.5" lengthAdjust="spacingAndGlyphs" >PES1</text>
<circle cx="1825" cy="1703.5" r="41.5" fill="#666"/>
<circle cx="1824" cy="1696" r="42" fill="url(#ng0)"/>
<circle cx="1824" cy="1696" r="42" fill="url(#rim)"/>
<ellipse cx="1824" cy="1670" rx="24" ry="10.5" fill="url(#hl)"/>
<rect x="1803.5" y="1597.2" width="148.2" height="37" rx="3" fill="#f9f8f1" filter="url(#lb)"/>
<text  x="1812.5" y="1624.2" font-size="25.1" textLength="130.2" lengthAdjust="spacingAndGlyphs" >EBNA1BP2</text>
<circle cx="1643" cy="1941" r="41.5" fill="#666"/>
<circle cx="1642" cy="1933.5" r="42" fill="url(#ng5)"/>
<circle cx="1642" cy="1933.5" r="42" fill="url(#rim)"/>
<ellipse cx="1642" cy="1907.5" rx="24" ry="10.5" fill="url(#hl)"/>
<rect x="1673.4" y="1868.2" width="81.1" height="37" rx="3" fill="#f9f8f1" filter="url(#lb)"/>
<text  x="1682.4" y="1895.2" font-size="25.1" font-weight="bold" textLength="63.1" lengthAdjust="spacingAndGlyphs" >LYAR</text>
<circle cx="1454.8" cy="2009.9" r="41.5" fill="#666"/>
<circle cx="1453.8" cy="2002.4" r="42" fill="url(#ng6)"/>
<circle cx="1453.8" cy="2002.4" r="42" fill="url(#rim)"/>
<ellipse cx="1453.8" cy="1976.4" rx="24" ry="10.5" fill="url(#hl)"/>
<rect x="1483.9" y="1936.4" width="110.6" height="37" rx="3" fill="#f9f8f1" filter="url(#lb)"/>
<text  x="1492.9" y="1963.4" font-size="25.1" font-weight="bold" textLength="92.6" lengthAdjust="spacingAndGlyphs" >C7orf50</text>
</svg>
</body></html>
